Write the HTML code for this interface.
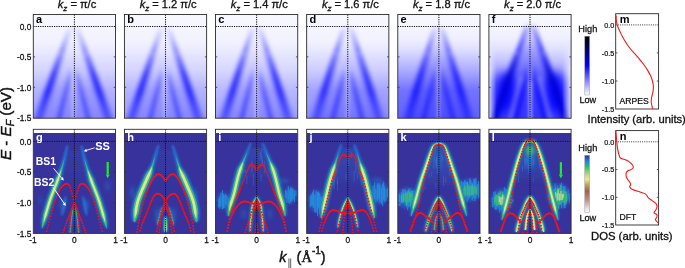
<!DOCTYPE html>
<html><head><meta charset="utf-8"><style>html,body{margin:0;padding:0;background:#fff;}body{width:685px;height:268px;overflow:hidden;}svg{display:block;}</style></head>
<body><svg xmlns="http://www.w3.org/2000/svg" width="685" height="268" viewBox="0 0 685 268">
<defs><clipPath id="ct0"><rect x="33.3" y="14.5" width="82.2" height="103.7"/></clipPath>
<linearGradient id="gt0" gradientUnits="userSpaceOnUse" x1="0" y1="14.5" x2="0" y2="118.2"><stop offset="-0" stop-color="#00f" stop-opacity="0.03"/><stop offset="0.12" stop-color="#00f" stop-opacity="0.04"/><stop offset="0.25" stop-color="#00f" stop-opacity="0.05"/><stop offset="0.34" stop-color="#00f" stop-opacity="0.08"/><stop offset="0.54" stop-color="#00f" stop-opacity="0.17"/><stop offset="0.73" stop-color="#00f" stop-opacity="0.3"/><stop offset="1" stop-color="#00f" stop-opacity="0.4"/></linearGradient>
<linearGradient id="gi0" gradientUnits="userSpaceOnUse" x1="0" y1="14.5" x2="0" y2="118.2"><stop offset="0.12" stop-color="#00f" stop-opacity="0"/><stop offset="0.34" stop-color="#00f" stop-opacity="0.02"/><stop offset="0.54" stop-color="#00f" stop-opacity="0.06"/><stop offset="0.73" stop-color="#00f" stop-opacity="0.12"/><stop offset="1" stop-color="#00f" stop-opacity="0.12"/></linearGradient>
<linearGradient id="gb0" gradientUnits="userSpaceOnUse" x1="0" y1="14.5" x2="0" y2="118.2"><stop offset="0.11" stop-color="#00f" stop-opacity="0"/><stop offset="0.15" stop-color="#00f" stop-opacity="0.1"/><stop offset="0.25" stop-color="#00f" stop-opacity="0.25"/><stop offset="0.34" stop-color="#00f" stop-opacity="0.42"/><stop offset="0.46" stop-color="#00f" stop-opacity="0.65"/><stop offset="0.58" stop-color="#00f" stop-opacity="0.85"/><stop offset="0.75" stop-color="#00f" stop-opacity="0.85"/><stop offset="0.87" stop-color="#00f" stop-opacity="0.62"/><stop offset="1" stop-color="#00f" stop-opacity="0.45"/></linearGradient>
<linearGradient id="gn0" gradientUnits="userSpaceOnUse" x1="0" y1="14.5" x2="0" y2="118.2"><stop offset="0.5" stop-color="#00f" stop-opacity="0"/><stop offset="0.63" stop-color="#00f" stop-opacity="0.32"/><stop offset="0.82" stop-color="#00f" stop-opacity="0.5"/><stop offset="1" stop-color="#00f" stop-opacity="0.5"/></linearGradient>
<filter id="b2_0" filterUnits="userSpaceOnUse" x="0" y="0" width="685" height="268"><feGaussianBlur stdDeviation="2.0"/></filter>
<filter id="b2_2" filterUnits="userSpaceOnUse" x="0" y="0" width="685" height="268"><feGaussianBlur stdDeviation="2.2"/></filter>
<filter id="b2_6" filterUnits="userSpaceOnUse" x="0" y="0" width="685" height="268"><feGaussianBlur stdDeviation="2.6"/></filter>
<filter id="b1_6" filterUnits="userSpaceOnUse" x="0" y="0" width="685" height="268"><feGaussianBlur stdDeviation="1.6"/></filter>
<clipPath id="ct1"><rect x="124.42" y="14.5" width="82.2" height="103.7"/></clipPath>
<linearGradient id="gt1" gradientUnits="userSpaceOnUse" x1="0" y1="14.5" x2="0" y2="118.2"><stop offset="-0" stop-color="#00f" stop-opacity="0.03"/><stop offset="0.12" stop-color="#00f" stop-opacity="0.04"/><stop offset="0.25" stop-color="#00f" stop-opacity="0.05"/><stop offset="0.34" stop-color="#00f" stop-opacity="0.08"/><stop offset="0.54" stop-color="#00f" stop-opacity="0.17"/><stop offset="0.73" stop-color="#00f" stop-opacity="0.3"/><stop offset="1" stop-color="#00f" stop-opacity="0.4"/></linearGradient>
<linearGradient id="gi1" gradientUnits="userSpaceOnUse" x1="0" y1="14.5" x2="0" y2="118.2"><stop offset="0.12" stop-color="#00f" stop-opacity="0"/><stop offset="0.34" stop-color="#00f" stop-opacity="0.02"/><stop offset="0.54" stop-color="#00f" stop-opacity="0.06"/><stop offset="0.73" stop-color="#00f" stop-opacity="0.12"/><stop offset="1" stop-color="#00f" stop-opacity="0.12"/></linearGradient>
<linearGradient id="gb1" gradientUnits="userSpaceOnUse" x1="0" y1="14.5" x2="0" y2="118.2"><stop offset="0.11" stop-color="#00f" stop-opacity="0"/><stop offset="0.15" stop-color="#00f" stop-opacity="0.1"/><stop offset="0.25" stop-color="#00f" stop-opacity="0.25"/><stop offset="0.34" stop-color="#00f" stop-opacity="0.42"/><stop offset="0.46" stop-color="#00f" stop-opacity="0.65"/><stop offset="0.58" stop-color="#00f" stop-opacity="0.84"/><stop offset="0.75" stop-color="#00f" stop-opacity="0.84"/><stop offset="0.87" stop-color="#00f" stop-opacity="0.62"/><stop offset="1" stop-color="#00f" stop-opacity="0.45"/></linearGradient>
<linearGradient id="gn1" gradientUnits="userSpaceOnUse" x1="0" y1="14.5" x2="0" y2="118.2"><stop offset="0.5" stop-color="#00f" stop-opacity="0"/><stop offset="0.63" stop-color="#00f" stop-opacity="0.32"/><stop offset="0.82" stop-color="#00f" stop-opacity="0.5"/><stop offset="1" stop-color="#00f" stop-opacity="0.5"/></linearGradient>
<clipPath id="ct2"><rect x="215.54" y="14.5" width="82.2" height="103.7"/></clipPath>
<linearGradient id="gt2" gradientUnits="userSpaceOnUse" x1="0" y1="14.5" x2="0" y2="118.2"><stop offset="-0" stop-color="#00f" stop-opacity="0.03"/><stop offset="0.12" stop-color="#00f" stop-opacity="0.04"/><stop offset="0.25" stop-color="#00f" stop-opacity="0.05"/><stop offset="0.34" stop-color="#00f" stop-opacity="0.08"/><stop offset="0.54" stop-color="#00f" stop-opacity="0.16"/><stop offset="0.73" stop-color="#00f" stop-opacity="0.28"/><stop offset="1" stop-color="#00f" stop-opacity="0.38"/></linearGradient>
<linearGradient id="gi2" gradientUnits="userSpaceOnUse" x1="0" y1="14.5" x2="0" y2="118.2"><stop offset="0.12" stop-color="#00f" stop-opacity="0"/><stop offset="0.34" stop-color="#00f" stop-opacity="0.03"/><stop offset="0.54" stop-color="#00f" stop-opacity="0.08"/><stop offset="0.73" stop-color="#00f" stop-opacity="0.14"/><stop offset="1" stop-color="#00f" stop-opacity="0.14"/></linearGradient>
<linearGradient id="gb2" gradientUnits="userSpaceOnUse" x1="0" y1="14.5" x2="0" y2="118.2"><stop offset="0.11" stop-color="#00f" stop-opacity="0"/><stop offset="0.15" stop-color="#00f" stop-opacity="0.12"/><stop offset="0.25" stop-color="#00f" stop-opacity="0.28"/><stop offset="0.34" stop-color="#00f" stop-opacity="0.45"/><stop offset="0.46" stop-color="#00f" stop-opacity="0.65"/><stop offset="0.58" stop-color="#00f" stop-opacity="0.82"/><stop offset="0.75" stop-color="#00f" stop-opacity="0.82"/><stop offset="0.87" stop-color="#00f" stop-opacity="0.62"/><stop offset="1" stop-color="#00f" stop-opacity="0.45"/></linearGradient>
<linearGradient id="gn2" gradientUnits="userSpaceOnUse" x1="0" y1="14.5" x2="0" y2="118.2"><stop offset="0.5" stop-color="#00f" stop-opacity="0"/><stop offset="0.63" stop-color="#00f" stop-opacity="0.34"/><stop offset="0.82" stop-color="#00f" stop-opacity="0.52"/><stop offset="1" stop-color="#00f" stop-opacity="0.52"/></linearGradient>
<clipPath id="ct3"><rect x="306.66" y="14.5" width="82.2" height="103.7"/></clipPath>
<linearGradient id="gt3" gradientUnits="userSpaceOnUse" x1="0" y1="14.5" x2="0" y2="118.2"><stop offset="-0" stop-color="#00f" stop-opacity="0.03"/><stop offset="0.12" stop-color="#00f" stop-opacity="0.04"/><stop offset="0.25" stop-color="#00f" stop-opacity="0.05"/><stop offset="0.34" stop-color="#00f" stop-opacity="0.09"/><stop offset="0.54" stop-color="#00f" stop-opacity="0.2"/><stop offset="0.73" stop-color="#00f" stop-opacity="0.36"/><stop offset="1" stop-color="#00f" stop-opacity="0.46"/></linearGradient>
<linearGradient id="gi3" gradientUnits="userSpaceOnUse" x1="0" y1="14.5" x2="0" y2="118.2"><stop offset="0.12" stop-color="#00f" stop-opacity="0"/><stop offset="0.34" stop-color="#00f" stop-opacity="0.05"/><stop offset="0.54" stop-color="#00f" stop-opacity="0.1"/><stop offset="0.73" stop-color="#00f" stop-opacity="0.16"/><stop offset="1" stop-color="#00f" stop-opacity="0.16"/></linearGradient>
<linearGradient id="gb3" gradientUnits="userSpaceOnUse" x1="0" y1="14.5" x2="0" y2="118.2"><stop offset="0.11" stop-color="#00f" stop-opacity="0"/><stop offset="0.15" stop-color="#00f" stop-opacity="0.14"/><stop offset="0.25" stop-color="#00f" stop-opacity="0.3"/><stop offset="0.34" stop-color="#00f" stop-opacity="0.48"/><stop offset="0.46" stop-color="#00f" stop-opacity="0.66"/><stop offset="0.58" stop-color="#00f" stop-opacity="0.8"/><stop offset="0.75" stop-color="#00f" stop-opacity="0.78"/><stop offset="0.87" stop-color="#00f" stop-opacity="0.55"/><stop offset="1" stop-color="#00f" stop-opacity="0.4"/></linearGradient>
<linearGradient id="gn3" gradientUnits="userSpaceOnUse" x1="0" y1="14.5" x2="0" y2="118.2"><stop offset="0.5" stop-color="#00f" stop-opacity="0"/><stop offset="0.63" stop-color="#00f" stop-opacity="0.36"/><stop offset="0.82" stop-color="#00f" stop-opacity="0.54"/><stop offset="1" stop-color="#00f" stop-opacity="0.54"/></linearGradient>
<clipPath id="ct4"><rect x="397.78" y="14.5" width="82.2" height="103.7"/></clipPath>
<linearGradient id="gt4" gradientUnits="userSpaceOnUse" x1="0" y1="14.5" x2="0" y2="118.2"><stop offset="-0" stop-color="#00f" stop-opacity="0.03"/><stop offset="0.12" stop-color="#00f" stop-opacity="0.04"/><stop offset="0.25" stop-color="#00f" stop-opacity="0.07"/><stop offset="0.34" stop-color="#00f" stop-opacity="0.13"/><stop offset="0.54" stop-color="#00f" stop-opacity="0.33"/><stop offset="0.73" stop-color="#00f" stop-opacity="0.55"/><stop offset="1" stop-color="#00f" stop-opacity="0.62"/></linearGradient>
<linearGradient id="gi4" gradientUnits="userSpaceOnUse" x1="0" y1="14.5" x2="0" y2="118.2"><stop offset="0.12" stop-color="#00f" stop-opacity="0"/><stop offset="0.34" stop-color="#00f" stop-opacity="0.12"/><stop offset="0.54" stop-color="#00f" stop-opacity="0.2"/><stop offset="0.73" stop-color="#00f" stop-opacity="0.2"/><stop offset="1" stop-color="#00f" stop-opacity="0.2"/></linearGradient>
<linearGradient id="gb4" gradientUnits="userSpaceOnUse" x1="0" y1="14.5" x2="0" y2="118.2"><stop offset="0.11" stop-color="#00f" stop-opacity="0"/><stop offset="0.15" stop-color="#00f" stop-opacity="0.15"/><stop offset="0.25" stop-color="#00f" stop-opacity="0.33"/><stop offset="0.34" stop-color="#00f" stop-opacity="0.5"/><stop offset="0.46" stop-color="#00f" stop-opacity="0.68"/><stop offset="0.58" stop-color="#00f" stop-opacity="0.82"/><stop offset="0.75" stop-color="#00f" stop-opacity="0.8"/><stop offset="0.87" stop-color="#00f" stop-opacity="0.58"/><stop offset="1" stop-color="#00f" stop-opacity="0.42"/></linearGradient>
<linearGradient id="gn4" gradientUnits="userSpaceOnUse" x1="0" y1="14.5" x2="0" y2="118.2"><stop offset="0.5" stop-color="#00f" stop-opacity="0"/><stop offset="0.63" stop-color="#00f" stop-opacity="0.38"/><stop offset="0.82" stop-color="#00f" stop-opacity="0.55"/><stop offset="1" stop-color="#00f" stop-opacity="0.55"/></linearGradient>
<clipPath id="ct5"><rect x="488.9" y="14.5" width="82.2" height="103.7"/></clipPath>
<linearGradient id="gt5" gradientUnits="userSpaceOnUse" x1="0" y1="14.5" x2="0" y2="118.2"><stop offset="-0" stop-color="#00f" stop-opacity="0.03"/><stop offset="0.12" stop-color="#00f" stop-opacity="0.04"/><stop offset="0.25" stop-color="#00f" stop-opacity="0.07"/><stop offset="0.34" stop-color="#00f" stop-opacity="0.13"/><stop offset="0.44" stop-color="#00f" stop-opacity="0.23"/><stop offset="0.54" stop-color="#00f" stop-opacity="0.36"/><stop offset="0.63" stop-color="#00f" stop-opacity="0.5"/><stop offset="0.73" stop-color="#00f" stop-opacity="0.6"/><stop offset="0.82" stop-color="#00f" stop-opacity="0.65"/><stop offset="1" stop-color="#00f" stop-opacity="0.68"/></linearGradient>
<linearGradient id="gi5" gradientUnits="userSpaceOnUse" x1="0" y1="14.5" x2="0" y2="118.2"><stop offset="0.12" stop-color="#00f" stop-opacity="0.04"/><stop offset="0.25" stop-color="#00f" stop-opacity="0.18"/><stop offset="0.34" stop-color="#00f" stop-opacity="0.28"/><stop offset="0.54" stop-color="#00f" stop-opacity="0.35"/><stop offset="0.73" stop-color="#00f" stop-opacity="0.4"/><stop offset="1" stop-color="#00f" stop-opacity="0.35"/></linearGradient>
<linearGradient id="gb5" gradientUnits="userSpaceOnUse" x1="0" y1="14.5" x2="0" y2="118.2"><stop offset="0.11" stop-color="#00f" stop-opacity="0.05"/><stop offset="0.13" stop-color="#00f" stop-opacity="0.3"/><stop offset="0.25" stop-color="#00f" stop-opacity="0.55"/><stop offset="0.34" stop-color="#00f" stop-opacity="0.7"/><stop offset="0.49" stop-color="#00f" stop-opacity="0.95"/><stop offset="0.73" stop-color="#00f" stop-opacity="0.98"/><stop offset="1" stop-color="#00f" stop-opacity="0.95"/></linearGradient>
<linearGradient id="gn5" gradientUnits="userSpaceOnUse" x1="0" y1="14.5" x2="0" y2="118.2"><stop offset="0.46" stop-color="#00f" stop-opacity="0"/><stop offset="0.61" stop-color="#00f" stop-opacity="0.5"/><stop offset="0.78" stop-color="#00f" stop-opacity="0.8"/><stop offset="1" stop-color="#00f" stop-opacity="0.8"/></linearGradient>
<filter id="b5_0" filterUnits="userSpaceOnUse" x="0" y="0" width="685" height="268"><feGaussianBlur stdDeviation="5.0"/></filter>
<linearGradient id="fd5" gradientUnits="userSpaceOnUse" x1="0" y1="50" x2="0" y2="118.2"><stop offset="0" stop-color="#000050" stop-opacity="0"/><stop offset="0.4" stop-color="#000050" stop-opacity="0.3"/><stop offset="1" stop-color="#000050" stop-opacity="0.25"/></linearGradient>
<filter id="b2_5" filterUnits="userSpaceOnUse" x="0" y="0" width="685" height="268"><feGaussianBlur stdDeviation="2.5"/></filter>
<linearGradient id="fe5" x1="0" y1="0" x2="1" y2="0"><stop offset="0" stop-color="#fff" stop-opacity="0.75"/><stop offset="0.04" stop-color="#fff" stop-opacity="0.35"/><stop offset="0.09" stop-color="#fff" stop-opacity="0"/><stop offset="0.89" stop-color="#fff" stop-opacity="0"/><stop offset="0.95" stop-color="#fff" stop-opacity="0.4"/><stop offset="1" stop-color="#fff" stop-opacity="0.8"/></linearGradient>
<linearGradient id="fm5" x1="0" y1="0" x2="0" y2="1"><stop offset="0" stop-color="#fff" stop-opacity="0"/><stop offset="0.35" stop-color="#fff" stop-opacity="1"/><stop offset="1" stop-color="#fff" stop-opacity="1"/></linearGradient>
<mask id="mk5"><rect x="488.9" y="41.5" width="82.2" height="76.7" fill="url(#fm5)"/></mask>
<clipPath id="cbp0"><rect x="33.3" y="133" width="82.2" height="100.4"/></clipPath>
<linearGradient id="hz0" gradientUnits="userSpaceOnUse" x1="0" y1="150" x2="0" y2="196"><stop offset="0" stop-color="#2f7fd8" stop-opacity="0.12"/><stop offset="0.6" stop-color="#2f7fd8" stop-opacity="0.07"/><stop offset="1" stop-color="#2f7fd8" stop-opacity="0"/></linearGradient>
<filter id="b1_2" filterUnits="userSpaceOnUse" x="0" y="0" width="685" height="268"><feGaussianBlur stdDeviation="1.2"/></filter>
<filter id="b1_0" filterUnits="userSpaceOnUse" x="0" y="0" width="685" height="268"><feGaussianBlur stdDeviation="1.0"/></filter>
<filter id="b0_7" filterUnits="userSpaceOnUse" x="0" y="0" width="685" height="268"><feGaussianBlur stdDeviation="0.7"/></filter>
<filter id="b0_5" filterUnits="userSpaceOnUse" x="0" y="0" width="685" height="268"><feGaussianBlur stdDeviation="0.5"/></filter>
<clipPath id="cbp1"><rect x="124.42" y="133" width="82.2" height="100.4"/></clipPath>
<linearGradient id="hz1" gradientUnits="userSpaceOnUse" x1="0" y1="150" x2="0" y2="190"><stop offset="0" stop-color="#2f7fd8" stop-opacity="0.12"/><stop offset="0.6" stop-color="#2f7fd8" stop-opacity="0.07"/><stop offset="1" stop-color="#2f7fd8" stop-opacity="0"/></linearGradient>
<clipPath id="cbp2"><rect x="215.54" y="133" width="82.2" height="100.4"/></clipPath>
<filter id="b0_6" filterUnits="userSpaceOnUse" x="0" y="0" width="685" height="268"><feGaussianBlur stdDeviation="0.6"/></filter>
<linearGradient id="hz2" gradientUnits="userSpaceOnUse" x1="0" y1="148" x2="0" y2="185"><stop offset="0" stop-color="#2f7fd8" stop-opacity="0.25"/><stop offset="0.6" stop-color="#2f7fd8" stop-opacity="0.15"/><stop offset="1" stop-color="#2f7fd8" stop-opacity="0"/></linearGradient>
<clipPath id="cbp3"><rect x="306.66" y="133" width="82.2" height="100.4"/></clipPath>
<linearGradient id="hz3" gradientUnits="userSpaceOnUse" x1="0" y1="148" x2="0" y2="190"><stop offset="0" stop-color="#2f7fd8" stop-opacity="0.28"/><stop offset="0.6" stop-color="#2f7fd8" stop-opacity="0.17"/><stop offset="1" stop-color="#2f7fd8" stop-opacity="0"/></linearGradient>
<clipPath id="cbp4"><rect x="397.78" y="133" width="82.2" height="100.4"/></clipPath>
<linearGradient id="hz4" gradientUnits="userSpaceOnUse" x1="0" y1="146" x2="0" y2="192"><stop offset="0" stop-color="#2f7fd8" stop-opacity="0.35"/><stop offset="0.6" stop-color="#2f7fd8" stop-opacity="0.21"/><stop offset="1" stop-color="#2f7fd8" stop-opacity="0"/></linearGradient>
<clipPath id="cbp5"><rect x="488.9" y="133" width="82.2" height="100.4"/></clipPath>
<linearGradient id="hz5" gradientUnits="userSpaceOnUse" x1="0" y1="144" x2="0" y2="185"><stop offset="0" stop-color="#2f7fd8" stop-opacity="0.35"/><stop offset="0.6" stop-color="#2f7fd8" stop-opacity="0.21"/><stop offset="1" stop-color="#2f7fd8" stop-opacity="0"/></linearGradient>
<linearGradient id="cb1" x1="0" y1="0" x2="0" y2="1"><stop offset="0" stop-color="#000"/><stop offset="0.5" stop-color="#00f"/><stop offset="1" stop-color="#fff"/></linearGradient>
<linearGradient id="cb2" x1="0" y1="0" x2="0" y2="1"><stop offset="0" stop-color="#26328a"/><stop offset="0.1" stop-color="#1f80e0"/><stop offset="0.2" stop-color="#2ebf6a"/><stop offset="0.32" stop-color="#a6d878"/><stop offset="0.42" stop-color="#f0e890"/><stop offset="0.52" stop-color="#c0a060"/><stop offset="0.63" stop-color="#a06048"/><stop offset="0.78" stop-color="#b89090"/><stop offset="1" stop-color="#fff"/></linearGradient></defs>
<g clip-path="url(#ct0)">
<rect x="33.3" y="14.5" width="82.2" height="103.7" fill="#fff"/>
<rect x="33.3" y="14.5" width="82.2" height="103.7" fill="url(#gt0)"/>
<path d="M71.39 23.5 L75.71 23.5 L111.25 126.2 L35.85 126.2 Z" fill="url(#gi0)" filter="url(#b2_0)"/>
<path d="M71.39 23.5 L61.35 52.5" stroke="url(#gb0)" stroke-width="4.5" fill="none" filter="url(#b2_2)"/>
<path d="M63.6 52.5 L59.1 52.5 L31.65 126.2 L40.05 126.2 Z" fill="url(#gb0)" filter="url(#b2_6)"/>
<path d="M75.71 23.5 L85.75 52.5" stroke="url(#gb0)" stroke-width="4.5" fill="none" filter="url(#b2_2)"/>
<path d="M83.5 52.5 L88 52.5 L115.45 126.2 L107.05 126.2 Z" fill="url(#gb0)" filter="url(#b2_6)"/>
<path d="M72.05 66.5 L57.13 126.2" stroke="url(#gn0)" stroke-width="4" fill="none" filter="url(#b2_0)"/>
<path d="M75.05 66.5 L89.98 126.2" stroke="url(#gn0)" stroke-width="4" fill="none" filter="url(#b2_0)"/>
<path d="M73.55 66.5 L73.55 126.2" stroke="#fff" stroke-opacity="0.25" stroke-width="4" fill="none" filter="url(#b1_6)"/>
</g>
<g clip-path="url(#ct1)">
<rect x="124.42" y="14.5" width="82.2" height="103.7" fill="#fff"/>
<rect x="124.42" y="14.5" width="82.2" height="103.7" fill="url(#gt1)"/>
<path d="M162.61 23.5 L167.03 23.5 L201.02 126.2 L128.62 126.2 Z" fill="url(#gi1)" filter="url(#b2_0)"/>
<path d="M162.61 23.5 L153.01 52.5" stroke="url(#gb1)" stroke-width="4.5" fill="none" filter="url(#b2_2)"/>
<path d="M155.26 52.5 L150.76 52.5 L124.42 126.2 L132.82 126.2 Z" fill="url(#gb1)" filter="url(#b2_6)"/>
<path d="M167.03 23.5 L176.63 52.5" stroke="url(#gb1)" stroke-width="4.5" fill="none" filter="url(#b2_2)"/>
<path d="M174.38 52.5 L178.88 52.5 L205.22 126.2 L196.82 126.2 Z" fill="url(#gb1)" filter="url(#b2_6)"/>
<path d="M163.32 66.5 L148.4 126.2" stroke="url(#gn1)" stroke-width="4" fill="none" filter="url(#b2_0)"/>
<path d="M166.32 66.5 L181.25 126.2" stroke="url(#gn1)" stroke-width="4" fill="none" filter="url(#b2_0)"/>
<path d="M164.82 66.5 L164.82 126.2" stroke="#fff" stroke-opacity="0.25" stroke-width="4" fill="none" filter="url(#b1_6)"/>
</g>
<g clip-path="url(#ct2)">
<rect x="215.54" y="14.5" width="82.2" height="103.7" fill="#fff"/>
<rect x="215.54" y="14.5" width="82.2" height="103.7" fill="url(#gt2)"/>
<path d="M253.94 23.5 L258.44 23.5 L290.99 126.2 L221.39 126.2 Z" fill="url(#gi2)" filter="url(#b2_0)"/>
<path d="M253.94 23.5 L244.75 52.5" stroke="url(#gb2)" stroke-width="4.5" fill="none" filter="url(#b2_2)"/>
<path d="M247 52.5 L242.5 52.5 L217.19 126.2 L225.59 126.2 Z" fill="url(#gb2)" filter="url(#b2_6)"/>
<path d="M258.44 23.5 L267.63 52.5" stroke="url(#gb2)" stroke-width="4.5" fill="none" filter="url(#b2_2)"/>
<path d="M265.38 52.5 L269.88 52.5 L295.19 126.2 L286.79 126.2 Z" fill="url(#gb2)" filter="url(#b2_6)"/>
<path d="M254.69 66.5 L239.77 126.2" stroke="url(#gn2)" stroke-width="4" fill="none" filter="url(#b2_0)"/>
<path d="M257.69 66.5 L272.62 126.2" stroke="url(#gn2)" stroke-width="4" fill="none" filter="url(#b2_0)"/>
<path d="M256.19 66.5 L256.19 126.2" stroke="#fff" stroke-opacity="0.25" stroke-width="4" fill="none" filter="url(#b1_6)"/>
</g>
<g clip-path="url(#ct3)">
<rect x="306.66" y="14.5" width="82.2" height="103.7" fill="#fff"/>
<rect x="306.66" y="14.5" width="82.2" height="103.7" fill="url(#gt3)"/>
<path d="M345.15 23.5 L349.67 23.5 L381.82 126.2 L313 126.2 Z" fill="url(#gi3)" filter="url(#b2_0)"/>
<path d="M345.15 23.5 L336.07 52.5" stroke="url(#gb3)" stroke-width="4.5" fill="none" filter="url(#b2_2)"/>
<path d="M338.32 52.5 L333.82 52.5 L308.8 126.2 L317.2 126.2 Z" fill="url(#gb3)" filter="url(#b2_6)"/>
<path d="M349.67 23.5 L358.75 52.5" stroke="url(#gb3)" stroke-width="4.5" fill="none" filter="url(#b2_2)"/>
<path d="M356.5 52.5 L361 52.5 L386.02 126.2 L377.62 126.2 Z" fill="url(#gb3)" filter="url(#b2_6)"/>
<path d="M345.91 66.5 L330.99 126.2" stroke="url(#gn3)" stroke-width="4" fill="none" filter="url(#b2_0)"/>
<path d="M348.91 66.5 L363.84 126.2" stroke="url(#gn3)" stroke-width="4" fill="none" filter="url(#b2_0)"/>
<path d="M347.41 66.5 L347.41 126.2" stroke="#fff" stroke-opacity="0.25" stroke-width="4" fill="none" filter="url(#b1_6)"/>
</g>
<g clip-path="url(#ct4)">
<rect x="397.78" y="14.5" width="82.2" height="103.7" fill="#fff"/>
<rect x="397.78" y="14.5" width="82.2" height="103.7" fill="url(#gt4)"/>
<path d="M435.97 23.5 L440.59 23.5 L471.19 126.2 L405.37 126.2 Z" fill="url(#gi4)" filter="url(#b2_0)"/>
<path d="M435.97 23.5 L427.33 52.5" stroke="url(#gb4)" stroke-width="4.5" fill="none" filter="url(#b2_2)"/>
<path d="M429.58 52.5 L425.08 52.5 L401.17 126.2 L409.57 126.2 Z" fill="url(#gb4)" filter="url(#b2_6)"/>
<path d="M440.59 23.5 L449.23 52.5" stroke="url(#gb4)" stroke-width="4.5" fill="none" filter="url(#b2_2)"/>
<path d="M446.98 52.5 L451.48 52.5 L475.39 126.2 L466.99 126.2 Z" fill="url(#gb4)" filter="url(#b2_6)"/>
<path d="M436.78 66.5 L421.86 126.2" stroke="url(#gn4)" stroke-width="4" fill="none" filter="url(#b2_0)"/>
<path d="M439.78 66.5 L454.71 126.2" stroke="url(#gn4)" stroke-width="4" fill="none" filter="url(#b2_0)"/>
<path d="M438.28 66.5 L438.28 126.2" stroke="#fff" stroke-opacity="0.25" stroke-width="4" fill="none" filter="url(#b1_6)"/>
</g>
<g clip-path="url(#ct5)">
<rect x="488.9" y="14.5" width="82.2" height="103.7" fill="#fff"/>
<rect x="488.9" y="14.5" width="82.2" height="103.7" fill="url(#gt5)"/>
<path d="M528.05 23.5 L532.35 23.5 L568.3 126.2 L492.11 126.2 Z" fill="url(#gi5)" filter="url(#b2_0)"/>
<path d="M528.05 23.5 L517.9 52.5" stroke="url(#gb5)" stroke-width="4.5" fill="none" filter="url(#b2_2)"/>
<path d="M520.15 52.5 L515.65 52.5 L487.91 126.2 L496.31 126.2 Z" fill="url(#gb5)" filter="url(#b2_6)"/>
<path d="M532.35 23.5 L542.5 52.5" stroke="url(#gb5)" stroke-width="4.5" fill="none" filter="url(#b2_2)"/>
<path d="M540.25 52.5 L544.75 52.5 L572.5 126.2 L564.1 126.2 Z" fill="url(#gb5)" filter="url(#b2_6)"/>
<path d="M528.7 66.5 L513.78 126.2" stroke="url(#gn5)" stroke-width="4" fill="none" filter="url(#b2_0)"/>
<path d="M531.7 66.5 L546.62 126.2" stroke="url(#gn5)" stroke-width="4" fill="none" filter="url(#b2_0)"/>
<path d="M530.2 66.5 L530.2 126.2" stroke="#fff" stroke-opacity="0.25" stroke-width="4" fill="none" filter="url(#b1_6)"/>
<ellipse cx="505.2" cy="92" rx="10" ry="20" fill="#00f" fill-opacity="0.85" filter="url(#b5_0)"/>
<ellipse cx="555.2" cy="92" rx="10" ry="20" fill="#00f" fill-opacity="0.85" filter="url(#b5_0)"/>
<path d="M528.05 23.5 L492.11 126.2" stroke="url(#fd5)" stroke-width="5" fill="none" filter="url(#b2_5)"/>
<path d="M532.35 23.5 L568.3 126.2" stroke="url(#fd5)" stroke-width="5" fill="none" filter="url(#b2_5)"/>
<path d="M521.2 76.5 L508.2 126.2" stroke="#fff" stroke-opacity="0.28" stroke-width="4" fill="none" filter="url(#b2_0)"/>
<path d="M539.2 76.5 L552.2 126.2" stroke="#fff" stroke-opacity="0.28" stroke-width="4" fill="none" filter="url(#b2_0)"/>
<path d="M530.2 81.5 L530.21 126.2" stroke="#fff" stroke-opacity="0.22" stroke-width="4" fill="none" filter="url(#b1_6)"/>
<rect x="488.9" y="41.5" width="82.2" height="76.7" fill="url(#fe5)" mask="url(#mk5)"/>
</g>
<rect x="33.3" y="129.3" width="82.2" height="3.7" fill="#fff"/>
<g clip-path="url(#cbp0)">
<rect x="33.3" y="133" width="82.2" height="100.4" fill="#37329c"/>
<path d="M68.98 150 L68.05 153.83 L67.18 157.67 L66.13 161.5 L65.11 165.33 L63.84 169.17 L62.57 173 L61.23 176.83 L59.97 180.67 L58.48 184.5 L57.06 188.33 L55.39 192.17 L53.95 196 L94.85 196 L93.41 192.17 L91.74 188.33 L90.32 184.5 L88.83 180.67 L87.57 176.83 L86.23 173 L84.96 169.17 L83.69 165.33 L82.67 161.5 L81.62 157.67 L80.75 153.83 L79.82 150Z" fill="url(#hz0)" filter="url(#b1_2)"/>
<ellipse cx="62.4" cy="205" rx="2.5" ry="6" fill="#1a86d8" fill-opacity="0.5" filter="url(#b2_0)"/>
<ellipse cx="86.4" cy="205" rx="2.5" ry="6" fill="#1a86d8" fill-opacity="0.5" filter="url(#b2_0)"/>
<ellipse cx="107.4" cy="186" rx="2.5" ry="6" fill="#1a86d8" fill-opacity="0.35" filter="url(#b2_0)"/>
<ellipse cx="40.4" cy="200" rx="2" ry="5" fill="#1a86d8" fill-opacity="0.3" filter="url(#b2_0)"/>
<path d="M66.62 145.29 L66 147.33 L65.57 148.75 L65.14 150.17 L64.64 151.85 L64.13 153.52 L63.76 154.71 L63.39 155.9 L63.02 157.09 L62.68 158.26 L62.33 159.44 L61.98 160.6 L61.48 162.18 L60.99 163.76 L60.51 165.15 L60.03 166.56 L59.54 167.9 L58.98 169.22 L58.34 170.49 L57.7 171.76 L57.04 173.03 L56.38 174.31 L55.69 175.61 L55.01 176.92 L54.29 178.29 L53.78 179.71 L53.22 181.2 L52.67 182.69 L52.08 184.21 L51.48 185.75 L50.86 187.32 L50.23 188.9 L49.6 190.52 L48.97 192.14 L48.35 193.79 L47.73 195.45 L47.14 197.12 L46.55 198.79 L46.16 199.99 L45.79 201.14 L45.41 202.32 L45.03 203.57 L44.66 204.79 L44.28 206.03 L43.91 207.28 L43.55 208.51 L43.19 209.75 L42.84 210.95 L42.51 212.13 L42.17 213.32 L41.83 214.98 L41.59 216.65 L41.38 218.06 L41.17 219.49 L40.84 221.81 L40.82 223.83 L41 225.53 L41.17 226.9 L41.31 228 L41.41 228.88 L42.39 229.12 L42.88 228.37 L43.49 227.45 L44.25 226.31 L45.19 224.94 L46.14 223.23 L47.03 221.11 L47.59 219.81 L48.14 218.49 L48.81 216.94 L49.38 215.37 L49.72 214.19 L50.06 213.01 L50.39 211.84 L50.75 210.62 L51.11 209.39 L51.46 208.17 L51.83 206.98 L52.2 205.76 L52.56 204.57 L52.93 203.45 L53.3 202.3 L53.65 201.21 L54.21 199.61 L54.77 198.01 L55.37 196.43 L55.97 194.83 L56.59 193.25 L57.22 191.65 L57.84 190.07 L58.47 188.48 L59.07 186.93 L59.68 185.35 L60.25 183.82 L60.82 182.29 L61.35 180.82 L61.67 179.3 L61.97 177.84 L62.26 176.38 L62.54 174.95 L62.82 173.51 L63.09 172.08 L63.35 170.65 L63.67 169.21 L64.06 167.8 L64.44 166.32 L64.81 164.84 L65.19 163.19 L65.57 161.54 L65.83 160.32 L66.08 159.11 L66.33 157.9 L66.55 156.66 L66.76 155.43 L66.97 154.19 L67.26 152.46 L67.55 150.73 L67.78 149.27 L68.02 147.81 L68.38 145.71Z" fill="#1f80dc" fill-opacity="0.88" filter="url(#b1_0)"/>
<path d="M64.29 158.66 L63.92 159.84 L63.54 161.01 L63 162.59 L62.45 164.17 L61.93 165.58 L61.41 166.99 L60.89 168.33 L60.31 169.66 L59.66 170.93 L59.01 172.21 L58.34 173.48 L57.67 174.76 L56.98 176.07 L56.28 177.37 L55.56 178.74 L55.05 180.18 L54.49 181.67 L53.94 183.17 L53.34 184.7 L52.74 186.24 L52.12 187.81 L51.49 189.4 L50.86 191.01 L50.23 192.63 L49.61 194.26 L48.99 195.91 L48.41 197.57 L47.83 199.23 L47.45 200.41 L47.07 201.56 L46.7 202.72 L46.32 203.96 L45.95 205.18 L45.57 206.41 L45.21 207.66 L44.85 208.89 L44.48 210.13 L44.14 211.32 L43.8 212.5 L43.46 213.69 L43.14 215.35 L42.91 217.02 L42.71 218.44 L42.52 219.86 L42.21 222.18 L42.04 224.14 L41.98 225.76 L41.95 227.09 L41.93 228.15 L42.26 228.23 L42.71 227.26 L43.27 226.07 L43.96 224.63 L44.77 222.87 L45.68 220.74 L46.25 219.43 L46.82 218.12 L47.5 216.57 L48.08 215 L48.42 213.82 L48.76 212.64 L49.09 211.46 L49.45 210.24 L49.81 209.01 L50.17 207.79 L50.54 206.58 L50.91 205.36 L51.28 204.16 L51.64 203.03 L52.01 201.89 L52.37 200.77 L52.94 199.16 L53.5 197.55 L54.11 195.95 L54.71 194.34 L55.33 192.75 L55.96 191.15 L56.58 189.58 L57.21 187.99 L57.81 186.44 L58.42 184.87 L58.99 183.34 L59.55 181.82 L60.08 180.36 L60.39 178.84 L60.68 177.38 L60.97 175.92 L61.24 174.49 L61.52 173.07 L61.77 171.64 L62.02 170.22 L62.32 168.78 L62.67 167.37 L63.01 165.9 L63.35 164.43 L63.68 162.78 L64.02 161.13 L64.24 159.92 L64.46 158.71Z" fill="#3cc36a" fill-opacity="0.92" filter="url(#b0_7)"/>
<path d="M61.1 169.92 L60.51 171.22 L59.92 172.52 L59.31 173.82 L58.71 175.12 L58.08 176.46 L57.44 177.79 L56.78 179.18 L56.27 180.62 L55.71 182.13 L55.15 183.63 L54.55 185.17 L53.95 186.71 L53.33 188.29 L52.7 189.87 L52.07 191.48 L51.44 193.09 L50.83 194.72 L50.22 196.36 L49.64 198 L49.06 199.65 L48.68 200.81 L48.31 201.96 L47.94 203.11 L47.56 204.34 L47.19 205.56 L46.82 206.78 L46.45 208.02 L46.09 209.25 L45.73 210.49 L45.39 211.68 L45.05 212.86 L44.72 214.04 L44.38 215.69 L44.13 217.37 L43.92 218.78 L43.71 220.19 L43.38 222.49 L43.6 222.55 L44.49 220.41 L45.05 219.09 L45.6 217.78 L46.26 216.22 L46.83 214.64 L47.17 213.46 L47.51 212.28 L47.84 211.1 L48.2 209.87 L48.56 208.64 L48.92 207.42 L49.29 206.2 L49.67 204.98 L50.04 203.77 L50.4 202.63 L50.78 201.49 L51.14 200.35 L51.71 198.73 L52.28 197.11 L52.89 195.5 L53.5 193.88 L54.12 192.28 L54.75 190.68 L55.37 189.1 L56 187.52 L56.6 185.97 L57.21 184.41 L57.77 182.89 L58.33 181.38 L58.85 179.93 L59.23 178.43 L59.58 176.99 L59.94 175.56 L60.27 174.16 L60.6 172.75 L60.92 171.36 L61.23 169.96Z" fill="#ecea9a" fill-opacity="0.9" filter="url(#b0_5)"/>
<path d="M80.42 145.71 L80.78 147.81 L81.02 149.27 L81.25 150.73 L81.54 152.46 L81.83 154.19 L82.04 155.43 L82.25 156.66 L82.47 157.9 L82.72 159.11 L82.97 160.32 L83.23 161.54 L83.61 163.19 L83.99 164.84 L84.36 166.32 L84.74 167.8 L85.13 169.21 L85.45 170.65 L85.71 172.08 L85.98 173.51 L86.26 174.95 L86.54 176.38 L86.83 177.84 L87.13 179.3 L87.45 180.82 L87.98 182.29 L88.55 183.82 L89.12 185.35 L89.73 186.93 L90.33 188.48 L90.96 190.07 L91.58 191.65 L92.21 193.25 L92.83 194.83 L93.43 196.43 L94.03 198.01 L94.59 199.61 L95.15 201.21 L95.5 202.3 L95.87 203.45 L96.24 204.57 L96.6 205.76 L96.97 206.98 L97.34 208.17 L97.69 209.39 L98.05 210.62 L98.41 211.84 L98.74 213.01 L99.08 214.19 L99.42 215.37 L99.99 216.94 L100.66 218.49 L101.21 219.81 L101.77 221.11 L102.66 223.23 L103.61 224.94 L104.55 226.31 L105.31 227.45 L105.92 228.37 L106.41 229.12 L107.39 228.88 L107.49 228 L107.63 226.9 L107.8 225.53 L107.98 223.83 L107.96 221.81 L107.63 219.49 L107.42 218.06 L107.21 216.65 L106.97 214.98 L106.63 213.32 L106.29 212.13 L105.96 210.95 L105.61 209.75 L105.25 208.51 L104.89 207.28 L104.52 206.03 L104.14 204.79 L103.77 203.57 L103.39 202.32 L103.01 201.14 L102.64 199.99 L102.25 198.79 L101.66 197.12 L101.07 195.45 L100.45 193.79 L99.83 192.14 L99.2 190.52 L98.57 188.9 L97.94 187.32 L97.32 185.75 L96.72 184.21 L96.13 182.69 L95.58 181.2 L95.02 179.71 L94.51 178.29 L93.79 176.92 L93.11 175.61 L92.42 174.31 L91.76 173.03 L91.1 171.76 L90.46 170.49 L89.82 169.22 L89.26 167.9 L88.77 166.56 L88.29 165.15 L87.81 163.76 L87.32 162.18 L86.82 160.6 L86.47 159.44 L86.12 158.26 L85.78 157.09 L85.41 155.9 L85.04 154.71 L84.67 153.52 L84.16 151.85 L83.66 150.17 L83.23 148.75 L82.8 147.33 L82.18 145.29Z" fill="#1f80dc" fill-opacity="0.88" filter="url(#b1_0)"/>
<path d="M84.34 158.71 L84.56 159.92 L84.78 161.13 L85.12 162.78 L85.45 164.43 L85.79 165.9 L86.13 167.37 L86.48 168.78 L86.78 170.22 L87.03 171.64 L87.28 173.07 L87.56 174.49 L87.83 175.92 L88.12 177.38 L88.41 178.84 L88.72 180.36 L89.25 181.82 L89.81 183.34 L90.38 184.87 L90.99 186.44 L91.59 187.99 L92.22 189.58 L92.84 191.15 L93.47 192.75 L94.09 194.34 L94.69 195.95 L95.3 197.55 L95.86 199.16 L96.43 200.77 L96.79 201.89 L97.16 203.03 L97.52 204.16 L97.89 205.36 L98.26 206.58 L98.63 207.79 L98.99 209.01 L99.35 210.24 L99.71 211.46 L100.04 212.64 L100.38 213.82 L100.72 215 L101.3 216.57 L101.98 218.12 L102.55 219.43 L103.12 220.74 L104.03 222.87 L104.84 224.63 L105.53 226.07 L106.09 227.26 L106.54 228.23 L106.87 228.15 L106.85 227.09 L106.82 225.76 L106.76 224.14 L106.59 222.18 L106.28 219.86 L106.09 218.44 L105.89 217.02 L105.66 215.35 L105.34 213.69 L105 212.5 L104.66 211.32 L104.32 210.13 L103.95 208.89 L103.59 207.66 L103.23 206.41 L102.85 205.18 L102.48 203.96 L102.1 202.72 L101.73 201.56 L101.35 200.41 L100.97 199.23 L100.39 197.57 L99.81 195.91 L99.19 194.26 L98.57 192.63 L97.94 191.01 L97.31 189.4 L96.68 187.81 L96.06 186.24 L95.46 184.7 L94.86 183.17 L94.31 181.67 L93.75 180.18 L93.24 178.74 L92.52 177.37 L91.82 176.07 L91.13 174.76 L90.46 173.48 L89.79 172.21 L89.14 170.93 L88.49 169.66 L87.91 168.33 L87.39 166.99 L86.87 165.58 L86.35 164.17 L85.8 162.59 L85.26 161.01 L84.88 159.84 L84.51 158.66Z" fill="#3cc36a" fill-opacity="0.92" filter="url(#b0_7)"/>
<path d="M87.57 169.96 L87.88 171.36 L88.2 172.75 L88.53 174.16 L88.86 175.56 L89.22 176.99 L89.57 178.43 L89.95 179.93 L90.47 181.38 L91.03 182.89 L91.59 184.41 L92.2 185.97 L92.8 187.52 L93.43 189.1 L94.05 190.68 L94.68 192.28 L95.3 193.88 L95.91 195.5 L96.52 197.11 L97.09 198.73 L97.66 200.35 L98.02 201.49 L98.4 202.63 L98.76 203.77 L99.13 204.98 L99.51 206.2 L99.88 207.42 L100.24 208.64 L100.6 209.87 L100.96 211.1 L101.29 212.28 L101.63 213.46 L101.97 214.64 L102.54 216.22 L103.2 217.78 L103.75 219.09 L104.31 220.41 L105.2 222.55 L105.42 222.49 L105.09 220.19 L104.88 218.78 L104.67 217.37 L104.42 215.69 L104.08 214.04 L103.75 212.86 L103.41 211.68 L103.07 210.49 L102.71 209.25 L102.35 208.02 L101.98 206.78 L101.61 205.56 L101.24 204.34 L100.86 203.11 L100.49 201.96 L100.12 200.81 L99.74 199.65 L99.16 198 L98.58 196.36 L97.97 194.72 L97.36 193.09 L96.73 191.48 L96.1 189.87 L95.47 188.29 L94.85 186.71 L94.25 185.17 L93.65 183.63 L93.09 182.13 L92.53 180.62 L92.02 179.18 L91.36 177.79 L90.72 176.46 L90.09 175.12 L89.49 173.82 L88.88 172.52 L88.29 171.22 L87.7 169.92Z" fill="#ecea9a" fill-opacity="0.9" filter="url(#b0_5)"/>
<path d="M73.11 205.91 L72.81 206.88 L72.42 208.15 L71.94 209.7 L71.4 211.51 L71.03 213.57 L70.71 215.84 L70.54 217.23 L70.37 218.6 L70.18 220.27 L69.99 221.94 L69.79 223.72 L69.6 225.5 L69.42 227.2 L69.24 228.91 L69.08 230.37 L68.93 231.82 L68.71 233.87 L71.09 234.13 L71.31 232.08 L71.47 230.62 L71.62 229.16 L71.8 227.46 L71.99 225.75 L72.18 223.98 L72.37 222.21 L72.56 220.55 L72.75 218.89 L72.92 217.52 L73.09 216.16 L73.41 213.93 L73.7 211.9 L73.81 210.05 L73.92 208.44 L74.02 207.11 L74.09 206.09Z" fill="#1f80dc" fill-opacity="0.88" filter="url(#b1_0)"/>
<path d="M73.34 206.98 L72.98 208.26 L72.56 209.82 L72.08 211.62 L71.73 213.68 L71.4 215.93 L71.23 217.31 L71.06 218.69 L70.87 220.35 L70.68 222.02 L70.49 223.8 L70.3 225.57 L70.11 227.28 L69.93 228.98 L69.78 230.44 L69.62 231.9 L69.4 233.95 L70.4 234.05 L70.62 232 L70.77 230.55 L70.93 229.09 L71.11 227.38 L71.29 225.68 L71.48 223.9 L71.68 222.13 L71.87 220.47 L72.06 218.8 L72.23 217.43 L72.4 216.07 L72.71 213.83 L73.02 211.78 L73.19 209.93 L73.36 208.33 L73.5 207.01Z" fill="#3cc36a" fill-opacity="0.92" filter="url(#b0_7)"/>
<path d="M74.71 206.09 L74.78 207.11 L74.88 208.44 L74.99 210.05 L75.1 211.9 L75.39 213.93 L75.71 216.16 L75.88 217.52 L76.05 218.89 L76.24 220.55 L76.43 222.21 L76.62 223.98 L76.81 225.75 L77 227.46 L77.18 229.16 L77.33 230.62 L77.49 232.08 L77.71 234.13 L80.09 233.87 L79.87 231.82 L79.72 230.37 L79.56 228.91 L79.38 227.2 L79.2 225.5 L79.01 223.72 L78.81 221.94 L78.62 220.27 L78.43 218.6 L78.26 217.23 L78.09 215.84 L77.77 213.57 L77.4 211.51 L76.86 209.7 L76.38 208.15 L75.99 206.88 L75.69 205.91Z" fill="#1f80dc" fill-opacity="0.88" filter="url(#b1_0)"/>
<path d="M75.3 207.01 L75.44 208.33 L75.61 209.93 L75.78 211.78 L76.09 213.83 L76.4 216.07 L76.57 217.43 L76.74 218.8 L76.93 220.47 L77.12 222.13 L77.32 223.9 L77.51 225.68 L77.69 227.38 L77.87 229.09 L78.03 230.55 L78.18 232 L78.4 234.05 L79.4 233.95 L79.18 231.9 L79.02 230.44 L78.87 228.98 L78.69 227.28 L78.5 225.57 L78.31 223.8 L78.12 222.02 L77.93 220.35 L77.74 218.69 L77.57 217.31 L77.4 215.93 L77.07 213.68 L76.72 211.62 L76.24 209.82 L75.82 208.26 L75.46 206.98Z" fill="#3cc36a" fill-opacity="0.92" filter="url(#b0_7)"/>
<path d="M65.41 195.9 L64.99 196.95 L64.41 198.4 L63.8 200.13 L63.42 202.05 L63.03 203.97 L62.67 205.75 L62.32 207.54 L61.93 209.46 L61.55 211.38 L61.45 213.21 L61.43 214.77 L61.41 215.9 L62.39 216.1 L62.81 215.05 L63.39 213.6 L64 211.87 L64.38 209.95 L64.77 208.03 L65.13 206.25 L65.48 204.46 L65.87 202.54 L66.25 200.62 L66.35 198.79 L66.37 197.23 L66.39 196.1Z" fill="#1f80dc" fill-opacity="0.88" filter="url(#b1_0)"/>
<path d="M82.41 196.1 L82.43 197.23 L82.45 198.79 L82.55 200.62 L82.93 202.54 L83.32 204.46 L83.67 206.25 L84.03 208.03 L84.42 209.95 L84.8 211.87 L85.41 213.6 L85.99 215.05 L86.41 216.1 L87.39 215.9 L87.37 214.77 L87.35 213.21 L87.25 211.38 L86.87 209.46 L86.48 207.54 L86.13 205.75 L85.77 203.97 L85.38 202.05 L85 200.13 L84.39 198.4 L83.81 196.95 L83.39 195.9Z" fill="#1f80dc" fill-opacity="0.88" filter="url(#b1_0)"/>
<path d="M46 234h0M46.74 231.08h0M47.5 228.09h0M48.26 225.11h0M49.03 222.11h0M49.8 219.13h0M50.57 216.17h0M51.37 213.19h0M52.17 210.33h0M52.97 207.55h0M53.78 204.86h0M54.58 202.31h0M55.4 199.83h0M56.24 197.5h0M57.06 195.36h0M57.87 193.43h0M58.7 191.62h0M59.53 190.01h0M60.34 188.6h0M61.16 187.41h0M62 186.44h0M62.81 185.68h0M63.68 185h0M64.51 184.43h0M65.34 183.99h0M66.17 183.78h0M67.07 183.87h0M67.94 184.15h0M68.8 184.78h0M69.64 186.09h0M70.44 188.09h0M71.27 190.63h0M72.08 193.38h0M72.85 196.36h0M73.53 199.37h0M74.34 202.3h0M75.17 204.74h0M76 206.97h0M76.81 209.06h0M77.62 211.13h0M78.44 213.22h0M79.25 215.29h0M80.06 217.3h0M80.86 219.28h0M81.66 221.28h0M82.47 223.39h0M83.28 225.63h0M84.1 227.93h0M84.91 230.29h0M85.72 232.61h0" stroke="#ff1010" stroke-width="1.9" stroke-linecap="round" fill="none"/>
<path d="M102.8 234h0M102.06 231.08h0M101.3 228.09h0M100.54 225.11h0M99.77 222.11h0M99 219.13h0M98.23 216.17h0M97.43 213.19h0M96.63 210.33h0M95.83 207.55h0M95.02 204.86h0M94.22 202.31h0M93.4 199.83h0M92.56 197.5h0M91.74 195.36h0M90.93 193.43h0M90.1 191.62h0M89.27 190.01h0M88.46 188.6h0M87.64 187.41h0M86.8 186.44h0M85.99 185.68h0M85.12 185h0M84.29 184.43h0M83.46 183.99h0M82.63 183.78h0M81.73 183.87h0M80.86 184.15h0M80 184.78h0M79.16 186.09h0M78.36 188.09h0M77.53 190.63h0M76.72 193.38h0M75.95 196.36h0M75.27 199.37h0M74.46 202.3h0M73.63 204.74h0M72.8 206.97h0M71.99 209.06h0M71.18 211.13h0M70.36 213.22h0M69.55 215.29h0M68.74 217.3h0M67.94 219.28h0M67.14 221.28h0M66.33 223.39h0M65.52 225.63h0M64.7 227.93h0M63.89 230.29h0M63.08 232.61h0" stroke="#ff1010" stroke-width="1.9" stroke-linecap="round" fill="none"/>
<path d="M74.4 203h0M73.59 204.69h0M72.77 206.54h0M71.95 208.83h0M71.24 211.77h0M70.85 214.81h0M70.57 217.9h0M70.33 220.97h0M70.09 224.03h0M69.87 227.06h0M69.67 230.09h0M69.46 233.13h0" stroke="#ff1010" stroke-width="1.9" stroke-linecap="round" fill="none"/>
<path d="M74.4 203h0M75.21 204.69h0M76.03 206.54h0M76.85 208.83h0M77.56 211.77h0M77.95 214.81h0M78.23 217.9h0M78.47 220.97h0M78.71 224.03h0M78.93 227.06h0M79.13 230.09h0M79.34 233.13h0" stroke="#ff1010" stroke-width="1.9" stroke-linecap="round" fill="none"/>
</g>
<rect x="124.42" y="129.3" width="82.2" height="3.7" fill="#fff"/>
<g clip-path="url(#cbp1)">
<rect x="124.42" y="133" width="82.2" height="100.4" fill="#37329c"/>
<path d="M159.63 150 L158.6 153.33 L157.6 156.67 L156.7 160 L155.58 163.33 L154.6 166.67 L153.38 170 L152.11 173.33 L150.38 176.67 L148.92 180 L147.46 183.33 L145.99 186.67 L144.68 190 L186.36 190 L185.05 186.67 L183.58 183.33 L182.12 180 L180.66 176.67 L178.93 173.33 L177.66 170 L176.44 166.67 L175.46 163.33 L174.34 160 L173.44 156.67 L172.44 153.33 L171.41 150Z" fill="url(#hz1)" filter="url(#b1_2)"/>
<ellipse cx="132.52" cy="193" rx="2.5" ry="8" fill="#1a86d8" fill-opacity="0.4" filter="url(#b2_0)"/>
<ellipse cx="157.52" cy="215" rx="2.5" ry="8" fill="#1a86d8" fill-opacity="0.45" filter="url(#b2_0)"/>
<ellipse cx="173.52" cy="215" rx="2.5" ry="8" fill="#1a86d8" fill-opacity="0.45" filter="url(#b2_0)"/>
<ellipse cx="195.52" cy="195" rx="2.5" ry="8" fill="#1a86d8" fill-opacity="0.3" filter="url(#b2_0)"/>
<path d="M157.66 144.75 L157.17 146.03 L156.69 147.32 L156.24 148.54 L155.79 149.77 L155.34 150.98 L154.81 152.41 L154.28 153.84 L153.75 155.27 L153.24 156.76 L152.72 158.25 L152.2 159.74 L151.71 161.13 L151.21 162.52 L150.72 163.9 L150.3 165.01 L149.7 166.1 L149.06 167.11 L148.3 168.23 L147.56 169.31 L146.33 170.97 L145.22 172.35 L144.25 173.88 L143.35 175.79 L142.81 177.03 L142.29 178.21 L141.66 179.69 L141.03 181.14 L140.56 182.24 L140.07 183.35 L139.58 184.47 L139.07 185.66 L138.56 186.84 L138.04 188.05 L137.52 189.27 L137.02 190.47 L136.5 191.72 L136.03 192.91 L135.58 194.07 L135.09 195.31 L134.52 196.95 L133.93 198.64 L133.48 200.22 L133.04 201.78 L132.7 203.29 L132.37 204.77 L132.12 206.19 L131.87 207.58 L131.67 208.87 L131.48 210.14 L131.36 212.4 L131.43 214.4 L131.47 216.2 L131.55 217.8 L131.73 219.15 L132.22 220.28 L132.62 221.16 L132.92 221.85 L136.12 222.15 L136.55 221.5 L137.08 220.68 L137.74 219.72 L138.19 218.57 L138.64 217.22 L139.21 215.6 L139.88 213.64 L140.39 211.42 L140.57 210.22 L140.75 209.05 L140.97 207.79 L141.19 206.56 L141.49 205.26 L141.77 203.99 L142.14 202.66 L142.51 201.36 L143.02 199.91 L143.54 198.42 L143.96 197.36 L144.41 196.2 L144.84 195.1 L145.32 193.95 L145.83 192.75 L146.32 191.57 L146.82 190.41 L147.33 189.23 L147.84 188.05 L148.32 186.95 L148.81 185.84 L149.3 184.71 L149.93 183.24 L150.55 181.79 L151.05 180.63 L151.53 179.54 L152.37 177.75 L152.98 176.02 L153.42 174.06 L153.82 171.78 L154.01 170.31 L154.18 168.89 L154.29 167.6 L154.45 166.37 L154.78 165.18 L155.16 163.73 L155.53 162.29 L155.9 160.85 L156.28 159.31 L156.66 157.77 L157.04 156.23 L157.36 154.74 L157.68 153.25 L158 151.76 L158.27 150.48 L158.54 149.21 L158.81 147.94 L159.09 146.6 L159.38 145.25Z" fill="#1f80dc" fill-opacity="0.88" filter="url(#b1_0)"/>
<path d="M154.82 157.23 L154.26 158.71 L153.7 160.19 L153.16 161.57 L152.63 162.95 L152.09 164.33 L151.64 165.45 L151.04 166.53 L150.4 167.58 L149.65 168.72 L148.91 169.84 L147.68 171.56 L146.57 172.99 L145.61 174.52 L144.71 176.41 L144.18 177.63 L143.67 178.81 L143.04 180.28 L142.41 181.74 L141.93 182.84 L141.45 183.95 L140.96 185.06 L140.45 186.25 L139.93 187.44 L139.42 188.64 L138.91 189.85 L138.41 191.05 L137.89 192.28 L137.43 193.46 L136.97 194.61 L136.5 195.83 L135.93 197.44 L135.36 199.09 L134.93 200.63 L134.5 202.14 L134.17 203.62 L133.84 205.07 L133.59 206.46 L133.35 207.82 L133.15 209.1 L132.97 210.35 L132.86 212.62 L132.97 214.64 L133.06 216.43 L133.17 217.99 L133.32 219.3 L133.55 220.39 L133.75 221.26 L133.9 221.94 L135.14 222.06 L135.41 221.4 L135.75 220.57 L136.16 219.57 L136.57 218.38 L137.05 216.99 L137.67 215.36 L138.38 213.42 L138.9 211.21 L139.09 209.99 L139.27 208.8 L139.5 207.52 L139.72 206.26 L140.02 204.93 L140.31 203.62 L140.7 202.26 L141.08 200.91 L141.6 199.42 L142.13 197.9 L142.56 196.81 L143.01 195.66 L143.45 194.54 L143.94 193.37 L144.44 192.17 L144.94 190.99 L145.44 189.82 L145.95 188.63 L146.46 187.45 L146.95 186.35 L147.43 185.24 L147.92 184.12 L148.55 182.65 L149.17 181.19 L149.68 180.03 L150.17 178.91 L151.02 177.11 L151.63 175.39 L152.07 173.48 L152.47 171.25 L152.66 169.82 L152.84 168.42 L152.95 167.16 L153.11 165.93 L153.41 164.74 L153.74 163.29 L154.07 161.85 L154.4 160.4 L154.74 158.85 L155.08 157.3Z" fill="#3cc36a" fill-opacity="0.92" filter="url(#b0_7)"/>
<path d="M151.87 166.8 L151.33 167.9 L150.68 169.1 L150.03 170.28 L148.94 172.11 L147.95 173.64 L147.05 175.21 L146.17 177.08 L145.65 178.27 L145.13 179.44 L144.51 180.91 L143.88 182.37 L143.4 183.48 L142.91 184.59 L142.43 185.7 L141.92 186.89 L141.4 188.07 L140.89 189.26 L140.38 190.47 L139.88 191.67 L139.37 192.88 L138.92 194.05 L138.46 195.2 L138 196.38 L137.45 197.97 L136.89 199.58 L136.47 201.06 L136.05 202.54 L135.73 203.97 L135.41 205.39 L135.17 206.74 L134.93 208.08 L134.74 209.34 L134.55 210.58 L134.43 212.85 L134.51 214.88 L134.58 216.64 L134.67 218.16 L135.06 218.21 L135.54 216.78 L136.13 215.12 L136.81 213.19 L137.32 210.98 L137.51 209.75 L137.69 208.54 L137.92 207.24 L138.16 205.94 L138.46 204.58 L138.76 203.23 L139.16 201.82 L139.55 200.42 L140.09 198.89 L140.63 197.35 L141.07 196.22 L141.52 195.07 L141.97 193.93 L142.46 192.75 L142.97 191.55 L143.46 190.36 L143.97 189.18 L144.49 188 L145 186.82 L145.48 185.71 L145.96 184.6 L146.45 183.48 L147.08 182.02 L147.71 180.56 L148.21 179.39 L148.71 178.25 L149.58 176.42 L150.25 174.73 L150.8 172.92 L151.35 170.8 L151.63 169.45 L151.91 168.1 L152.12 166.89Z" fill="#ecea9a" fill-opacity="0.9" filter="url(#b0_5)"/>
<path d="M171.66 145.25 L171.95 146.6 L172.23 147.94 L172.5 149.21 L172.77 150.48 L173.04 151.76 L173.36 153.25 L173.68 154.74 L174 156.23 L174.38 157.77 L174.76 159.31 L175.14 160.85 L175.51 162.29 L175.88 163.73 L176.26 165.18 L176.59 166.37 L176.75 167.6 L176.86 168.89 L177.03 170.31 L177.22 171.78 L177.62 174.06 L178.06 176.02 L178.67 177.75 L179.51 179.54 L179.99 180.63 L180.49 181.79 L181.11 183.24 L181.74 184.71 L182.23 185.84 L182.72 186.95 L183.2 188.05 L183.71 189.23 L184.22 190.41 L184.72 191.57 L185.21 192.75 L185.72 193.95 L186.2 195.1 L186.63 196.2 L187.08 197.36 L187.5 198.42 L188.02 199.91 L188.53 201.36 L188.9 202.66 L189.27 203.99 L189.55 205.26 L189.85 206.56 L190.07 207.79 L190.29 209.05 L190.47 210.22 L190.65 211.42 L191.16 213.64 L191.83 215.6 L192.4 217.22 L192.85 218.57 L193.3 219.72 L193.96 220.68 L194.49 221.5 L194.92 222.15 L198.12 221.85 L198.42 221.16 L198.82 220.28 L199.31 219.15 L199.49 217.8 L199.57 216.2 L199.61 214.4 L199.68 212.4 L199.56 210.14 L199.37 208.87 L199.17 207.58 L198.92 206.19 L198.67 204.77 L198.34 203.29 L198 201.78 L197.56 200.22 L197.11 198.64 L196.52 196.95 L195.95 195.31 L195.46 194.07 L195.01 192.91 L194.54 191.72 L194.02 190.47 L193.52 189.27 L193 188.05 L192.48 186.84 L191.97 185.66 L191.46 184.47 L190.97 183.35 L190.48 182.24 L190.01 181.14 L189.38 179.69 L188.75 178.21 L188.23 177.03 L187.69 175.79 L186.79 173.88 L185.82 172.35 L184.71 170.97 L183.48 169.31 L182.74 168.23 L181.98 167.11 L181.34 166.1 L180.74 165.01 L180.32 163.9 L179.83 162.52 L179.33 161.13 L178.84 159.74 L178.32 158.25 L177.8 156.76 L177.29 155.27 L176.76 153.84 L176.23 152.41 L175.7 150.98 L175.25 149.77 L174.8 148.54 L174.35 147.32 L173.87 146.03 L173.38 144.75Z" fill="#1f80dc" fill-opacity="0.88" filter="url(#b1_0)"/>
<path d="M175.96 157.3 L176.3 158.85 L176.64 160.4 L176.97 161.85 L177.3 163.29 L177.63 164.74 L177.93 165.93 L178.09 167.16 L178.2 168.42 L178.38 169.82 L178.57 171.25 L178.97 173.48 L179.41 175.39 L180.02 177.11 L180.87 178.91 L181.36 180.03 L181.87 181.19 L182.49 182.65 L183.12 184.12 L183.61 185.24 L184.09 186.35 L184.58 187.45 L185.09 188.63 L185.6 189.82 L186.1 190.99 L186.6 192.17 L187.1 193.37 L187.59 194.54 L188.03 195.66 L188.48 196.81 L188.91 197.9 L189.44 199.42 L189.96 200.91 L190.34 202.26 L190.73 203.62 L191.02 204.93 L191.32 206.26 L191.54 207.52 L191.77 208.8 L191.95 209.99 L192.14 211.21 L192.66 213.42 L193.37 215.36 L193.99 216.99 L194.47 218.38 L194.88 219.57 L195.29 220.57 L195.63 221.4 L195.9 222.06 L197.14 221.94 L197.29 221.26 L197.49 220.39 L197.72 219.3 L197.87 217.99 L197.98 216.43 L198.07 214.64 L198.18 212.62 L198.07 210.35 L197.89 209.1 L197.69 207.82 L197.45 206.46 L197.2 205.07 L196.87 203.62 L196.54 202.14 L196.11 200.63 L195.68 199.09 L195.11 197.44 L194.54 195.83 L194.07 194.61 L193.61 193.46 L193.15 192.28 L192.63 191.05 L192.13 189.85 L191.62 188.64 L191.11 187.44 L190.59 186.25 L190.08 185.06 L189.59 183.95 L189.11 182.84 L188.63 181.74 L188 180.28 L187.37 178.81 L186.86 177.63 L186.33 176.41 L185.43 174.52 L184.47 172.99 L183.36 171.56 L182.13 169.84 L181.39 168.72 L180.64 167.58 L180 166.53 L179.4 165.45 L178.95 164.33 L178.41 162.95 L177.88 161.57 L177.34 160.19 L176.78 158.71 L176.22 157.23Z" fill="#3cc36a" fill-opacity="0.92" filter="url(#b0_7)"/>
<path d="M178.92 166.89 L179.13 168.1 L179.41 169.45 L179.69 170.8 L180.24 172.92 L180.79 174.73 L181.46 176.42 L182.33 178.25 L182.83 179.39 L183.33 180.56 L183.96 182.02 L184.59 183.48 L185.08 184.6 L185.56 185.71 L186.04 186.82 L186.55 188 L187.07 189.18 L187.58 190.36 L188.07 191.55 L188.58 192.75 L189.07 193.93 L189.52 195.07 L189.97 196.22 L190.41 197.35 L190.95 198.89 L191.49 200.42 L191.88 201.82 L192.28 203.23 L192.58 204.58 L192.88 205.94 L193.12 207.24 L193.35 208.54 L193.53 209.75 L193.72 210.98 L194.23 213.19 L194.91 215.12 L195.5 216.78 L195.98 218.21 L196.37 218.16 L196.46 216.64 L196.53 214.88 L196.61 212.85 L196.49 210.58 L196.3 209.34 L196.11 208.08 L195.87 206.74 L195.63 205.39 L195.31 203.97 L194.99 202.54 L194.57 201.06 L194.15 199.58 L193.59 197.97 L193.04 196.38 L192.58 195.2 L192.12 194.05 L191.67 192.88 L191.16 191.67 L190.66 190.47 L190.15 189.26 L189.64 188.07 L189.12 186.89 L188.61 185.7 L188.13 184.59 L187.64 183.48 L187.16 182.37 L186.53 180.91 L185.91 179.44 L185.39 178.27 L184.87 177.08 L183.99 175.21 L183.09 173.64 L182.1 172.11 L181.01 170.28 L180.36 169.1 L179.71 167.9 L179.17 166.8Z" fill="#ecea9a" fill-opacity="0.9" filter="url(#b0_5)"/>
<path d="M162.04 205.85 L161.5 206.88 L160.75 208.29 L159.93 210 L159.35 211.92 L158.78 213.86 L158.27 215.66 L157.79 217.46 L157.3 219.39 L156.82 221.32 L156.66 223.17 L156.59 224.74 L156.53 225.88 L157.51 226.12 L157.98 225.08 L158.64 223.65 L159.35 221.93 L159.82 220.02 L160.3 218.11 L160.77 216.34 L161.27 214.58 L161.84 212.67 L162.42 210.75 L162.7 208.89 L162.87 207.3 L163 206.15Z" fill="#1f80dc" fill-opacity="0.88" filter="url(#b1_0)"/>
<path d="M162.06 207.05 L161.41 208.5 L160.7 210.23 L160.12 212.15 L159.55 214.08 L159.04 215.87 L158.56 217.66 L158.07 219.58 L157.6 221.51 L157.33 223.33 L157.15 224.88 L157.42 224.94 L157.96 223.48 L158.57 221.74 L159.04 219.83 L159.53 217.91 L160 216.13 L160.51 214.36 L161.07 212.44 L161.65 210.52 L162.03 208.69 L162.32 207.13Z" fill="#3cc36a" fill-opacity="0.92" filter="url(#b0_7)"/>
<path d="M168.04 206.15 L168.17 207.3 L168.34 208.89 L168.62 210.75 L169.2 212.67 L169.77 214.58 L170.27 216.34 L170.74 218.11 L171.22 220.02 L171.69 221.93 L172.4 223.65 L173.06 225.08 L173.53 226.12 L174.51 225.88 L174.45 224.74 L174.38 223.17 L174.22 221.32 L173.74 219.39 L173.25 217.46 L172.77 215.66 L172.26 213.86 L171.69 211.92 L171.11 210 L170.29 208.29 L169.54 206.88 L169 205.85Z" fill="#1f80dc" fill-opacity="0.88" filter="url(#b1_0)"/>
<path d="M168.72 207.13 L169.01 208.69 L169.39 210.52 L169.97 212.44 L170.53 214.36 L171.04 216.13 L171.51 217.91 L172 219.83 L172.47 221.74 L173.08 223.48 L173.62 224.94 L173.89 224.88 L173.71 223.33 L173.44 221.51 L172.97 219.58 L172.48 217.66 L172 215.87 L171.49 214.08 L170.92 212.15 L170.34 210.23 L169.63 208.5 L168.98 207.05Z" fill="#3cc36a" fill-opacity="0.92" filter="url(#b0_7)"/>
<path d="M164.77 215.95 L164.35 216.8 L163.77 217.97 L163.29 219.37 L163.19 220.91 L163.1 222.46 L163.02 223.9 L162.96 225.34 L162.9 226.89 L162.84 228.43 L163.02 229.87 L163.28 231.08 L163.47 231.96 L165.97 232.04 L166.22 231.18 L166.56 229.99 L166.84 228.57 L166.89 227.04 L166.95 225.51 L167.02 224.1 L167.09 222.69 L167.19 221.16 L167.28 219.63 L166.99 218.18 L166.57 216.94 L166.27 216.05Z" fill="#1f80dc" fill-opacity="0.88" filter="url(#b1_0)"/>
<path d="M165.09 216.85 L164.49 218.01 L163.99 219.42 L163.89 220.96 L163.8 222.5 L163.72 223.94 L163.66 225.37 L163.6 226.91 L163.54 228.45 L163.73 229.89 L164.01 231.1 L164.21 231.98 L165.23 232.02 L165.49 231.15 L165.85 229.96 L166.14 228.55 L166.19 227.01 L166.25 225.48 L166.32 224.06 L166.4 222.65 L166.49 221.12 L166.59 219.58 L166.28 218.13 L165.84 216.9Z" fill="#3cc36a" fill-opacity="0.92" filter="url(#b0_7)"/>
<path d="M165.38 216.86 L165.18 218.06 L164.99 219.48 L164.89 221.02 L164.8 222.56 L164.72 223.99 L164.66 225.41 L164.59 226.95 L164.54 228.49 L164.56 229.92 L164.61 231.12 L164.65 232 L164.79 232 L164.89 231.13 L165.02 229.93 L165.14 228.51 L165.19 226.97 L165.25 225.44 L165.32 224.01 L165.4 222.59 L165.49 221.06 L165.59 219.52 L165.59 218.09 L165.55 216.88Z" fill="#ecea9a" fill-opacity="0.9" filter="url(#b0_5)"/>
<path d="M164.77 216.05 L164.47 216.94 L164.05 218.18 L163.76 219.63 L163.85 221.16 L163.95 222.69 L164.02 224.1 L164.09 225.51 L164.15 227.04 L164.2 228.57 L164.48 229.99 L164.82 231.18 L165.07 232.04 L167.57 231.96 L167.76 231.08 L168.02 229.87 L168.2 228.43 L168.14 226.89 L168.08 225.34 L168.02 223.9 L167.94 222.46 L167.85 220.91 L167.75 219.37 L167.27 217.97 L166.69 216.8 L166.27 215.95Z" fill="#1f80dc" fill-opacity="0.88" filter="url(#b1_0)"/>
<path d="M165.2 216.9 L164.76 218.13 L164.45 219.58 L164.55 221.12 L164.64 222.65 L164.72 224.06 L164.79 225.48 L164.85 227.01 L164.9 228.55 L165.19 229.96 L165.55 231.15 L165.81 232.02 L166.83 231.98 L167.03 231.1 L167.31 229.89 L167.5 228.45 L167.44 226.91 L167.38 225.37 L167.32 223.94 L167.24 222.5 L167.15 220.96 L167.05 219.42 L166.55 218.01 L165.95 216.85Z" fill="#3cc36a" fill-opacity="0.92" filter="url(#b0_7)"/>
<path d="M165.49 216.88 L165.45 218.09 L165.45 219.52 L165.55 221.06 L165.64 222.59 L165.72 224.01 L165.79 225.44 L165.85 226.97 L165.9 228.51 L166.02 229.93 L166.15 231.13 L166.25 232 L166.39 232 L166.43 231.12 L166.48 229.92 L166.5 228.49 L166.45 226.95 L166.38 225.41 L166.32 223.99 L166.24 222.56 L166.15 221.02 L166.05 219.48 L165.86 218.06 L165.66 216.86Z" fill="#ecea9a" fill-opacity="0.9" filter="url(#b0_5)"/>
<path d="M137.12 232h0M137.6 228.94h0M138.06 225.9h0M138.55 222.86h0M139.07 219.9h0M139.67 216.88h0M140.33 213.92h0M141.04 210.95h0M141.81 207.99h0M142.62 205.04h0M143.44 202.24h0M144.26 199.56h0M145.06 197.05h0M145.88 194.57h0M146.7 192.25h0M147.51 190.05h0M148.32 188.03h0M149.16 186.12h0M149.97 184.4h0M150.79 182.78h0M151.61 181.26h0M152.46 179.77h0M153.27 178.46h0M154.11 177.28h0M154.94 176.33h0M155.79 175.5h0M156.67 174.8h0M157.6 174.38h0M158.49 174.3h0M159.29 174.41h0M160.18 174.76h0M161.06 175.27h0M161.87 175.91h0M162.72 176.87h0M163.57 178.02h0M164.38 179.16h0M165.18 180.45h0" stroke="#ff1010" stroke-width="1.9" stroke-linecap="round" fill="none"/>
<path d="M193.92 232h0M193.44 228.94h0M192.98 225.9h0M192.49 222.86h0M191.97 219.9h0M191.37 216.88h0M190.71 213.92h0M190 210.95h0M189.23 207.99h0M188.42 205.04h0M187.6 202.24h0M186.78 199.56h0M185.98 197.05h0M185.16 194.57h0M184.34 192.25h0M183.53 190.05h0M182.72 188.03h0M181.88 186.12h0M181.07 184.4h0M180.25 182.78h0M179.43 181.26h0M178.58 179.77h0M177.77 178.46h0M176.93 177.28h0M176.1 176.33h0M175.25 175.5h0M174.37 174.8h0M173.44 174.38h0M172.55 174.3h0M171.75 174.41h0M170.86 174.76h0M169.98 175.27h0M169.17 175.91h0M168.32 176.87h0M167.47 178.02h0M166.66 179.16h0M165.86 180.45h0" stroke="#ff1010" stroke-width="1.9" stroke-linecap="round" fill="none"/>
<path d="M139.52 233.8h0M140.24 230.78h0M141 227.8h0M141.83 225.09h0M142.65 222.81h0M143.47 220.75h0M144.3 218.75h0M145.13 216.75h0M145.96 214.76h0M146.79 212.71h0M147.62 210.61h0M148.42 208.54h0M149.25 206.37h0M150.05 204.31h0M150.86 202.32h0M151.67 200.44h0M152.47 198.7h0M153.31 197.08h0M154.15 195.77h0M154.96 194.83h0M155.78 194.23h0M156.69 193.9h0M157.52 193.8h0M158.34 193.86h0M159.19 194.12h0M160.02 194.51h0M160.91 195.07h0M161.79 195.81h0M162.6 196.65h0M163.48 197.7h0M164.34 198.88h0M165.15 200.28h0M165.98 201.94h0M166.81 203.72h0M167.62 205.6h0M168.45 207.79h0M169.26 210.27h0M170.06 213.06h0M170.84 216.05h0M171.56 219.03h0M172.23 221.98h0M172.9 224.99h0M173.55 227.97h0M174.21 231h0" stroke="#ff1010" stroke-width="1.9" stroke-linecap="round" fill="none"/>
<path d="M191.52 233.8h0M190.8 230.78h0M190.04 227.8h0M189.21 225.09h0M188.39 222.81h0M187.57 220.75h0M186.74 218.75h0M185.91 216.75h0M185.08 214.76h0M184.25 212.71h0M183.42 210.61h0M182.62 208.54h0M181.79 206.37h0M180.99 204.31h0M180.18 202.32h0M179.37 200.44h0M178.57 198.7h0M177.73 197.08h0M176.89 195.77h0M176.08 194.83h0M175.26 194.23h0M174.35 193.9h0M173.52 193.8h0M172.7 193.86h0M171.85 194.12h0M171.02 194.51h0M170.13 195.07h0M169.25 195.81h0M168.44 196.65h0M167.56 197.7h0M166.7 198.88h0M165.89 200.28h0M165.06 201.94h0M164.23 203.72h0M163.42 205.6h0M162.59 207.79h0M161.78 210.27h0M160.98 213.06h0M160.2 216.05h0M159.48 219.03h0M158.81 221.98h0M158.14 224.99h0M157.49 227.97h0M156.83 231h0" stroke="#ff1010" stroke-width="1.9" stroke-linecap="round" fill="none"/>
<path d="M165.52 206h0M164.72 207.78h0M163.9 209.67h0M163.09 211.8h0M162.27 214.47h0M161.54 217.39h0M160.95 220.41h0M160.46 223.47h0M160.04 226.46h0M159.62 229.53h0M159.22 232.52h0" stroke="#ff1010" stroke-width="1.9" stroke-linecap="round" fill="none"/>
<path d="M165.52 206h0M166.32 207.78h0M167.14 209.67h0M167.95 211.8h0M168.77 214.47h0M169.5 217.39h0M170.09 220.41h0M170.58 223.47h0M171 226.46h0M171.42 229.53h0M171.82 232.52h0" stroke="#ff1010" stroke-width="1.9" stroke-linecap="round" fill="none"/>
</g>
<rect x="215.54" y="129.3" width="82.2" height="3.7" fill="#fff"/>
<g clip-path="url(#cbp2)">
<rect x="215.54" y="133" width="82.2" height="100.4" fill="#37329c"/>
<ellipse cx="223.14" cy="201" rx="5.7" ry="8.1" fill="#1f8fe0" fill-opacity="0.55" filter="url(#b2_0)"/>
<path d="M218.69 199.33v7.58M219.76 197.15v11.28M220.91 192.97v13.01M222.48 190.64v17.77M223.46 194.23v13.71M224.91 195.35v12.11M225.92 193.95v10.3M227.2 196.2v10.64M228.76 198.11v4.36" stroke="#2196e4" stroke-width="1.1" stroke-opacity="0.75" fill="none" stroke-linecap="round" filter="url(#b0_6)"/>
<ellipse cx="290.14" cy="195" rx="5.7" ry="8.1" fill="#1f8fe0" fill-opacity="0.55" filter="url(#b2_0)"/>
<path d="M285.52 190.1v6.81M286.84 191.62v10.49M288.29 186.57v16.08M289.77 189.25v14.47M290.9 187.62v14.23M292.09 188.43v12.37M293.09 189.33v9.62M294.48 190.88v10.54M295.88 190.83v4.77" stroke="#2196e4" stroke-width="1.1" stroke-opacity="0.75" fill="none" stroke-linecap="round" filter="url(#b0_6)"/>
<path d="M251.44 148 L250.19 151.08 L248.92 154.17 L247.71 157.25 L246.32 160.33 L245.1 163.42 L243.94 166.5 L242.79 169.58 L241.72 172.67 L240.8 175.75 L240.05 178.83 L239.27 181.92 L238.53 185 L274.75 185 L274.01 181.92 L273.23 178.83 L272.48 175.75 L271.56 172.67 L270.49 169.58 L269.34 166.5 L268.18 163.42 L266.96 160.33 L265.57 157.25 L264.36 154.17 L263.09 151.08 L261.84 148Z" fill="url(#hz2)" filter="url(#b1_2)"/>
<path d="M264.67 161.3v11.68M262.13 155.58v9.63M245.4 169.07v4.22M262.33 160.13v6.02M252 161.16v10.77M253.35 173.42v11.99M261.34 148.3v11M260.23 152.14v8.47M246.87 175.54v8.32M261.17 174.35v6.47" stroke="#3aa0e8" stroke-width="0.9" stroke-opacity="0.3" fill="none" filter="url(#b0_5)"/>
<ellipse cx="283.64" cy="181" rx="6" ry="2.5" fill="#1a86d8" fill-opacity="0.4" filter="url(#b2_0)"/>
<ellipse cx="243.64" cy="214" rx="2.5" ry="6" fill="#1a86d8" fill-opacity="0.35" filter="url(#b2_0)"/>
<ellipse cx="269.64" cy="214" rx="2.5" ry="6" fill="#1a86d8" fill-opacity="0.35" filter="url(#b2_0)"/>
<path d="M249.79 142.71 L249.53 143.29 L249.26 143.96 L248.9 144.8 L248.4 145.92 L247.69 147.44 L246.73 149.45 L246.06 150.76 L245.42 152.09 L244.89 153.18 L244.37 154.28 L243.84 155.37 L243.24 156.6 L242.65 157.83 L242.06 159.07 L241.44 160.38 L240.62 161.59 L239.78 162.82 L238.97 164.06 L238.18 165.27 L237.36 166.54 L236.64 167.77 L236.2 169.02 L235.73 170.37 L235.34 171.7 L234.97 172.94 L234.58 174.25 L234.22 175.61 L233.89 176.9 L233.54 178.23 L233.23 179.57 L232.92 180.86 L232.61 182.17 L232.33 183.43 L232.05 184.67 L231.77 185.9 L231.37 187.61 L230.99 189.29 L230.63 190.74 L230.27 192.18 L229.95 193.33 L229.63 194.49 L229.05 196.39 L228.52 198.02 L228.01 199.57 L227.49 201.22 L226.99 203.08 L226.74 205.3 L226.51 207.69 L226.32 210.08 L226.27 212.33 L226.61 214.3 L226.85 215.72 L229.43 216.28 L230.24 215.09 L231.36 213.43 L232.25 211.38 L233.08 209.18 L233.91 207.03 L234.69 205.12 L235.17 203.48 L235.63 202.01 L236.12 200.5 L236.68 198.79 L237.3 196.76 L237.65 195.49 L238.01 194.22 L238.39 192.68 L238.77 191.15 L239.17 189.4 L239.57 187.68 L239.85 186.43 L240.13 185.19 L240.41 183.97 L240.71 182.7 L241.01 181.41 L241.31 180.16 L241.63 178.91 L241.97 177.62 L242.28 176.4 L242.63 175.22 L243 173.98 L243.35 172.83 L243.76 171.66 L244.19 170.41 L244.36 169.12 L244.56 167.74 L244.79 166.31 L245.01 164.9 L245.26 163.49 L245.52 162.05 L245.99 160.7 L246.45 159.43 L246.91 158.15 L247.38 156.86 L247.79 155.72 L248.21 154.57 L248.63 153.42 L249.1 151.99 L249.55 150.55 L250.19 148.37 L250.64 146.73 L250.96 145.5 L251.18 144.59 L251.34 143.89 L251.49 143.29Z" fill="#1f80dc" fill-opacity="0.88" filter="url(#b1_0)"/>
<path d="M246.97 152.73 L246.41 153.82 L245.84 154.9 L245.28 155.98 L244.65 157.2 L244.02 158.41 L243.39 159.63 L242.74 160.91 L241.91 162.12 L241.08 163.34 L240.28 164.56 L239.48 165.78 L238.67 167.02 L237.97 168.23 L237.53 169.48 L237.07 170.8 L236.68 172.1 L236.31 173.34 L235.93 174.63 L235.58 175.96 L235.24 177.25 L234.9 178.57 L234.59 179.89 L234.28 181.18 L233.98 182.48 L233.69 183.74 L233.41 184.98 L233.13 186.22 L232.74 187.93 L232.35 189.62 L231.99 191.08 L231.63 192.54 L231.3 193.71 L230.97 194.89 L230.38 196.81 L229.85 198.45 L229.34 200 L228.84 201.61 L228.34 203.44 L228.12 205.63 L227.93 208.01 L227.76 210.4 L227.66 212.63 L227.68 214.53 L227.69 215.9 L228.59 216.1 L229.18 214.86 L229.98 213.13 L230.81 211.07 L231.66 208.86 L232.53 206.69 L233.34 204.76 L233.82 203.09 L234.29 201.58 L234.79 200.06 L235.34 198.37 L235.95 196.36 L236.3 195.11 L236.65 193.86 L237.03 192.34 L237.41 190.82 L237.81 189.09 L238.2 187.37 L238.48 186.13 L238.76 184.88 L239.04 183.66 L239.34 182.38 L239.65 181.09 L239.95 179.82 L240.28 178.56 L240.61 177.27 L240.94 176.02 L241.29 174.82 L241.66 173.58 L242.01 172.4 L242.43 171.2 L242.87 169.95 L243.04 168.64 L243.26 167.24 L243.49 165.8 L243.71 164.38 L243.96 162.96 L244.22 161.52 L244.65 160.15 L245.08 158.85 L245.51 157.55 L245.93 156.26 L246.31 155.1 L246.69 153.94 L247.08 152.78Z" fill="#3cc36a" fill-opacity="0.92" filter="url(#b0_7)"/>
<path d="M242.75 162.46 L242.02 163.71 L241.31 164.96 L240.61 166.21 L239.9 167.48 L239.29 168.69 L238.85 169.95 L238.4 171.23 L238.02 172.5 L237.65 173.74 L237.27 175 L236.93 176.31 L236.6 177.6 L236.26 178.91 L235.95 180.21 L235.65 181.5 L235.34 182.8 L235.06 184.05 L234.78 185.29 L234.5 186.53 L234.1 188.24 L233.71 189.94 L233.35 191.42 L232.98 192.9 L232.65 194.09 L232.31 195.28 L231.72 197.23 L231.18 198.88 L230.67 200.42 L230.18 202.01 L229.69 203.8 L229.46 205.95 L229.24 208.31 L229.05 210.68 L229.52 210.78 L230.35 208.56 L231.19 206.37 L231.99 204.4 L232.48 202.69 L232.96 201.15 L233.46 199.63 L234.01 197.95 L234.61 195.96 L234.96 194.74 L235.3 193.5 L235.68 192 L236.05 190.5 L236.44 188.77 L236.84 187.06 L237.12 185.82 L237.4 184.57 L237.68 183.34 L237.98 182.05 L238.29 180.76 L238.59 179.49 L238.92 178.21 L239.26 176.92 L239.59 175.65 L239.95 174.43 L240.32 173.18 L240.68 171.97 L241.11 170.74 L241.55 169.48 L241.82 168.18 L242.13 166.8 L242.45 165.4 L242.78 164.01 L243.13 162.61Z" fill="#ecea9a" fill-opacity="0.9" filter="url(#b0_5)"/>
<path d="M261.79 143.29 L261.94 143.89 L262.1 144.59 L262.32 145.5 L262.64 146.73 L263.09 148.37 L263.73 150.55 L264.18 151.99 L264.65 153.42 L265.07 154.57 L265.49 155.72 L265.9 156.86 L266.37 158.15 L266.83 159.43 L267.29 160.7 L267.76 162.05 L268.02 163.49 L268.27 164.9 L268.49 166.31 L268.72 167.74 L268.92 169.12 L269.09 170.41 L269.52 171.66 L269.93 172.83 L270.28 173.98 L270.65 175.22 L271 176.4 L271.31 177.62 L271.65 178.91 L271.97 180.16 L272.27 181.41 L272.57 182.7 L272.87 183.97 L273.15 185.19 L273.43 186.43 L273.71 187.68 L274.11 189.4 L274.51 191.15 L274.89 192.68 L275.27 194.22 L275.63 195.49 L275.98 196.76 L276.6 198.79 L277.16 200.5 L277.65 202.01 L278.11 203.48 L278.59 205.12 L279.37 207.03 L280.2 209.18 L281.03 211.38 L281.92 213.43 L283.04 215.09 L283.85 216.28 L286.43 215.72 L286.67 214.3 L287.01 212.33 L286.96 210.08 L286.77 207.69 L286.54 205.3 L286.29 203.08 L285.79 201.22 L285.27 199.57 L284.76 198.02 L284.23 196.39 L283.65 194.49 L283.33 193.33 L283.01 192.18 L282.65 190.74 L282.29 189.29 L281.91 187.61 L281.51 185.9 L281.23 184.67 L280.95 183.43 L280.67 182.17 L280.36 180.86 L280.05 179.57 L279.74 178.23 L279.39 176.9 L279.06 175.61 L278.7 174.25 L278.31 172.94 L277.94 171.7 L277.55 170.37 L277.08 169.02 L276.64 167.77 L275.92 166.54 L275.1 165.27 L274.31 164.06 L273.5 162.82 L272.66 161.59 L271.84 160.38 L271.22 159.07 L270.63 157.83 L270.04 156.6 L269.44 155.37 L268.91 154.28 L268.39 153.18 L267.86 152.09 L267.22 150.76 L266.55 149.45 L265.59 147.44 L264.88 145.92 L264.38 144.8 L264.02 143.96 L263.75 143.29 L263.49 142.71Z" fill="#1f80dc" fill-opacity="0.88" filter="url(#b1_0)"/>
<path d="M266.2 152.78 L266.59 153.94 L266.97 155.1 L267.35 156.26 L267.77 157.55 L268.2 158.85 L268.63 160.15 L269.06 161.52 L269.32 162.96 L269.57 164.38 L269.79 165.8 L270.02 167.24 L270.24 168.64 L270.41 169.95 L270.85 171.2 L271.27 172.4 L271.62 173.58 L271.99 174.82 L272.34 176.02 L272.67 177.27 L273 178.56 L273.33 179.82 L273.63 181.09 L273.94 182.38 L274.24 183.66 L274.52 184.88 L274.8 186.13 L275.08 187.37 L275.47 189.09 L275.87 190.82 L276.25 192.34 L276.63 193.86 L276.98 195.11 L277.33 196.36 L277.94 198.37 L278.49 200.06 L278.99 201.58 L279.46 203.09 L279.94 204.76 L280.75 206.69 L281.62 208.86 L282.47 211.07 L283.3 213.13 L284.1 214.86 L284.69 216.1 L285.59 215.9 L285.6 214.53 L285.62 212.63 L285.52 210.4 L285.35 208.01 L285.16 205.63 L284.94 203.44 L284.44 201.61 L283.94 200 L283.43 198.45 L282.9 196.81 L282.31 194.89 L281.98 193.71 L281.65 192.54 L281.29 191.08 L280.93 189.62 L280.54 187.93 L280.15 186.22 L279.87 184.98 L279.59 183.74 L279.3 182.48 L279 181.18 L278.69 179.89 L278.38 178.57 L278.04 177.25 L277.7 175.96 L277.35 174.63 L276.97 173.34 L276.6 172.1 L276.21 170.8 L275.75 169.48 L275.31 168.23 L274.61 167.02 L273.8 165.78 L273 164.56 L272.2 163.34 L271.37 162.12 L270.54 160.91 L269.89 159.63 L269.26 158.41 L268.63 157.2 L268 155.98 L267.44 154.9 L266.87 153.82 L266.31 152.73Z" fill="#3cc36a" fill-opacity="0.92" filter="url(#b0_7)"/>
<path d="M270.15 162.61 L270.5 164.01 L270.83 165.4 L271.15 166.8 L271.46 168.18 L271.73 169.48 L272.17 170.74 L272.6 171.97 L272.96 173.18 L273.33 174.43 L273.69 175.65 L274.02 176.92 L274.36 178.21 L274.69 179.49 L274.99 180.76 L275.3 182.05 L275.6 183.34 L275.88 184.57 L276.16 185.82 L276.44 187.06 L276.84 188.77 L277.23 190.5 L277.6 192 L277.98 193.5 L278.32 194.74 L278.67 195.96 L279.27 197.95 L279.82 199.63 L280.32 201.15 L280.8 202.69 L281.29 204.4 L282.09 206.37 L282.93 208.56 L283.76 210.78 L284.23 210.68 L284.04 208.31 L283.82 205.95 L283.59 203.8 L283.1 202.01 L282.61 200.42 L282.1 198.88 L281.56 197.23 L280.97 195.28 L280.63 194.09 L280.3 192.9 L279.93 191.42 L279.57 189.94 L279.18 188.24 L278.78 186.53 L278.5 185.29 L278.22 184.05 L277.94 182.8 L277.63 181.5 L277.33 180.21 L277.02 178.91 L276.68 177.6 L276.35 176.31 L276.01 175 L275.63 173.74 L275.26 172.5 L274.88 171.23 L274.43 169.95 L273.99 168.69 L273.38 167.48 L272.67 166.21 L271.97 164.96 L271.26 163.71 L270.53 162.46Z" fill="#ecea9a" fill-opacity="0.9" filter="url(#b0_5)"/>
<path d="M255.52 196.04 L254.93 196.95 L254.09 198.18 L253.07 199.71 L251.97 201.52 L251.06 203.63 L250.4 205.92 L250.15 207.27 L249.93 208.54 L249.75 210 L249.58 211.44 L249.45 212.97 L249.31 214.48 L249.21 215.99 L249.1 217.49 L249.01 218.88 L248.92 220.27 L248.75 222.65 L248.58 224.71 L248.59 226.62 L248.63 228.32 L248.67 229.79 L248.7 231 L248.73 231.92 L251.55 232.08 L251.68 231.17 L251.85 229.97 L252.05 228.53 L252.29 226.86 L252.57 225.01 L252.73 222.95 L252.91 220.55 L253 219.14 L253.09 217.76 L253.2 216.27 L253.3 214.79 L253.43 213.31 L253.56 211.85 L253.72 210.48 L253.88 209.13 L254.09 207.97 L254.28 206.88 L254.84 204.91 L255.49 203.04 L256.11 201.24 L256.76 199.62 L257.35 198.23 L257.76 197.16Z" fill="#1f80dc" fill-opacity="0.88" filter="url(#b1_0)"/>
<path d="M256.19 196.37 L255.6 197.31 L254.76 198.54 L253.76 200.06 L252.7 201.84 L251.81 203.89 L251.18 206.11 L250.94 207.41 L250.72 208.66 L250.55 210.1 L250.38 211.52 L250.24 213.04 L250.11 214.54 L250.01 216.05 L249.9 217.54 L249.81 218.94 L249.72 220.32 L249.54 222.71 L249.38 224.77 L249.38 226.67 L249.41 228.37 L249.44 229.84 L249.47 231.04 L249.49 231.96 L250.79 232.04 L250.92 231.12 L251.08 229.93 L251.27 228.48 L251.51 226.81 L251.77 224.95 L251.94 222.89 L252.11 220.49 L252.21 219.09 L252.3 217.7 L252.4 216.21 L252.51 214.73 L252.63 213.25 L252.76 211.77 L252.93 210.38 L253.09 209.01 L253.3 207.83 L253.5 206.69 L254.09 204.66 L254.76 202.73 L255.42 200.89 L256.09 199.25 L256.68 197.87 L257.09 196.83Z" fill="#3cc36a" fill-opacity="0.92" filter="url(#b0_7)"/>
<path d="M256.09 197.56 L255.3 198.83 L254.37 200.37 L253.41 202.14 L252.57 204.14 L251.95 206.3 L251.73 207.55 L251.51 208.78 L251.34 210.19 L251.17 211.6 L251.04 213.11 L250.91 214.61 L250.8 216.1 L250.7 217.6 L250.61 218.99 L250.52 220.38 L250.34 222.77 L250.18 224.83 L250.12 226.72 L250.09 228.41 L250.08 229.87 L250.06 231.08 L250.05 231.99 L250.23 232.01 L250.32 231.09 L250.44 229.89 L250.59 228.44 L250.77 226.76 L250.97 224.89 L251.14 222.83 L251.32 220.44 L251.41 219.04 L251.5 217.65 L251.6 216.16 L251.71 214.67 L251.84 213.18 L251.97 211.69 L252.13 210.29 L252.3 208.89 L252.52 207.69 L252.73 206.5 L253.33 204.4 L254.06 202.42 L254.81 200.58 L255.55 198.96 L256.2 197.62Z" fill="#ecea9a" fill-opacity="0.9" filter="url(#b0_5)"/>
<path d="M255.52 197.16 L255.93 198.23 L256.52 199.62 L257.17 201.24 L257.79 203.04 L258.44 204.91 L259 206.88 L259.19 207.97 L259.4 209.13 L259.56 210.48 L259.72 211.85 L259.85 213.31 L259.98 214.79 L260.08 216.27 L260.19 217.76 L260.28 219.14 L260.37 220.55 L260.55 222.95 L260.71 225.01 L260.99 226.86 L261.23 228.53 L261.43 229.97 L261.6 231.17 L261.73 232.08 L264.55 231.92 L264.58 231 L264.61 229.79 L264.65 228.32 L264.69 226.62 L264.7 224.71 L264.53 222.65 L264.36 220.27 L264.27 218.88 L264.18 217.49 L264.07 215.99 L263.97 214.48 L263.83 212.97 L263.7 211.44 L263.53 210 L263.35 208.54 L263.13 207.27 L262.88 205.92 L262.22 203.63 L261.31 201.52 L260.21 199.71 L259.19 198.18 L258.35 196.95 L257.76 196.04Z" fill="#1f80dc" fill-opacity="0.88" filter="url(#b1_0)"/>
<path d="M256.19 196.83 L256.6 197.87 L257.19 199.25 L257.86 200.89 L258.52 202.73 L259.19 204.66 L259.78 206.69 L259.98 207.83 L260.19 209.01 L260.35 210.38 L260.52 211.77 L260.65 213.25 L260.77 214.73 L260.88 216.21 L260.98 217.7 L261.07 219.09 L261.17 220.49 L261.34 222.89 L261.51 224.95 L261.77 226.81 L262.01 228.48 L262.2 229.93 L262.36 231.12 L262.49 232.04 L263.79 231.96 L263.81 231.04 L263.84 229.84 L263.87 228.37 L263.9 226.67 L263.9 224.77 L263.74 222.71 L263.56 220.32 L263.47 218.94 L263.38 217.54 L263.27 216.05 L263.17 214.54 L263.04 213.04 L262.9 211.52 L262.73 210.1 L262.56 208.66 L262.34 207.41 L262.1 206.11 L261.47 203.89 L260.58 201.84 L259.52 200.06 L258.52 198.54 L257.68 197.31 L257.09 196.37Z" fill="#3cc36a" fill-opacity="0.92" filter="url(#b0_7)"/>
<path d="M257.08 197.62 L257.73 198.96 L258.47 200.58 L259.22 202.42 L259.95 204.4 L260.55 206.5 L260.76 207.69 L260.98 208.89 L261.15 210.29 L261.31 211.69 L261.44 213.18 L261.57 214.67 L261.68 216.16 L261.78 217.65 L261.87 219.04 L261.96 220.44 L262.14 222.83 L262.31 224.89 L262.51 226.76 L262.69 228.44 L262.84 229.89 L262.96 231.09 L263.05 232.01 L263.23 231.99 L263.22 231.08 L263.2 229.87 L263.19 228.41 L263.16 226.72 L263.1 224.83 L262.94 222.77 L262.76 220.38 L262.67 218.99 L262.58 217.6 L262.48 216.1 L262.37 214.61 L262.24 213.11 L262.11 211.6 L261.94 210.19 L261.77 208.78 L261.55 207.55 L261.33 206.3 L260.71 204.14 L259.87 202.14 L258.91 200.37 L257.98 198.83 L257.19 197.56Z" fill="#ecea9a" fill-opacity="0.9" filter="url(#b0_5)"/>
<path d="M226.94 234h0M227.26 231.01h0M227.69 228.01h0M228.19 224.99h0M228.7 221.94h0M229.26 218.91h0M229.91 215.92h0M230.69 213.01h0M231.52 210.4h0M232.35 208.01h0M233.18 205.77h0M233.99 203.65h0M234.8 201.6h0M235.63 199.64h0M236.43 197.88h0M237.26 196.14h0M238.07 194.41h0M238.89 192.58h0M239.72 190.55h0M240.54 188.38h0M241.36 186.12h0M242.17 183.9h0M243 181.73h0M243.81 179.65h0M244.62 177.61h0M245.42 175.59h0M246.25 173.53h0M247.08 171.5h0M247.91 169.46h0M248.73 167.55h0M249.58 165.98h0M250.42 165h0M251.33 164.7h0M252.2 164.93h0M253.04 165.46h0M253.87 166.22h0M254.69 167.22h0M255.5 168.52h0M256.3 169.92h0" stroke="#ff1010" stroke-width="1.9" stroke-linecap="round" fill="none"/>
<path d="M286.34 234h0M286.02 231.01h0M285.59 228.01h0M285.09 224.99h0M284.58 221.94h0M284.02 218.91h0M283.37 215.92h0M282.59 213.01h0M281.76 210.4h0M280.93 208.01h0M280.1 205.77h0M279.29 203.65h0M278.48 201.6h0M277.65 199.64h0M276.85 197.88h0M276.02 196.14h0M275.21 194.41h0M274.39 192.58h0M273.56 190.55h0M272.74 188.38h0M271.92 186.12h0M271.11 183.9h0M270.28 181.73h0M269.47 179.65h0M268.66 177.61h0M267.86 175.59h0M267.03 173.53h0M266.2 171.5h0M265.37 169.46h0M264.55 167.55h0M263.7 165.98h0M262.86 165h0M261.95 164.7h0M261.08 164.93h0M260.24 165.46h0M259.41 166.22h0M258.59 167.22h0M257.78 168.52h0M256.98 169.92h0" stroke="#ff1010" stroke-width="1.9" stroke-linecap="round" fill="none"/>
<path d="M228.04 228h0M228.74 225.05h0M229.5 222.12h0M230.32 219.59h0M231.13 217.47h0M231.98 215.47h0M232.78 213.71h0M233.62 211.94h0M234.47 210.3h0M235.29 208.83h0M236.14 207.5h0M236.97 206.38h0M237.84 205.35h0M238.68 204.47h0M239.49 203.72h0M240.34 203.06h0M241.23 202.48h0M242.11 202.03h0M243 201.72h0M243.82 201.54h0M244.69 201.48h0M245.59 201.56h0M246.41 201.71h0M247.22 201.91h0M248.11 202.16h0M248.94 202.39h0M249.79 202.71h0M250.62 203.09h0M251.45 203.41h0M252.34 203.6h0M253.23 203.59h0M254.12 203.48h0M254.96 203.33h0M255.85 203.15h0" stroke="#ff1010" stroke-width="1.9" stroke-linecap="round" fill="none"/>
<path d="M285.24 228h0M284.54 225.05h0M283.78 222.12h0M282.96 219.59h0M282.15 217.47h0M281.3 215.47h0M280.5 213.71h0M279.66 211.94h0M278.81 210.3h0M277.99 208.83h0M277.14 207.5h0M276.31 206.38h0M275.44 205.35h0M274.6 204.47h0M273.79 203.72h0M272.94 203.06h0M272.05 202.48h0M271.17 202.03h0M270.28 201.72h0M269.46 201.54h0M268.59 201.48h0M267.69 201.56h0M266.87 201.71h0M266.06 201.91h0M265.17 202.16h0M264.34 202.39h0M263.49 202.71h0M262.66 203.09h0M261.83 203.41h0M260.94 203.6h0M260.05 203.59h0M259.16 203.48h0M258.32 203.33h0M257.43 203.15h0" stroke="#ff1010" stroke-width="1.9" stroke-linecap="round" fill="none"/>
<path d="M256.64 199.8h0M255.79 200.96h0M254.97 202.23h0M254.14 204h0M253.32 206.48h0M252.49 209.35h0M251.67 212.22h0M250.85 214.89h0M250.04 217.34h0M249.24 219.7h0M248.41 222.12h0M247.59 224.53h0M246.78 226.93h0M245.98 229.5h0M245.35 232.46h0" stroke="#ff1010" stroke-width="1.9" stroke-linecap="round" fill="none"/>
<path d="M256.64 199.8h0M257.49 200.96h0M258.31 202.23h0M259.14 204h0M259.96 206.48h0M260.79 209.35h0M261.61 212.22h0M262.43 214.89h0M263.24 217.34h0M264.04 219.7h0M264.87 222.12h0M265.69 224.53h0M266.5 226.93h0M267.3 229.5h0M267.93 232.46h0" stroke="#ff1010" stroke-width="1.9" stroke-linecap="round" fill="none"/>
<path d="M256.64 204.8h0M255.79 206.44h0M254.96 208.2h0M254.13 210.6h0M253.37 213.61h0M252.7 216.56h0M252.09 219.5h0M251.59 222.48h0M251.22 225.55h0M250.92 228.61h0M250.65 231.69h0" stroke="#ff1010" stroke-width="1.9" stroke-linecap="round" fill="none"/>
<path d="M256.64 204.8h0M257.49 206.44h0M258.32 208.2h0M259.15 210.6h0M259.91 213.61h0M260.58 216.56h0M261.19 219.5h0M261.69 222.48h0M262.06 225.55h0M262.36 228.61h0M262.63 231.69h0" stroke="#ff1010" stroke-width="1.9" stroke-linecap="round" fill="none"/>
<path d="M256.64 224.4h0M255.83 226.61h0M255.39 229.62h0M255.15 232.63h0" stroke="#ff1010" stroke-width="1.9" stroke-linecap="round" fill="none"/>
<path d="M256.64 224.4h0M257.45 226.61h0M257.89 229.62h0M258.13 232.63h0" stroke="#ff1010" stroke-width="1.9" stroke-linecap="round" fill="none"/>
</g>
<rect x="306.66" y="129.3" width="82.2" height="3.7" fill="#fff"/>
<g clip-path="url(#cbp3)">
<rect x="306.66" y="133" width="82.2" height="100.4" fill="#37329c"/>
<ellipse cx="316.76" cy="201" rx="7.6" ry="10.8" fill="#1f8fe0" fill-opacity="0.55" filter="url(#b2_0)"/>
<path d="M310.3 195.93v10.93M311.45 194.74v10.78M312.47 192.84v12.25M313.39 190.02v17.39M314.73 195.14v16.61M316.08 191.17v21.45M317.51 192.35v23.27M318.52 191.76v15.99M319.57 193.47v20.12M320.52 196.88v13.26M321.49 197.7v11.35M322.59 196.84v9.15M323.62 195.49v8.93" stroke="#2196e4" stroke-width="1.1" stroke-opacity="0.75" fill="none" stroke-linecap="round" filter="url(#b0_6)"/>
<ellipse cx="379.76" cy="193" rx="8.55" ry="10.8" fill="#1f8fe0" fill-opacity="0.55" filter="url(#b2_0)"/>
<path d="M371.76 190.47v8.31M373.16 185.43v14.34M374.62 182.7v15.55M375.84 189.43v12.34M377.4 183.74v16.23M378.84 183.41v15.32M379.87 185.28v16.95M381.44 188.13v15.2M382.73 184.08v21.65M383.74 181.69v18.12M384.65 187.31v14.67M385.94 189.5v11.1M387.48 188.64v8.09" stroke="#2196e4" stroke-width="1.1" stroke-opacity="0.75" fill="none" stroke-linecap="round" filter="url(#b0_6)"/>
<path d="M342.66 148 L341.65 151.5 L340.55 155 L339.29 158.5 L338.26 162 L337.09 165.5 L336.05 169 L334.84 172.5 L333.67 176 L332.72 179.5 L331.7 183 L330.89 186.5 L330.01 190 L365.51 190 L364.63 186.5 L363.82 183 L362.8 179.5 L361.85 176 L360.68 172.5 L359.47 169 L358.43 165.5 L357.26 162 L356.23 158.5 L354.97 155 L353.87 151.5 L352.86 148Z" fill="url(#hz3)" filter="url(#b1_2)"/>
<path d="M357.34 173.49v5.46M337.52 181.26v9.37M351.56 152.52v5.21M354.09 170.96v10.13M355.95 161.06v11.9M348.01 150.1v11.67M346.15 173.91v6.44M334.2 179.36v10.08M337.25 177.36v6.61M348.57 158.91v6.94M361.28 179.12v6.53M334.06 180.03v4.78" stroke="#3aa0e8" stroke-width="0.9" stroke-opacity="0.3" fill="none" filter="url(#b0_5)"/>
<ellipse cx="376.76" cy="180" rx="6" ry="2.5" fill="#1a86d8" fill-opacity="0.45" filter="url(#b2_0)"/>
<path d="M340.59 143.82 L339.82 145.71 L339.28 147 L338.74 148.3 L338.11 149.84 L337.47 151.38 L336.79 153.05 L336.16 154.74 L335.73 155.87 L335.3 157 L334.88 158.14 L334.28 159.74 L333.68 161.33 L332.87 162.78 L332.03 164.22 L331.17 165.67 L330.31 167.13 L329.44 168.61 L328.88 170.2 L328.36 171.81 L327.84 173.43 L327.35 175.05 L326.84 176.68 L326.37 178.3 L325.9 179.93 L325.47 181.56 L325.04 183.19 L324.64 184.82 L324.24 186.44 L323.86 188.06 L323.49 189.67 L323.12 191.27 L322.76 192.86 L322.41 194.44 L322.06 196.01 L321.71 197.56 L321.36 199.12 L320.99 200.75 L320.62 202.39 L320.23 204.13 L319.84 205.87 L319.66 207.65 L319.52 209.42 L319.39 211.07 L319.26 212.71 L319.15 214.09 L319.22 215.51 L319.57 217.63 L322.95 218.37 L324.16 216.6 L324.81 215.33 L325.3 214.03 L325.87 212.49 L326.44 210.95 L327.06 209.28 L327.65 207.61 L328.03 205.88 L328.42 204.15 L328.79 202.52 L329.16 200.88 L329.51 199.33 L329.87 197.77 L330.22 196.19 L330.57 194.62 L330.93 193.03 L331.28 191.46 L331.65 189.88 L332.02 188.3 L332.41 186.73 L332.79 185.17 L333.21 183.61 L333.62 182.07 L334.06 180.52 L334.51 178.96 L334.99 177.4 L335.48 175.83 L335.98 174.25 L336.49 172.66 L336.97 171.08 L337.14 169.37 L337.32 167.69 L337.49 165.99 L337.65 164.32 L337.84 162.67 L338.28 161.01 L338.71 159.35 L339.02 158.18 L339.32 157.01 L339.63 155.84 L340.08 154.1 L340.5 152.35 L340.87 150.72 L341.24 149.1 L341.56 147.73 L341.87 146.36 L342.33 144.38Z" fill="#1f80dc" fill-opacity="0.88" filter="url(#b1_0)"/>
<path d="M338.4 153.56 L337.71 155.23 L337.25 156.35 L336.78 157.47 L336.32 158.6 L335.67 160.18 L335.01 161.76 L334.2 163.21 L333.36 164.65 L332.5 166.11 L331.64 167.57 L330.77 169.04 L330.21 170.63 L329.7 172.23 L329.18 173.85 L328.68 175.46 L328.19 177.08 L327.72 178.69 L327.25 180.31 L326.83 181.92 L326.4 183.53 L326 185.15 L325.6 186.76 L325.23 188.38 L324.85 189.98 L324.49 191.58 L324.13 193.17 L323.78 194.75 L323.43 196.32 L323.08 197.87 L322.72 199.43 L322.35 201.06 L321.98 202.69 L321.59 204.44 L321.2 206.18 L321.04 207.95 L320.92 209.73 L320.81 211.38 L320.7 213.02 L320.61 214.41 L320.57 215.81 L320.58 217.85 L321.94 218.15 L322.81 216.3 L323.36 215.01 L323.85 213.72 L324.45 212.18 L325.04 210.64 L325.68 208.98 L326.28 207.31 L326.67 205.57 L327.05 203.84 L327.42 202.21 L327.8 200.57 L328.15 199.02 L328.5 197.46 L328.85 195.88 L329.2 194.31 L329.56 192.72 L329.92 191.14 L330.29 189.56 L330.66 187.98 L331.05 186.4 L331.44 184.82 L331.85 183.26 L332.27 181.69 L332.72 180.13 L333.17 178.56 L333.65 176.99 L334.14 175.41 L334.65 173.82 L335.16 172.23 L335.64 170.64 L335.81 168.94 L335.99 167.25 L336.16 165.56 L336.32 163.89 L336.51 162.24 L336.89 160.57 L337.27 158.9 L337.54 157.71 L337.81 156.53 L338.08 155.35 L338.48 153.59Z" fill="#3cc36a" fill-opacity="0.92" filter="url(#b0_7)"/>
<path d="M335.06 163.49 L334.34 164.96 L333.59 166.46 L332.84 167.96 L332.09 169.48 L331.54 171.06 L331.03 172.66 L330.52 174.27 L330.02 175.87 L329.53 177.48 L329.07 179.08 L328.6 180.68 L328.18 182.28 L327.75 183.88 L327.36 185.49 L326.96 187.09 L326.59 188.69 L326.22 190.29 L325.86 191.89 L325.5 193.48 L325.14 195.05 L324.79 196.63 L324.44 198.18 L324.09 199.73 L323.72 201.37 L323.35 203 L322.96 204.74 L322.57 206.48 L322.39 208.25 L322.25 210.03 L322.12 211.67 L322 213.31 L321.89 214.69 L322.08 214.73 L322.56 213.43 L323.13 211.89 L323.71 210.35 L324.33 208.68 L324.91 207 L325.3 205.27 L325.69 203.53 L326.06 201.9 L326.43 200.27 L326.78 198.71 L327.13 197.15 L327.49 195.58 L327.84 194 L328.2 192.42 L328.55 190.83 L328.93 189.24 L329.3 187.65 L329.69 186.06 L330.08 184.48 L330.5 182.9 L330.92 181.32 L331.37 179.74 L331.83 178.16 L332.32 176.58 L332.8 174.99 L333.32 173.4 L333.83 171.8 L334.32 170.21 L334.61 168.54 L334.9 166.89 L335.18 165.24 L335.46 163.62Z" fill="#ecea9a" fill-opacity="0.9" filter="url(#b0_5)"/>
<path d="M353.19 144.38 L353.65 146.36 L353.96 147.73 L354.28 149.1 L354.65 150.72 L355.02 152.35 L355.44 154.1 L355.89 155.84 L356.2 157.01 L356.5 158.18 L356.81 159.35 L357.24 161.01 L357.68 162.67 L357.87 164.32 L358.03 165.99 L358.2 167.69 L358.38 169.37 L358.55 171.08 L359.03 172.66 L359.54 174.25 L360.04 175.83 L360.53 177.4 L361.01 178.96 L361.46 180.52 L361.9 182.07 L362.31 183.61 L362.73 185.17 L363.11 186.73 L363.5 188.3 L363.87 189.88 L364.24 191.46 L364.59 193.03 L364.95 194.62 L365.3 196.19 L365.65 197.77 L366.01 199.33 L366.36 200.88 L366.73 202.52 L367.1 204.15 L367.49 205.88 L367.87 207.61 L368.46 209.28 L369.08 210.95 L369.65 212.49 L370.22 214.03 L370.71 215.33 L371.36 216.6 L372.57 218.37 L375.95 217.63 L376.3 215.51 L376.37 214.09 L376.26 212.71 L376.13 211.07 L376 209.42 L375.86 207.65 L375.68 205.87 L375.29 204.13 L374.9 202.39 L374.53 200.75 L374.16 199.12 L373.81 197.56 L373.46 196.01 L373.11 194.44 L372.76 192.86 L372.4 191.27 L372.03 189.67 L371.66 188.06 L371.28 186.44 L370.88 184.82 L370.48 183.19 L370.05 181.56 L369.62 179.93 L369.15 178.3 L368.68 176.68 L368.17 175.05 L367.68 173.43 L367.16 171.81 L366.64 170.2 L366.08 168.61 L365.21 167.13 L364.35 165.67 L363.49 164.22 L362.65 162.78 L361.84 161.33 L361.24 159.74 L360.64 158.14 L360.22 157 L359.79 155.87 L359.36 154.74 L358.73 153.05 L358.05 151.38 L357.41 149.84 L356.78 148.3 L356.24 147 L355.7 145.71 L354.93 143.82Z" fill="#1f80dc" fill-opacity="0.88" filter="url(#b1_0)"/>
<path d="M357.04 153.59 L357.44 155.35 L357.71 156.53 L357.98 157.71 L358.25 158.9 L358.63 160.57 L359.01 162.24 L359.2 163.89 L359.36 165.56 L359.53 167.25 L359.71 168.94 L359.88 170.64 L360.36 172.23 L360.87 173.82 L361.38 175.41 L361.87 176.99 L362.35 178.56 L362.8 180.13 L363.25 181.69 L363.67 183.26 L364.08 184.82 L364.47 186.4 L364.86 187.98 L365.23 189.56 L365.6 191.14 L365.96 192.72 L366.32 194.31 L366.67 195.88 L367.02 197.46 L367.37 199.02 L367.72 200.57 L368.1 202.21 L368.47 203.84 L368.85 205.57 L369.24 207.31 L369.84 208.98 L370.48 210.64 L371.07 212.18 L371.67 213.72 L372.16 215.01 L372.71 216.3 L373.58 218.15 L374.94 217.85 L374.95 215.81 L374.91 214.41 L374.82 213.02 L374.71 211.38 L374.6 209.73 L374.48 207.95 L374.32 206.18 L373.93 204.44 L373.54 202.69 L373.17 201.06 L372.8 199.43 L372.44 197.87 L372.09 196.32 L371.74 194.75 L371.39 193.17 L371.03 191.58 L370.67 189.98 L370.29 188.38 L369.92 186.76 L369.52 185.15 L369.12 183.53 L368.69 181.92 L368.27 180.31 L367.8 178.69 L367.33 177.08 L366.84 175.46 L366.34 173.85 L365.82 172.23 L365.31 170.63 L364.75 169.04 L363.88 167.57 L363.02 166.11 L362.16 164.65 L361.32 163.21 L360.51 161.76 L359.85 160.18 L359.2 158.6 L358.74 157.47 L358.27 156.35 L357.81 155.23 L357.12 153.56Z" fill="#3cc36a" fill-opacity="0.92" filter="url(#b0_7)"/>
<path d="M360.06 163.62 L360.34 165.24 L360.62 166.89 L360.91 168.54 L361.2 170.21 L361.69 171.8 L362.2 173.4 L362.72 174.99 L363.2 176.58 L363.69 178.16 L364.15 179.74 L364.6 181.32 L365.02 182.9 L365.44 184.48 L365.83 186.06 L366.22 187.65 L366.59 189.24 L366.97 190.83 L367.32 192.42 L367.68 194 L368.03 195.58 L368.39 197.15 L368.74 198.71 L369.09 200.27 L369.46 201.9 L369.83 203.53 L370.22 205.27 L370.61 207 L371.19 208.68 L371.81 210.35 L372.39 211.89 L372.96 213.43 L373.44 214.73 L373.63 214.69 L373.52 213.31 L373.4 211.67 L373.27 210.03 L373.13 208.25 L372.95 206.48 L372.56 204.74 L372.17 203 L371.8 201.37 L371.43 199.73 L371.08 198.18 L370.73 196.63 L370.38 195.05 L370.02 193.48 L369.66 191.89 L369.3 190.29 L368.93 188.69 L368.56 187.09 L368.16 185.49 L367.77 183.88 L367.34 182.28 L366.92 180.68 L366.45 179.08 L365.99 177.48 L365.5 175.87 L365 174.27 L364.49 172.66 L363.98 171.06 L363.43 169.48 L362.68 167.96 L361.93 166.46 L361.18 164.96 L360.46 163.49Z" fill="#ecea9a" fill-opacity="0.9" filter="url(#b0_5)"/>
<path d="M346.64 196.95 L346.02 197.9 L345.15 199.2 L344.11 200.77 L343.04 202.52 L342.17 204.42 L341.4 206.26 L340.72 208.08 L340.07 209.96 L339.45 211.87 L338.86 213.78 L338.32 215.67 L337.82 217.5 L337.37 219.4 L336.95 221.38 L336.78 223.36 L336.68 225.17 L336.6 226.68 L336.53 227.77 L338.99 228.23 L339.32 227.17 L339.77 225.72 L340.3 224.02 L340.87 222.17 L341.27 220.28 L341.7 218.5 L342.17 216.74 L342.7 214.92 L343.26 213.07 L343.86 211.23 L344.48 209.44 L345.12 207.74 L345.84 206.02 L346.66 204.22 L347.35 202.36 L347.97 200.62 L348.5 199.14 L348.88 198.05Z" fill="#1f80dc" fill-opacity="0.88" filter="url(#b1_0)"/>
<path d="M347.31 197.28 L346.7 198.23 L345.84 199.55 L344.82 201.11 L343.77 202.86 L342.91 204.74 L342.14 206.56 L341.47 208.35 L340.83 210.21 L340.21 212.11 L339.63 214.01 L339.09 215.88 L338.6 217.7 L338.15 219.58 L337.73 221.54 L337.53 223.5 L337.38 225.29 L337.26 226.8 L337.17 227.89 L338.35 228.11 L338.66 227.05 L339.07 225.6 L339.55 223.88 L340.08 222.01 L340.49 220.1 L340.92 218.3 L341.4 216.53 L341.93 214.69 L342.5 212.83 L343.1 210.98 L343.73 209.17 L344.38 207.44 L345.1 205.7 L345.94 203.88 L346.64 202.01 L347.28 200.27 L347.82 198.8 L348.21 197.72Z" fill="#3cc36a" fill-opacity="0.92" filter="url(#b0_7)"/>
<path d="M347.19 198.48 L346.4 199.83 L345.46 201.43 L344.49 203.2 L343.64 205.06 L342.89 206.85 L342.23 208.62 L341.58 210.47 L340.97 212.35 L340.4 214.24 L339.86 216.1 L339.37 217.9 L338.93 219.75 L338.52 221.7 L338.23 223.63 L338 225.4 L337.81 226.9 L337.66 227.98 L337.86 228.02 L338.11 226.95 L338.45 225.48 L338.85 223.75 L339.3 221.86 L339.71 219.93 L340.15 218.1 L340.63 216.31 L341.16 214.47 L341.74 212.59 L342.34 210.72 L342.98 208.89 L343.63 207.15 L344.37 205.38 L345.21 203.54 L345.99 201.69 L346.71 199.99 L347.32 198.55Z" fill="#ecea9a" fill-opacity="0.9" filter="url(#b0_5)"/>
<path d="M346.64 198.05 L347.02 199.14 L347.55 200.62 L348.17 202.36 L348.86 204.22 L349.68 206.02 L350.4 207.74 L351.04 209.44 L351.66 211.23 L352.26 213.07 L352.82 214.92 L353.35 216.74 L353.82 218.5 L354.25 220.28 L354.65 222.17 L355.22 224.02 L355.75 225.72 L356.2 227.17 L356.53 228.23 L358.99 227.77 L358.92 226.68 L358.84 225.17 L358.74 223.36 L358.57 221.38 L358.15 219.4 L357.7 217.5 L357.2 215.67 L356.66 213.78 L356.07 211.87 L355.45 209.96 L354.8 208.08 L354.12 206.26 L353.35 204.42 L352.48 202.52 L351.41 200.77 L350.37 199.2 L349.5 197.9 L348.88 196.95Z" fill="#1f80dc" fill-opacity="0.88" filter="url(#b1_0)"/>
<path d="M347.31 197.72 L347.7 198.8 L348.24 200.27 L348.88 202.01 L349.58 203.88 L350.42 205.7 L351.14 207.44 L351.79 209.17 L352.42 210.98 L353.02 212.83 L353.59 214.69 L354.12 216.53 L354.6 218.3 L355.03 220.1 L355.44 222.01 L355.97 223.88 L356.45 225.6 L356.86 227.05 L357.17 228.11 L358.35 227.89 L358.26 226.8 L358.14 225.29 L357.99 223.5 L357.79 221.54 L357.37 219.58 L356.92 217.7 L356.43 215.88 L355.89 214.01 L355.31 212.11 L354.69 210.21 L354.05 208.35 L353.38 206.56 L352.61 204.74 L351.75 202.86 L350.7 201.11 L349.68 199.55 L348.82 198.23 L348.21 197.28Z" fill="#3cc36a" fill-opacity="0.92" filter="url(#b0_7)"/>
<path d="M348.2 198.55 L348.81 199.99 L349.53 201.69 L350.31 203.54 L351.15 205.38 L351.89 207.15 L352.54 208.89 L353.18 210.72 L353.78 212.59 L354.36 214.47 L354.89 216.31 L355.37 218.1 L355.81 219.93 L356.22 221.86 L356.67 223.75 L357.07 225.48 L357.41 226.95 L357.66 228.02 L357.86 227.98 L357.71 226.9 L357.52 225.4 L357.29 223.63 L357 221.7 L356.59 219.75 L356.15 217.9 L355.66 216.1 L355.12 214.24 L354.55 212.35 L353.94 210.47 L353.29 208.62 L352.63 206.85 L351.88 205.06 L351.03 203.2 L350.06 201.43 L349.12 199.83 L348.33 198.48Z" fill="#ecea9a" fill-opacity="0.9" filter="url(#b0_5)"/>
<path d="M318.26 234h0M319.02 231.08h0M319.8 228.12h0M320.57 225.15h0M321.34 222.22h0M322.11 219.27h0M322.89 216.3h0M323.66 213.39h0M324.44 210.42h0M325.24 207.44h0M326.02 204.52h0M326.81 201.54h0M327.58 198.61h0M328.34 195.7h0M329.07 192.74h0M329.79 189.76h0M330.49 186.82h0M331.22 183.83h0M331.99 180.9h0M332.8 178.29h0M333.61 176.22h0M334.43 174.1h0M335.25 171.93h0M336.07 169.75h0M336.88 167.62h0M337.7 165.48h0M338.53 163.28h0M339.36 161.03h0M340.2 158.8h0M341 157h0M341.82 155.64h0M342.7 155.13h0M343.52 155.11h0M344.41 155.31h0M345.26 155.6h0M346.11 156.04h0M346.95 156.62h0M347.76 157.2h0" stroke="#ff1010" stroke-width="1.9" stroke-linecap="round" fill="none"/>
<path d="M377.26 234h0M376.5 231.08h0M375.72 228.12h0M374.95 225.15h0M374.18 222.22h0M373.41 219.27h0M372.63 216.3h0M371.86 213.39h0M371.08 210.42h0M370.28 207.44h0M369.5 204.52h0M368.71 201.54h0M367.94 198.61h0M367.18 195.7h0M366.45 192.74h0M365.73 189.76h0M365.03 186.82h0M364.3 183.83h0M363.53 180.9h0M362.72 178.29h0M361.91 176.22h0M361.09 174.1h0M360.27 171.93h0M359.45 169.75h0M358.64 167.62h0M357.82 165.48h0M356.99 163.28h0M356.16 161.03h0M355.32 158.8h0M354.52 157h0M353.7 155.64h0M352.82 155.13h0M352 155.11h0M351.11 155.31h0M350.26 155.6h0M349.41 156.04h0M348.57 156.62h0M347.76 157.2h0" stroke="#ff1010" stroke-width="1.9" stroke-linecap="round" fill="none"/>
<path d="M321.26 234h0M321.96 231.03h0M322.69 228.07h0M323.52 225.15h0M324.34 222.68h0M325.15 220.51h0M325.96 218.53h0M326.77 216.65h0M327.6 214.93h0M328.43 213.47h0M329.29 212.34h0M330.12 211.49h0M330.93 210.86h0M331.77 210.41h0M332.67 210.14h0M333.54 210.1h0M334.45 210.22h0M335.25 210.4h0M336.14 210.63h0M336.95 210.85h0M337.76 211.12h0M338.57 211.47h0M339.46 211.88h0M340.38 212.24h0M341.18 212.55h0M342.09 212.9h0M342.91 213.14h0M343.76 213.3h0M344.59 213.32h0M345.4 213.28h0M346.2 213.19h0M347.08 213.08h0" stroke="#ff1010" stroke-width="1.9" stroke-linecap="round" fill="none"/>
<path d="M374.26 234h0M373.56 231.03h0M372.83 228.07h0M372 225.15h0M371.18 222.68h0M370.38 220.51h0M369.56 218.53h0M368.75 216.65h0M367.92 214.93h0M367.09 213.47h0M366.23 212.34h0M365.4 211.49h0M364.59 210.86h0M363.75 210.41h0M362.85 210.14h0M361.98 210.1h0M361.07 210.22h0M360.27 210.4h0M359.38 210.63h0M358.57 210.85h0M357.76 211.12h0M356.95 211.47h0M356.06 211.88h0M355.14 212.24h0M354.34 212.55h0M353.43 212.9h0M352.61 213.14h0M351.76 213.3h0M350.93 213.32h0M350.12 213.28h0M349.32 213.19h0M348.44 213.08h0" stroke="#ff1010" stroke-width="1.9" stroke-linecap="round" fill="none"/>
<path d="M347.76 200.1h0M346.95 201.92h0M346.13 203.75h0M345.31 205.66h0M344.48 207.68h0M343.68 209.6h0M342.87 211.55h0M342.04 213.7h0M341.23 216h0M340.42 218.69h0M339.63 221.65h0M338.88 224.65h0M338.18 227.6h0M337.48 230.57h0M336.78 233.5h0" stroke="#ff1010" stroke-width="1.9" stroke-linecap="round" fill="none"/>
<path d="M347.76 200.1h0M348.57 201.92h0M349.39 203.75h0M350.21 205.66h0M351.04 207.68h0M351.84 209.6h0M352.65 211.55h0M353.48 213.7h0M354.29 216h0M355.1 218.69h0M355.89 221.65h0M356.64 224.65h0M357.34 227.6h0M358.04 230.57h0M358.74 233.5h0" stroke="#ff1010" stroke-width="1.9" stroke-linecap="round" fill="none"/>
<path d="M347.76 204.2h0M346.95 206.28h0M346.12 208.69h0M345.38 211.67h0M344.79 214.69h0M344.3 217.68h0M343.87 220.7h0M343.51 223.72h0M343.19 226.7h0M342.88 229.75h0M342.59 232.74h0" stroke="#ff1010" stroke-width="1.9" stroke-linecap="round" fill="none"/>
<path d="M347.76 204.2h0M348.57 206.28h0M349.4 208.69h0M350.14 211.67h0M350.73 214.69h0M351.22 217.68h0M351.65 220.7h0M352.01 223.72h0M352.33 226.7h0M352.64 229.75h0M352.93 232.74h0" stroke="#ff1010" stroke-width="1.9" stroke-linecap="round" fill="none"/>
</g>
<rect x="397.78" y="129.3" width="82.2" height="3.7" fill="#fff"/>
<g clip-path="url(#cbp4)">
<rect x="397.78" y="133" width="82.2" height="100.4" fill="#37329c"/>
<ellipse cx="407.88" cy="198" rx="11.4" ry="9.9" fill="#1f8fe0" fill-opacity="0.55" filter="url(#b2_0)"/>
<path d="M397.45 191.89v8.67M399.03 194.11v10.95M399.95 195.42v10.31M401.42 192.67v10.38M402.62 189.35v12.91M403.74 189.96v12.67M405.25 189.25v15.25M406.42 193.67v13.05M407.68 191.36v18.65M408.66 189.04v17.69M410.1 188.8v17.79M411.09 191.23v16.74M412.66 190.45v15.23M414.12 190.41v14.12M415.53 191.46v16.05M417.08 193.74v8.86M418.03 190.83v11.42M419.29 194.91v5.85" stroke="#2196e4" stroke-width="1.1" stroke-opacity="0.75" fill="none" stroke-linecap="round" filter="url(#b0_6)"/>
<path d="M401.67 195.43v6.09M403.08 193.7v7.93M404.09 194.08v6.57M405.66 191.86v9.93M406.89 193.17v11.9M408.05 190.87v11.23M409.53 191.85v9.65M410.58 193.5v11.65M411.62 191.25v11.62M412.57 193.86v5.98M413.97 196.26v6.31M415.02 198.01v2.42" stroke="#3cc36a" stroke-width="1.1" stroke-opacity="0.8" fill="none" stroke-linecap="round" filter="url(#b0_6)"/>
<ellipse cx="469.88" cy="190" rx="11.4" ry="10.8" fill="#1f8fe0" fill-opacity="0.55" filter="url(#b2_0)"/>
<path d="M459 182.99v9.08M460.1 187.33v10.1M461.25 180.79v13.62M462.27 182.3v16.04M463.67 182.25v15.38M464.71 180.26v14.09M465.73 182.08v16.95M467.14 182.09v19.61M468.56 185.72v13.21M469.81 178.57v17.9M470.82 180.62v13.87M472.27 183.23v16.89M473.86 178.83v18.8M474.87 179.21v21.48M476 177.9v20.23M477.52 184.49v10.27M478.65 181.64v16.18M479.95 184.81v11.92M481.43 184.42v5.97" stroke="#2196e4" stroke-width="1.1" stroke-opacity="0.75" fill="none" stroke-linecap="round" filter="url(#b0_6)"/>
<path d="M463.62 188.25v5.86M464.62 185.92v10.47M465.98 186.82v8.45M467.37 182.69v13.15M468.83 185.1v9.45M469.82 186.69v9.94M471.42 186.04v9.03M472.32 184.77v10M473.39 186.9v7.48M474.92 186.01v7.02M476.34 187.53v6.45" stroke="#3cc36a" stroke-width="1.1" stroke-opacity="0.8" fill="none" stroke-linecap="round" filter="url(#b0_6)"/>
<path d="M436.47 146 L434.49 149.83 L433.23 153.67 L431.8 157.5 L430.65 161.33 L429.38 165.17 L427.9 169 L426.6 172.83 L425.31 176.67 L424.06 180.5 L422.87 184.33 L421.75 188.17 L420.79 192 L456.97 192 L456.01 188.17 L454.89 184.33 L453.7 180.5 L452.45 176.67 L451.16 172.83 L449.86 169 L448.38 165.17 L447.11 161.33 L445.96 157.5 L444.53 153.67 L443.27 149.83 L441.29 146Z" fill="url(#hz4)" filter="url(#b1_2)"/>
<path d="M435.33 146.9v7.14M429.21 173.54v4.9M442.7 156.22v5.18M443.46 175.6v5.09M437.69 166.7v7.3M425.06 185.78v4.16M435.69 182.92v5.59M436.52 156.73v11.64M434.78 153.65v8.68M449.35 165.45v10.71M433.59 158.16v10.69M423.05 182.64v9.88M443.59 180.12v5.75M445.69 177.5v5.55M431.67 172.19v4.33M435.98 159.18v7.17" stroke="#3aa0e8" stroke-width="0.9" stroke-opacity="0.3" fill="none" filter="url(#b0_5)"/>
<ellipse cx="438.88" cy="160" rx="4" ry="10" fill="#1a86d8" fill-opacity="0.35" filter="url(#b2_0)"/>
<path d="M438.28 141.27 L437.89 141.36 L437.29 141.48 L436.45 141.66 L435.49 141.92 L434.43 142.33 L433.5 142.85 L432.88 143.27 L432.28 143.68 L431.53 144.37 L430.81 145.28 L430.13 146.43 L429.38 147.96 L428.49 149.98 L427.97 151.25 L427.47 152.49 L426.92 153.89 L426.38 155.28 L425.82 156.75 L425.26 158.22 L424.73 159.69 L424.24 161.17 L423.77 162.56 L423.31 163.95 L422.85 165.25 L422.39 166.56 L421.93 167.86 L421.47 169.17 L421 170.48 L420.53 171.8 L420.07 173.13 L419.6 174.46 L419.14 175.83 L418.68 177.21 L418.23 178.62 L417.77 180.04 L417.33 181.52 L416.89 182.99 L416.46 184.51 L416.04 186.02 L415.62 187.56 L415.2 189.09 L414.79 190.63 L414.37 192.16 L413.97 193.67 L413.56 195.18 L413.15 196.66 L412.75 198.13 L412.32 199.67 L411.88 201.21 L411.52 202.88 L411.29 204.58 L411.05 206.27 L410.81 207.96 L410.6 209.52 L410.5 211.11 L410.4 212.46 L410.31 213.8 L410.18 215.74 L411.98 216.26 L412.89 214.53 L413.51 213.34 L414.14 212.15 L414.88 210.73 L415.52 209.29 L416.21 207.73 L416.89 206.16 L417.58 204.58 L418.14 202.97 L418.58 201.42 L419.01 199.87 L419.42 198.38 L419.83 196.89 L420.24 195.36 L420.65 193.84 L421.06 192.31 L421.47 190.79 L421.89 189.27 L422.3 187.76 L422.72 186.28 L423.14 184.8 L423.56 183.38 L423.99 181.96 L424.42 180.6 L424.86 179.23 L425.3 177.9 L425.75 176.57 L426.21 175.27 L426.66 173.95 L427.13 172.66 L427.59 171.35 L428.06 170.04 L428.52 168.72 L428.99 167.39 L429.45 166.05 L429.93 164.64 L430.41 163.22 L430.9 161.73 L431.36 160.23 L431.78 158.72 L432.19 157.22 L432.59 155.8 L432.99 154.4 L433.37 153.16 L433.73 151.96 L434.38 150.04 L434.89 148.78 L435.24 148.07 L435.42 147.8 L435.52 147.69 L435.83 147.47 L436.26 147.15 L436.64 146.89 L437.09 146.71 L437.68 146.54 L438.33 146.39 L438.97 146.26 L439.48 146.13Z" fill="#1f80dc" fill-opacity="0.88" filter="url(#b1_0)"/>
<path d="M438.54 142.34 L438.13 142.44 L437.51 142.56 L436.72 142.73 L435.84 142.97 L434.91 143.33 L434.1 143.79 L433.52 144.18 L432.98 144.55 L432.37 145.11 L431.76 145.88 L431.15 146.93 L430.43 148.4 L429.57 150.39 L429.06 151.64 L428.56 152.87 L428.01 154.26 L427.47 155.65 L426.91 157.11 L426.35 158.58 L425.82 160.05 L425.33 161.53 L424.86 162.93 L424.39 164.32 L423.94 165.63 L423.48 166.95 L423.01 168.25 L422.55 169.56 L422.08 170.86 L421.62 172.18 L421.15 173.5 L420.69 174.84 L420.23 176.2 L419.77 177.56 L419.32 178.97 L418.87 180.38 L418.44 181.85 L418 183.31 L417.57 184.82 L417.15 186.33 L416.73 187.86 L416.31 189.39 L415.9 190.92 L415.49 192.45 L415.08 193.97 L414.67 195.48 L414.26 196.96 L413.86 198.44 L413.42 199.98 L412.99 201.52 L412.63 203.19 L412.39 204.89 L412.16 206.58 L411.92 208.27 L411.7 209.83 L411.47 211.39 L411.28 212.7 L411.09 214.02 L410.82 215.93 L411.34 216.07 L412.11 214.31 L412.63 213.09 L413.16 211.87 L413.78 210.42 L414.41 208.98 L415.1 207.41 L415.78 205.85 L416.47 204.27 L417.03 202.66 L417.47 201.11 L417.9 199.56 L418.31 198.07 L418.72 196.59 L419.13 195.06 L419.54 193.55 L419.95 192.01 L420.36 190.49 L420.78 188.97 L421.19 187.45 L421.61 185.96 L422.03 184.48 L422.46 183.05 L422.89 181.62 L423.32 180.25 L423.76 178.87 L424.21 177.54 L424.66 176.2 L425.12 174.89 L425.58 173.57 L426.04 172.27 L426.51 170.96 L426.97 169.65 L427.44 168.34 L427.9 167.01 L428.37 165.68 L428.84 164.27 L429.32 162.86 L429.81 161.37 L430.26 159.87 L430.68 158.36 L431.1 156.85 L431.5 155.44 L431.91 154.02 L432.28 152.78 L432.65 151.55 L433.33 149.6 L433.88 148.28 L434.29 147.47 L434.58 147.06 L434.82 146.83 L435.19 146.56 L435.66 146.21 L436.16 145.9 L436.74 145.66 L437.41 145.47 L438.1 145.31 L438.74 145.18 L439.22 145.06Z" fill="#3cc36a" fill-opacity="0.92" filter="url(#b0_7)"/>
<path d="M438.76 143.21 L438.32 143.32 L437.7 143.44 L436.94 143.6 L436.12 143.83 L435.3 144.14 L434.59 144.54 L434.03 144.92 L433.54 145.25 L433.04 145.7 L432.52 146.36 L431.95 147.33 L431.26 148.74 L430.43 150.71 L429.95 151.95 L429.47 153.18 L428.96 154.58 L428.44 155.97 L427.91 157.44 L427.38 158.92 L426.87 160.4 L426.38 161.88 L425.91 163.28 L425.43 164.68 L424.97 165.99 L424.51 167.31 L424.05 168.62 L423.59 169.92 L423.12 171.23 L422.66 172.54 L422.19 173.87 L421.73 175.19 L421.27 176.55 L420.82 177.91 L420.37 179.3 L419.92 180.71 L419.49 182.16 L419.06 183.62 L418.63 185.12 L418.21 186.62 L417.79 188.15 L417.37 189.68 L416.96 191.21 L416.55 192.74 L416.14 194.26 L415.73 195.77 L415.32 197.25 L414.92 198.73 L414.48 200.27 L414.05 201.82 L413.69 203.49 L413.45 205.19 L413.21 206.88 L412.98 208.57 L413.36 208.68 L414.04 207.11 L414.72 205.55 L415.41 203.97 L415.98 202.36 L416.41 200.81 L416.84 199.27 L417.25 197.78 L417.66 196.3 L418.07 194.78 L418.48 193.26 L418.89 191.73 L419.3 190.2 L419.72 188.68 L420.13 187.16 L420.55 185.66 L420.98 184.17 L421.41 182.73 L421.84 181.29 L422.28 179.91 L422.72 178.53 L423.17 177.19 L423.62 175.84 L424.08 174.53 L424.54 173.21 L425.01 171.9 L425.47 170.59 L425.94 169.29 L426.4 167.98 L426.86 166.65 L427.33 165.32 L427.8 163.92 L428.27 162.51 L428.77 161.02 L429.23 159.53 L429.68 158.03 L430.13 156.53 L430.56 155.12 L430.99 153.71 L431.39 152.46 L431.79 151.23 L432.5 149.26 L433.07 147.88 L433.53 146.99 L433.91 146.46 L434.25 146.13 L434.67 145.82 L435.17 145.46 L435.77 145.09 L436.45 144.81 L437.19 144.6 L437.91 144.43 L438.54 144.3 L439 144.19Z" fill="#ecea9a" fill-opacity="0.9" filter="url(#b0_5)"/>
<path d="M438.28 146.13 L438.79 146.26 L439.43 146.39 L440.08 146.54 L440.67 146.71 L441.12 146.89 L441.5 147.15 L441.93 147.47 L442.24 147.69 L442.34 147.8 L442.52 148.07 L442.87 148.78 L443.38 150.04 L444.03 151.96 L444.39 153.16 L444.77 154.4 L445.17 155.8 L445.57 157.22 L445.98 158.72 L446.4 160.23 L446.86 161.73 L447.35 163.22 L447.83 164.64 L448.31 166.05 L448.77 167.39 L449.24 168.72 L449.7 170.04 L450.17 171.35 L450.63 172.66 L451.1 173.95 L451.55 175.27 L452.01 176.57 L452.46 177.9 L452.9 179.23 L453.34 180.6 L453.77 181.96 L454.2 183.38 L454.62 184.8 L455.04 186.28 L455.46 187.76 L455.87 189.27 L456.29 190.79 L456.7 192.31 L457.11 193.84 L457.52 195.36 L457.93 196.89 L458.34 198.38 L458.75 199.87 L459.18 201.42 L459.62 202.97 L460.18 204.58 L460.87 206.16 L461.55 207.73 L462.24 209.29 L462.88 210.73 L463.62 212.15 L464.25 213.34 L464.87 214.53 L465.78 216.26 L467.58 215.74 L467.45 213.8 L467.36 212.46 L467.26 211.11 L467.16 209.52 L466.95 207.96 L466.71 206.27 L466.47 204.58 L466.24 202.88 L465.88 201.21 L465.44 199.67 L465.01 198.13 L464.61 196.66 L464.2 195.18 L463.79 193.67 L463.39 192.16 L462.97 190.63 L462.56 189.09 L462.14 187.56 L461.72 186.02 L461.3 184.51 L460.87 182.99 L460.43 181.52 L459.99 180.04 L459.53 178.62 L459.08 177.21 L458.62 175.83 L458.16 174.46 L457.69 173.13 L457.23 171.8 L456.76 170.48 L456.29 169.17 L455.83 167.86 L455.37 166.56 L454.91 165.25 L454.45 163.95 L453.99 162.56 L453.52 161.17 L453.03 159.69 L452.5 158.22 L451.94 156.75 L451.38 155.28 L450.84 153.89 L450.29 152.49 L449.79 151.25 L449.27 149.98 L448.38 147.96 L447.63 146.43 L446.95 145.28 L446.23 144.37 L445.48 143.68 L444.88 143.27 L444.26 142.85 L443.33 142.33 L442.27 141.92 L441.31 141.66 L440.47 141.48 L439.87 141.36 L439.48 141.27Z" fill="#1f80dc" fill-opacity="0.88" filter="url(#b1_0)"/>
<path d="M438.54 145.06 L439.02 145.18 L439.66 145.31 L440.35 145.47 L441.02 145.66 L441.6 145.9 L442.1 146.21 L442.57 146.56 L442.94 146.83 L443.18 147.06 L443.47 147.47 L443.88 148.28 L444.43 149.6 L445.11 151.55 L445.48 152.78 L445.85 154.02 L446.26 155.44 L446.66 156.85 L447.08 158.36 L447.5 159.87 L447.95 161.37 L448.44 162.86 L448.92 164.27 L449.39 165.68 L449.86 167.01 L450.32 168.34 L450.79 169.65 L451.25 170.96 L451.72 172.27 L452.18 173.57 L452.64 174.89 L453.1 176.2 L453.55 177.54 L454 178.87 L454.44 180.25 L454.87 181.62 L455.3 183.05 L455.73 184.48 L456.15 185.96 L456.57 187.45 L456.98 188.97 L457.4 190.49 L457.81 192.01 L458.22 193.55 L458.63 195.06 L459.04 196.59 L459.45 198.07 L459.86 199.56 L460.29 201.11 L460.73 202.66 L461.29 204.27 L461.98 205.85 L462.66 207.41 L463.35 208.98 L463.98 210.42 L464.6 211.87 L465.13 213.09 L465.65 214.31 L466.42 216.07 L466.94 215.93 L466.67 214.02 L466.48 212.7 L466.29 211.39 L466.06 209.83 L465.84 208.27 L465.6 206.58 L465.37 204.89 L465.13 203.19 L464.77 201.52 L464.34 199.98 L463.9 198.44 L463.5 196.96 L463.09 195.48 L462.68 193.97 L462.27 192.45 L461.86 190.92 L461.45 189.39 L461.03 187.86 L460.61 186.33 L460.19 184.82 L459.76 183.31 L459.32 181.85 L458.89 180.38 L458.44 178.97 L457.99 177.56 L457.53 176.2 L457.07 174.84 L456.61 173.5 L456.14 172.18 L455.68 170.86 L455.21 169.56 L454.75 168.25 L454.28 166.95 L453.82 165.63 L453.37 164.32 L452.9 162.93 L452.43 161.53 L451.94 160.05 L451.41 158.58 L450.85 157.11 L450.29 155.65 L449.75 154.26 L449.2 152.87 L448.7 151.64 L448.19 150.39 L447.33 148.4 L446.61 146.93 L446 145.88 L445.39 145.11 L444.78 144.55 L444.24 144.18 L443.66 143.79 L442.85 143.33 L441.92 142.97 L441.04 142.73 L440.25 142.56 L439.63 142.44 L439.22 142.34Z" fill="#3cc36a" fill-opacity="0.92" filter="url(#b0_7)"/>
<path d="M438.76 144.19 L439.22 144.3 L439.85 144.43 L440.57 144.6 L441.31 144.81 L441.99 145.09 L442.59 145.46 L443.09 145.82 L443.51 146.13 L443.85 146.46 L444.23 146.99 L444.69 147.88 L445.26 149.26 L445.97 151.23 L446.37 152.46 L446.77 153.71 L447.2 155.12 L447.63 156.53 L448.08 158.03 L448.53 159.53 L448.99 161.02 L449.49 162.51 L449.96 163.92 L450.43 165.32 L450.9 166.65 L451.36 167.98 L451.82 169.29 L452.29 170.59 L452.75 171.9 L453.22 173.21 L453.68 174.53 L454.14 175.84 L454.59 177.19 L455.04 178.53 L455.48 179.91 L455.92 181.29 L456.35 182.73 L456.78 184.17 L457.21 185.66 L457.63 187.16 L458.04 188.68 L458.46 190.2 L458.87 191.73 L459.28 193.26 L459.69 194.78 L460.1 196.3 L460.51 197.78 L460.92 199.27 L461.35 200.81 L461.78 202.36 L462.35 203.97 L463.04 205.55 L463.72 207.11 L464.4 208.68 L464.78 208.57 L464.55 206.88 L464.31 205.19 L464.07 203.49 L463.71 201.82 L463.28 200.27 L462.84 198.73 L462.44 197.25 L462.03 195.77 L461.62 194.26 L461.21 192.74 L460.8 191.21 L460.39 189.68 L459.97 188.15 L459.55 186.62 L459.13 185.12 L458.7 183.62 L458.27 182.16 L457.84 180.71 L457.39 179.3 L456.94 177.91 L456.49 176.55 L456.03 175.19 L455.57 173.87 L455.1 172.54 L454.64 171.23 L454.17 169.92 L453.71 168.62 L453.25 167.31 L452.79 165.99 L452.33 164.68 L451.85 163.28 L451.38 161.88 L450.89 160.4 L450.38 158.92 L449.85 157.44 L449.32 155.97 L448.8 154.58 L448.29 153.18 L447.81 151.95 L447.33 150.71 L446.5 148.74 L445.81 147.33 L445.24 146.36 L444.72 145.7 L444.22 145.25 L443.73 144.92 L443.17 144.54 L442.46 144.14 L441.64 143.83 L440.82 143.6 L440.06 143.44 L439.44 143.32 L439 143.21Z" fill="#ecea9a" fill-opacity="0.9" filter="url(#b0_5)"/>
<path d="M437.28 195.2 L437.01 195.54 L436.62 195.99 L436.12 196.58 L435.55 197.28 L434.97 198.08 L434.41 198.96 L433.9 199.86 L433.43 200.79 L432.96 201.76 L432.48 202.78 L432.03 203.88 L431.56 205.08 L431.03 206.4 L430.45 207.85 L429.83 209.4 L429.21 210.99 L428.61 212.59 L428.03 214.15 L427.48 215.68 L426.94 217.22 L426.42 218.77 L425.91 220.3 L425.43 221.82 L424.98 223.3 L424.55 224.84 L424.3 226.47 L424.15 228.07 L424.03 229.53 L423.93 230.75 L423.86 231.64 L426.9 232.36 L427.24 231.53 L427.69 230.39 L428.23 229.05 L428.83 227.61 L429.38 226.13 L429.78 224.7 L430.2 223.3 L430.67 221.84 L431.16 220.36 L431.67 218.85 L432.2 217.35 L432.73 215.85 L433.29 214.34 L433.88 212.79 L434.49 211.23 L435.09 209.7 L435.67 208.25 L436.2 206.92 L436.68 205.71 L437.1 204.59 L437.43 203.56 L437.74 202.63 L438.05 201.79 L438.35 201.04 L438.68 200.36 L439.06 199.7 L439.46 199.07 L439.85 198.5 L440.2 197.99 L440.48 197.6Z" fill="#1f80dc" fill-opacity="0.88" filter="url(#b1_0)"/>
<path d="M438.08 195.8 L437.81 196.15 L437.41 196.61 L436.92 197.18 L436.38 197.85 L435.82 198.6 L435.29 199.42 L434.81 200.28 L434.35 201.18 L433.88 202.14 L433.41 203.15 L432.96 204.25 L432.49 205.45 L431.96 206.77 L431.38 208.22 L430.77 209.76 L430.15 211.35 L429.54 212.94 L428.97 214.49 L428.43 216.01 L427.89 217.55 L427.36 219.09 L426.86 220.61 L426.38 222.11 L425.94 223.58 L425.52 225.1 L425.24 226.7 L425.05 228.29 L424.88 229.73 L424.75 230.94 L424.65 231.83 L426.11 232.17 L426.42 231.34 L426.84 230.19 L427.34 228.84 L427.89 227.37 L428.41 225.87 L428.82 224.42 L429.25 223 L429.71 221.54 L430.21 220.04 L430.72 218.53 L431.25 217.01 L431.79 215.51 L432.35 213.99 L432.95 212.43 L433.56 210.86 L434.16 209.33 L434.74 207.88 L435.27 206.55 L435.75 205.35 L436.16 204.23 L436.5 203.19 L436.82 202.24 L437.14 201.37 L437.47 200.58 L437.83 199.83 L438.23 199.13 L438.65 198.47 L439.06 197.88 L439.41 197.38 L439.68 197Z" fill="#3cc36a" fill-opacity="0.92" filter="url(#b0_7)"/>
<path d="M438.64 196.22 L438.36 196.58 L437.97 197.04 L437.51 197.62 L437 198.28 L436.48 199.01 L435.99 199.8 L435.55 200.63 L435.12 201.51 L434.69 202.46 L434.24 203.47 L433.8 204.58 L433.32 205.78 L432.79 207.1 L432.21 208.56 L431.6 210.09 L430.99 211.67 L430.38 213.25 L429.82 214.8 L429.27 216.31 L428.74 217.84 L428.22 219.37 L427.72 220.89 L427.24 222.38 L426.8 223.83 L426.39 225.33 L426.06 226.91 L425.8 228.47 L425.57 229.89 L425.38 231.09 L425.23 231.97 L425.53 232.03 L425.79 231.19 L426.16 230.03 L426.59 228.66 L427.07 227.16 L427.55 225.64 L427.96 224.17 L428.39 222.74 L428.86 221.26 L429.36 219.75 L429.87 218.23 L430.41 216.71 L430.94 215.2 L431.51 213.68 L432.11 212.1 L432.72 210.53 L433.33 209 L433.91 207.55 L434.44 206.22 L434.91 205.02 L435.33 203.9 L435.7 202.87 L436.05 201.91 L436.4 201.03 L436.77 200.2 L437.17 199.43 L437.62 198.7 L438.07 198.03 L438.49 197.44 L438.85 196.95 L439.12 196.58Z" fill="#ecea9a" fill-opacity="0.9" filter="url(#b0_5)"/>
<path d="M437.28 197.6 L437.56 197.99 L437.91 198.5 L438.3 199.07 L438.7 199.7 L439.08 200.36 L439.41 201.04 L439.71 201.79 L440.02 202.63 L440.33 203.56 L440.66 204.59 L441.08 205.71 L441.56 206.92 L442.09 208.25 L442.67 209.7 L443.27 211.23 L443.88 212.79 L444.47 214.34 L445.03 215.85 L445.56 217.35 L446.09 218.85 L446.6 220.36 L447.09 221.84 L447.56 223.3 L447.98 224.7 L448.38 226.13 L448.93 227.61 L449.53 229.05 L450.07 230.39 L450.52 231.53 L450.86 232.36 L453.9 231.64 L453.83 230.75 L453.73 229.53 L453.61 228.07 L453.46 226.47 L453.21 224.84 L452.78 223.3 L452.33 221.82 L451.85 220.3 L451.34 218.77 L450.82 217.22 L450.28 215.68 L449.73 214.15 L449.15 212.59 L448.55 210.99 L447.93 209.4 L447.31 207.85 L446.73 206.4 L446.2 205.08 L445.73 203.88 L445.28 202.78 L444.8 201.76 L444.33 200.79 L443.86 199.86 L443.35 198.96 L442.79 198.08 L442.21 197.28 L441.64 196.58 L441.14 195.99 L440.75 195.54 L440.48 195.2Z" fill="#1f80dc" fill-opacity="0.88" filter="url(#b1_0)"/>
<path d="M438.08 197 L438.35 197.38 L438.7 197.88 L439.11 198.47 L439.53 199.13 L439.93 199.83 L440.29 200.58 L440.62 201.37 L440.94 202.24 L441.26 203.19 L441.6 204.23 L442.01 205.35 L442.49 206.55 L443.02 207.88 L443.6 209.33 L444.2 210.86 L444.81 212.43 L445.41 213.99 L445.97 215.51 L446.51 217.01 L447.04 218.53 L447.55 220.04 L448.05 221.54 L448.51 223 L448.94 224.42 L449.35 225.87 L449.87 227.37 L450.42 228.84 L450.92 230.19 L451.34 231.34 L451.65 232.17 L453.11 231.83 L453.01 230.94 L452.88 229.73 L452.71 228.29 L452.52 226.7 L452.24 225.1 L451.82 223.58 L451.38 222.11 L450.9 220.61 L450.4 219.09 L449.87 217.55 L449.33 216.01 L448.79 214.49 L448.22 212.94 L447.61 211.35 L446.99 209.76 L446.38 208.22 L445.8 206.77 L445.27 205.45 L444.8 204.25 L444.35 203.15 L443.88 202.14 L443.41 201.18 L442.95 200.28 L442.47 199.42 L441.94 198.6 L441.38 197.85 L440.84 197.18 L440.35 196.61 L439.95 196.15 L439.68 195.8Z" fill="#3cc36a" fill-opacity="0.92" filter="url(#b0_7)"/>
<path d="M438.64 196.58 L438.91 196.95 L439.27 197.44 L439.69 198.03 L440.14 198.7 L440.59 199.43 L440.99 200.2 L441.36 201.03 L441.71 201.91 L442.06 202.87 L442.43 203.9 L442.85 205.02 L443.32 206.22 L443.85 207.55 L444.43 209 L445.04 210.53 L445.65 212.1 L446.25 213.68 L446.82 215.2 L447.35 216.71 L447.89 218.23 L448.4 219.75 L448.9 221.26 L449.37 222.74 L449.8 224.17 L450.21 225.64 L450.69 227.16 L451.17 228.66 L451.6 230.03 L451.97 231.19 L452.23 232.03 L452.53 231.97 L452.38 231.09 L452.19 229.89 L451.96 228.47 L451.7 226.91 L451.37 225.33 L450.96 223.83 L450.52 222.38 L450.04 220.89 L449.54 219.37 L449.02 217.84 L448.49 216.31 L447.94 214.8 L447.38 213.25 L446.77 211.67 L446.16 210.09 L445.55 208.56 L444.97 207.1 L444.44 205.78 L443.96 204.58 L443.52 203.47 L443.07 202.46 L442.64 201.51 L442.21 200.63 L441.77 199.8 L441.28 199.01 L440.76 198.28 L440.25 197.62 L439.79 197.04 L439.4 196.58 L439.12 196.22Z" fill="#ecea9a" fill-opacity="0.9" filter="url(#b0_5)"/>
<path d="M438.42 211.8 L437.96 212.54 L437.31 213.53 L436.53 214.74 L435.7 216.12 L434.9 217.61 L434.42 219.24 L434.05 221.02 L433.73 223.03 L433.45 225.09 L433.22 227.03 L433.04 228.66 L432.89 229.81 L435.87 230.19 L436.02 229.01 L436.2 227.37 L436.43 225.46 L436.7 223.46 L437 221.56 L437.34 219.96 L437.75 218.55 L438.06 217.04 L438.42 215.56 L438.79 214.2 L439.11 213.05 L439.34 212.2Z" fill="#1f80dc" fill-opacity="0.88" filter="url(#b1_0)"/>
<path d="M438.44 212.75 L437.82 213.76 L437.09 214.98 L436.31 216.36 L435.57 217.83 L435.1 219.41 L434.74 221.15 L434.42 223.13 L434.15 225.17 L433.92 227.11 L433.73 228.74 L433.59 229.9 L435.17 230.1 L435.32 228.93 L435.51 227.29 L435.74 225.38 L436 223.36 L436.31 221.44 L436.66 219.79 L437.09 218.33 L437.45 216.8 L437.86 215.32 L438.27 213.97 L438.63 212.84Z" fill="#3cc36a" fill-opacity="0.92" filter="url(#b0_7)"/>
<path d="M438.42 212.2 L438.65 213.05 L438.97 214.2 L439.34 215.56 L439.7 217.04 L440.01 218.55 L440.42 219.96 L440.76 221.56 L441.06 223.46 L441.33 225.46 L441.56 227.37 L441.74 229.01 L441.89 230.19 L444.87 229.81 L444.72 228.66 L444.54 227.03 L444.31 225.09 L444.03 223.03 L443.71 221.02 L443.34 219.24 L442.86 217.61 L442.06 216.12 L441.23 214.74 L440.45 213.53 L439.8 212.54 L439.34 211.8Z" fill="#1f80dc" fill-opacity="0.88" filter="url(#b1_0)"/>
<path d="M439.13 212.84 L439.49 213.97 L439.9 215.32 L440.31 216.8 L440.67 218.33 L441.1 219.79 L441.45 221.44 L441.76 223.36 L442.02 225.38 L442.25 227.29 L442.44 228.93 L442.59 230.1 L444.17 229.9 L444.03 228.74 L443.84 227.11 L443.61 225.17 L443.34 223.13 L443.02 221.15 L442.66 219.41 L442.19 217.83 L441.45 216.36 L440.67 214.98 L439.94 213.76 L439.32 212.75Z" fill="#3cc36a" fill-opacity="0.92" filter="url(#b0_7)"/>
<path d="M438.88 145h0M438.01 145h0M437.17 145.02h0M436.31 145.14h0M435.51 145.51h0M434.68 146.09h0M433.85 147.42h0M433.01 149.46h0M432.21 151.8h0M431.4 154.36h0M430.57 157.05h0M429.76 159.74h0M428.95 162.45h0M428.12 165.26h0M427.32 168.03h0M426.51 170.9h0M425.68 173.88h0M424.9 176.79h0M424.13 179.78h0M423.39 182.71h0M422.69 185.63h0M422.05 188.57h0M421.49 191.61h0M420.96 194.6h0M420.31 197.62h0M419.57 200.6h0M418.82 203.55h0M418.1 206.52h0M417.4 209.49h0M416.63 212.47h0M415.81 215.09h0M415 217.37h0M414.17 219.7h0M413.35 222.28h0M412.52 225.14h0M411.72 228.07h0M410.92 231h0M410.11 233.88h0" stroke="#ff1010" stroke-width="1.9" stroke-linecap="round" fill="none"/>
<path d="M438.88 145h0M439.75 145h0M440.59 145.02h0M441.45 145.14h0M442.25 145.51h0M443.08 146.09h0M443.91 147.42h0M444.75 149.46h0M445.55 151.8h0M446.36 154.36h0M447.19 157.05h0M448 159.74h0M448.81 162.45h0M449.64 165.26h0M450.44 168.03h0M451.25 170.9h0M452.08 173.88h0M452.86 176.79h0M453.63 179.78h0M454.37 182.71h0M455.07 185.63h0M455.71 188.57h0M456.27 191.61h0M456.8 194.6h0M457.45 197.62h0M458.19 200.6h0M458.94 203.55h0M459.66 206.52h0M460.36 209.49h0M461.13 212.47h0M461.95 215.09h0M462.76 217.37h0M463.59 219.7h0M464.41 222.28h0M465.24 225.14h0M466.04 228.07h0M466.84 231h0M467.65 233.88h0" stroke="#ff1010" stroke-width="1.9" stroke-linecap="round" fill="none"/>
<path d="M410.38 230h0M411.18 228.25h0M412 226.43h0M412.84 224.5h0M413.65 222.29h0M414.46 220.02h0M415.3 218.1h0M416.14 216.41h0M416.99 215.01h0M417.8 214.04h0M418.62 213.38h0M419.55 213.04h0M420.39 213.04h0M421.28 213.32h0M422.15 213.76h0M423.03 214.28h0M423.91 214.87h0M424.73 215.52h0M425.55 216.22h0M426.41 216.94h0M427.29 217.56h0M428.11 217.97h0M429.02 218.49h0M429.82 219.21h0M430.69 220.12h0M431.49 221.01h0M432.38 222h0" stroke="#ff1010" stroke-width="1.9" stroke-linecap="round" fill="none"/>
<path d="M467.38 230h0M466.58 228.25h0M465.76 226.43h0M464.92 224.5h0M464.11 222.29h0M463.3 220.02h0M462.46 218.1h0M461.62 216.41h0M460.77 215.01h0M459.96 214.04h0M459.14 213.38h0M458.21 213.04h0M457.37 213.04h0M456.48 213.32h0M455.61 213.76h0M454.73 214.28h0M453.85 214.87h0M453.03 215.52h0M452.21 216.22h0M451.35 216.94h0M450.47 217.56h0M449.66 217.97h0M448.74 218.49h0M447.94 219.21h0M447.07 220.12h0M446.27 221.01h0M445.38 222h0" stroke="#ff1010" stroke-width="1.9" stroke-linecap="round" fill="none"/>
<path d="M438.88 199.9h0M438.04 200.96h0M437.19 202.07h0M436.38 203.16h0M435.58 204.23h0M434.73 205.7h0M433.9 207.44h0M433.06 209.29h0M432.23 211.2h0M431.42 213.13h0M430.61 215.09h0M429.79 217.11h0M428.99 219.18h0M428.16 221.37h0M427.35 223.6h0M426.54 225.88h0M425.72 228.33h0M424.91 231.23h0" stroke="#ff1010" stroke-width="1.9" stroke-linecap="round" fill="none"/>
<path d="M438.88 199.9h0M439.72 200.96h0M440.57 202.07h0M441.38 203.16h0M442.18 204.23h0M443.03 205.7h0M443.86 207.44h0M444.7 209.29h0M445.53 211.2h0M446.34 213.13h0M447.15 215.09h0M447.97 217.11h0M448.77 219.18h0M449.6 221.37h0M450.41 223.6h0M451.22 225.88h0M452.04 228.33h0M452.85 231.23h0" stroke="#ff1010" stroke-width="1.9" stroke-linecap="round" fill="none"/>
<path d="M438.88 204h0M438.04 205.33h0M437.2 206.86h0M436.39 208.73h0M435.59 211.24h0M434.76 213.84h0M433.93 216.6h0M433.15 219.57h0M432.53 222.58h0M432.09 225.65h0M431.73 228.72h0M431.41 231.81h0" stroke="#ff1010" stroke-width="1.9" stroke-linecap="round" fill="none"/>
<path d="M438.88 204h0M439.72 205.33h0M440.56 206.86h0M441.37 208.73h0M442.17 211.24h0M443 213.84h0M443.83 216.6h0M444.61 219.57h0M445.23 222.58h0M445.67 225.65h0M446.03 228.72h0M446.35 231.81h0" stroke="#ff1010" stroke-width="1.9" stroke-linecap="round" fill="none"/>
<path d="M438.88 211.4h0M438.06 213.46h0M437.25 215.77h0M436.79 218.75h0M436.46 221.81h0M436.16 224.82h0M435.86 227.87h0M435.57 230.92h0M435.28 234h0" stroke="#ff1010" stroke-width="1.9" stroke-linecap="round" fill="none"/>
<path d="M438.88 211.4h0M439.7 213.46h0M440.51 215.77h0M440.97 218.75h0M441.3 221.81h0M441.6 224.82h0M441.9 227.87h0M442.19 230.92h0M442.48 234h0" stroke="#ff1010" stroke-width="1.9" stroke-linecap="round" fill="none"/>
</g>
<rect x="488.9" y="129.3" width="82.2" height="3.7" fill="#fff"/>
<g clip-path="url(#cbp5)">
<rect x="488.9" y="133" width="82.2" height="100.4" fill="#37329c"/>
<ellipse cx="502" cy="200" rx="10.45" ry="10.8" fill="#1f8fe0" fill-opacity="0.55" filter="url(#b2_0)"/>
<path d="M492.31 197.86v8.99M493.89 192.21v14.58M495.17 191.87v17.21M496.26 196.28v13.03M497.21 194.11v12.11M498.23 193.4v14.81M499.67 193.57v18.43M500.98 192.93v16.79M502.03 191.47v18.71M503.01 193.17v17.77M504.32 187.41v22.61M505.66 188.82v16.97M507 188.97v16.45M508 194.45v15.84M509.05 193.48v12.86M510.22 192.29v14.92M511.53 195.73v7.67M512.93 199.91v1.87" stroke="#2196e4" stroke-width="1.1" stroke-opacity="0.75" fill="none" stroke-linecap="round" filter="url(#b0_6)"/>
<path d="M494.69 197.37v6.82M495.76 195.04v6.59M496.7 195.41v10.04M497.87 195.65v8.66M498.96 192.9v11.71M500.17 191.23v13.21M501.69 195.77v9.91M502.83 192.03v15.58M503.94 194.96v14.17M505.39 194.06v12.95M506.83 192.88v11.56M507.75 194.56v10.04M508.99 195.34v8.81M510.11 200.95v2.36" stroke="#3cc36a" stroke-width="1.1" stroke-opacity="0.8" fill="none" stroke-linecap="round" filter="url(#b0_6)"/>
<path d="M499.16 196.48v5.44M500.37 197.69v6.64M501.77 197.21v7.45M502.7 195.16v8.75M504.19 197.11v7.33M505.68 198.54v4.72" stroke="#e2e890" stroke-width="1.1" stroke-opacity="0.75" fill="none" stroke-linecap="round" filter="url(#b0_6)"/>
<ellipse cx="559" cy="196" rx="10.92" ry="11.7" fill="#1f8fe0" fill-opacity="0.55" filter="url(#b2_0)"/>
<path d="M548.44 189.16v9.83M549.48 191.07v11.3M551.07 189.31v12.86M552.1 187.12v15.39M553.64 189.85v13.3M554.99 183.62v21.85M556 189.7v19.01M557.51 186.56v24.79M558.92 188.85v20.19M560.26 184.69v19.43M561.55 183.04v24.64M562.97 186.41v16.13M564 186.5v21.48M565.15 186.88v20.55M566.48 192.34v11.1M568.05 189.68v9.04M569.4 193.73v9.57" stroke="#2196e4" stroke-width="1.1" stroke-opacity="0.75" fill="none" stroke-linecap="round" filter="url(#b0_6)"/>
<path d="M551.61 191.2v9.58M553.01 192.55v9.3M554.33 189.66v11.81M555.79 187.99v16.87M557.01 191.51v11.96M558.19 188.61v19.37M559.21 188.3v15.93M560.76 185.66v18M562.16 190.78v11.3M563.69 190.37v10.92M564.87 191.89v12.71M565.82 191.64v10.42M566.83 194.8v6.39" stroke="#3cc36a" stroke-width="1.1" stroke-opacity="0.8" fill="none" stroke-linecap="round" filter="url(#b0_6)"/>
<path d="M555.42 192.57v4.79M556.86 193.66v7.14M558.06 189.83v9.83M559.63 193.83v6.49M560.97 191.36v8.39M562.26 194.46v4.99M563.17 194.15v3.38" stroke="#e2e890" stroke-width="1.1" stroke-opacity="0.75" fill="none" stroke-linecap="round" filter="url(#b0_6)"/>
<path d="M527.11 144 L525.3 147.42 L524.11 150.83 L522.83 154.25 L521.77 157.67 L520.67 161.08 L519.71 164.5 L518.68 167.92 L517.72 171.33 L516.77 174.75 L515.88 178.17 L514.93 181.58 L513.99 185 L546.01 185 L545.07 181.58 L544.12 178.17 L543.23 174.75 L542.28 171.33 L541.32 167.92 L540.29 164.5 L539.33 161.08 L538.23 157.67 L537.17 154.25 L535.89 150.83 L534.7 147.42 L532.89 144Z" fill="url(#hz5)" filter="url(#b1_2)"/>
<path d="M528.35 164.21v9.79M532.25 146.69v7M522.53 164.69v6.76M527.31 151.9v9.81M539.38 159.28v8.66M531.7 151.26v8.22M530.36 150.6v4.09M530.67 155.61v9.49M533.33 177.56v4.2M524.94 158.7v9.98M518.46 172.4v10.17M524.78 153.86v7.63M525.97 158.76v6.11M533.66 159.65v5.31" stroke="#3aa0e8" stroke-width="0.9" stroke-opacity="0.3" fill="none" filter="url(#b0_5)"/>
<ellipse cx="530" cy="160" rx="4.5" ry="9" fill="#1f8fe0" fill-opacity="0.6" filter="url(#b2_0)"/>
<ellipse cx="530" cy="150" rx="5" ry="5.5" fill="#3cc36a" fill-opacity="0.9" filter="url(#b2_0)"/>
<path d="M529.62 138.38 L529.25 138.43 L528.65 138.48 L527.8 138.57 L526.78 138.75 L525.63 139.09 L524.58 139.62 L523.82 140.13 L523.13 140.65 L522.4 141.39 L521.71 142.32 L521.06 143.43 L520.36 144.83 L519.58 146.56 L518.73 148.57 L517.83 150.84 L517.36 152.11 L516.89 153.37 L516.4 154.74 L515.9 156.11 L515.4 157.57 L514.9 159.04 L514.4 160.69 L513.9 162.34 L513.54 163.58 L513.18 164.8 L512.83 166.03 L512.46 167.34 L512.09 168.64 L511.73 169.94 L511.36 171.26 L511 172.57 L510.64 173.88 L510.29 175.15 L509.95 176.41 L509.6 177.68 L509.13 179.42 L508.66 181.16 L508.25 182.71 L507.84 184.26 L507.48 185.68 L507.12 187.1 L506.79 188.45 L506.46 189.78 L506.13 191.12 L505.8 192.44 L505.46 193.82 L505.12 195.2 L504.74 196.69 L504.35 198.19 L504.05 199.34 L503.74 200.51 L503.44 201.68 L503.08 203 L502.73 204.32 L502.38 205.64 L502.02 207 L501.82 208.41 L501.65 209.82 L501.48 211.14 L501.31 212.47 L501.15 213.8 L501.04 215.52 L501 217.26 L500.96 218.5 L500.93 219.74 L502.87 220.26 L503.46 219.17 L504.05 218.08 L504.88 216.55 L505.65 215.01 L506.18 213.78 L506.7 212.54 L507.22 211.31 L507.77 210 L508.3 208.68 L508.66 207.32 L509.01 205.99 L509.37 204.67 L509.72 203.34 L510.03 202.17 L510.34 201 L510.65 199.81 L511.03 198.3 L511.42 196.79 L511.77 195.39 L512.11 194 L512.44 192.67 L512.77 191.34 L513.1 190.01 L513.43 188.68 L513.78 187.28 L514.13 185.89 L514.54 184.37 L514.94 182.84 L515.41 181.11 L515.87 179.38 L516.22 178.12 L516.56 176.86 L516.9 175.6 L517.26 174.3 L517.63 172.99 L517.99 171.69 L518.35 170.4 L518.71 169.1 L519.08 167.82 L519.43 166.61 L519.78 165.39 L520.13 164.19 L520.62 162.57 L521.1 160.96 L521.53 159.52 L521.95 158.07 L522.36 156.72 L522.77 155.37 L523.17 154.14 L523.57 152.91 L524.32 150.69 L525.01 148.77 L525.64 147.17 L526.15 146.01 L526.51 145.31 L526.73 144.97 L526.87 144.81 L527.11 144.62 L527.42 144.38 L527.68 144.23 L528.04 144.12 L528.58 144.03 L529.2 143.96 L529.86 143.9 L530.38 143.82Z" fill="#1f80dc" fill-opacity="0.88" filter="url(#b1_0)"/>
<path d="M529.78 139.52 L529.38 139.57 L528.76 139.62 L527.96 139.71 L527.04 139.87 L526.05 140.16 L525.16 140.6 L524.49 141.05 L523.89 141.5 L523.27 142.12 L522.68 142.92 L522.07 143.94 L521.39 145.28 L520.61 146.98 L519.76 148.96 L518.88 151.22 L518.41 152.48 L517.95 153.73 L517.47 155.09 L516.98 156.46 L516.49 157.92 L515.99 159.38 L515.5 161.02 L515 162.66 L514.64 163.9 L514.29 165.12 L513.93 166.35 L513.57 167.65 L513.2 168.95 L512.83 170.25 L512.47 171.56 L512.11 172.87 L511.75 174.18 L511.4 175.45 L511.06 176.71 L510.71 177.98 L510.24 179.72 L509.77 181.46 L509.36 183 L508.96 184.55 L508.6 185.97 L508.24 187.38 L507.9 188.72 L507.57 190.06 L507.25 191.39 L506.92 192.72 L506.58 194.1 L506.23 195.48 L505.85 196.98 L505.47 198.47 L505.16 199.64 L504.85 200.81 L504.55 201.97 L504.2 203.3 L503.84 204.62 L503.49 205.94 L503.13 207.3 L502.93 208.7 L502.76 210.11 L502.59 211.44 L502.42 212.77 L502.26 214.1 L502.06 215.8 L501.87 217.49 L501.73 218.71 L501.6 219.92 L502.2 220.08 L502.69 218.96 L503.18 217.85 L503.87 216.28 L504.54 214.71 L505.06 213.48 L505.59 212.25 L506.11 211.01 L506.66 209.7 L507.19 208.38 L507.55 207.02 L507.9 205.7 L508.26 204.37 L508.61 203.05 L508.92 201.87 L509.22 200.7 L509.53 199.53 L509.92 198.02 L510.31 196.51 L510.65 195.11 L511 193.73 L511.33 192.39 L511.65 191.07 L511.98 189.73 L512.31 188.4 L512.67 187 L513.02 185.6 L513.42 184.07 L513.83 182.54 L514.3 180.81 L514.76 179.08 L515.11 177.82 L515.45 176.56 L515.8 175.3 L516.16 173.99 L516.52 172.68 L516.88 171.38 L517.24 170.09 L517.61 168.79 L517.97 167.5 L518.32 166.29 L518.68 165.07 L519.03 163.86 L519.52 162.24 L520.01 160.62 L520.44 159.17 L520.87 157.72 L521.29 156.36 L521.71 155.01 L522.12 153.77 L522.52 152.53 L523.29 150.3 L523.98 148.35 L524.61 146.72 L525.14 145.5 L525.55 144.71 L525.85 144.24 L526.11 143.97 L526.44 143.7 L526.84 143.4 L527.26 143.16 L527.78 143.01 L528.42 142.89 L529.09 142.81 L529.73 142.75 L530.22 142.68Z" fill="#3cc36a" fill-opacity="0.92" filter="url(#b0_7)"/>
<path d="M529.9 140.41 L529.48 140.46 L528.86 140.52 L528.09 140.6 L527.25 140.75 L526.39 141 L525.63 141.38 L525.03 141.78 L524.51 142.18 L523.99 142.71 L523.47 143.41 L522.91 144.37 L522.26 145.67 L521.51 147.34 L520.69 149.31 L519.84 151.56 L519.39 152.82 L518.94 154.07 L518.47 155.43 L518 156.79 L517.52 158.25 L517.04 159.7 L516.55 161.34 L516.06 162.98 L515.7 164.2 L515.35 165.43 L514.99 166.65 L514.62 167.95 L514.26 169.25 L513.89 170.54 L513.53 171.86 L513.17 173.16 L512.81 174.48 L512.46 175.74 L512.12 177 L511.77 178.27 L511.3 180 L510.83 181.74 L510.43 183.28 L510.02 184.83 L509.66 186.24 L509.3 187.65 L508.97 188.99 L508.64 190.32 L508.31 191.65 L507.99 192.98 L507.64 194.37 L507.3 195.75 L506.92 197.25 L506.53 198.75 L506.23 199.92 L505.92 201.09 L505.61 202.26 L505.26 203.58 L504.91 204.9 L504.56 206.22 L504.19 207.58 L503.99 208.99 L503.82 210.4 L503.65 211.73 L503.49 213.06 L503.32 214.39 L503.48 214.43 L504 213.2 L504.52 211.96 L505.04 210.73 L505.6 209.42 L506.12 208.1 L506.49 206.74 L506.84 205.41 L507.19 204.09 L507.54 202.77 L507.85 201.6 L508.16 200.42 L508.47 199.25 L508.85 197.74 L509.24 196.24 L509.59 194.85 L509.93 193.46 L510.26 192.13 L510.58 190.8 L510.91 189.47 L511.24 188.13 L511.6 186.73 L511.96 185.33 L512.36 183.79 L512.77 182.26 L513.23 180.53 L513.7 178.79 L514.05 177.53 L514.39 176.27 L514.73 175.01 L515.1 173.7 L515.46 172.39 L515.82 171.08 L516.18 169.79 L516.55 168.49 L516.91 167.2 L517.27 165.98 L517.62 164.76 L517.97 163.55 L518.46 161.92 L518.96 160.3 L519.4 158.84 L519.85 157.39 L520.29 156.03 L520.72 154.67 L521.14 153.43 L521.56 152.19 L522.36 149.95 L523.08 147.98 L523.74 146.33 L524.3 145.07 L524.76 144.21 L525.14 143.66 L525.49 143.28 L525.9 142.96 L526.37 142.62 L526.92 142.32 L527.57 142.13 L528.29 142 L529 141.92 L529.63 141.86 L530.1 141.79Z" fill="#ecea9a" fill-opacity="0.9" filter="url(#b0_5)"/>
<path d="M529.62 143.82 L530.14 143.9 L530.8 143.96 L531.42 144.03 L531.96 144.12 L532.32 144.23 L532.58 144.38 L532.89 144.62 L533.13 144.81 L533.27 144.97 L533.49 145.31 L533.85 146.01 L534.36 147.17 L534.99 148.77 L535.68 150.69 L536.43 152.91 L536.83 154.14 L537.23 155.37 L537.64 156.72 L538.05 158.07 L538.47 159.52 L538.9 160.96 L539.38 162.57 L539.87 164.19 L540.22 165.39 L540.57 166.61 L540.92 167.82 L541.29 169.1 L541.65 170.4 L542.01 171.69 L542.37 172.99 L542.74 174.3 L543.1 175.6 L543.44 176.86 L543.78 178.12 L544.13 179.38 L544.59 181.11 L545.06 182.84 L545.46 184.37 L545.87 185.89 L546.22 187.28 L546.57 188.68 L546.9 190.01 L547.23 191.34 L547.56 192.67 L547.89 194 L548.23 195.39 L548.58 196.79 L548.97 198.3 L549.35 199.81 L549.66 201 L549.97 202.17 L550.28 203.34 L550.63 204.67 L550.99 205.99 L551.34 207.32 L551.7 208.68 L552.23 210 L552.78 211.31 L553.3 212.54 L553.82 213.78 L554.35 215.01 L555.12 216.55 L555.95 218.08 L556.54 219.17 L557.13 220.26 L559.07 219.74 L559.04 218.5 L559 217.26 L558.96 215.52 L558.85 213.8 L558.69 212.47 L558.52 211.14 L558.35 209.82 L558.18 208.41 L557.98 207 L557.62 205.64 L557.27 204.32 L556.92 203 L556.56 201.68 L556.26 200.51 L555.95 199.34 L555.65 198.19 L555.26 196.69 L554.88 195.2 L554.54 193.82 L554.2 192.44 L553.87 191.12 L553.54 189.78 L553.21 188.45 L552.88 187.1 L552.52 185.68 L552.16 184.26 L551.75 182.71 L551.34 181.16 L550.87 179.42 L550.4 177.68 L550.05 176.41 L549.71 175.15 L549.36 173.88 L549 172.57 L548.64 171.26 L548.27 169.94 L547.91 168.64 L547.54 167.34 L547.17 166.03 L546.82 164.8 L546.46 163.58 L546.1 162.34 L545.6 160.69 L545.1 159.04 L544.6 157.57 L544.1 156.11 L543.6 154.74 L543.11 153.37 L542.64 152.11 L542.17 150.84 L541.27 148.57 L540.42 146.56 L539.64 144.83 L538.94 143.43 L538.29 142.32 L537.6 141.39 L536.87 140.65 L536.18 140.13 L535.42 139.62 L534.37 139.09 L533.22 138.75 L532.2 138.57 L531.35 138.48 L530.75 138.43 L530.38 138.38Z" fill="#1f80dc" fill-opacity="0.88" filter="url(#b1_0)"/>
<path d="M529.78 142.68 L530.27 142.75 L530.91 142.81 L531.58 142.89 L532.22 143.01 L532.74 143.16 L533.16 143.4 L533.56 143.7 L533.89 143.97 L534.15 144.24 L534.45 144.71 L534.86 145.5 L535.39 146.72 L536.02 148.35 L536.71 150.3 L537.48 152.53 L537.88 153.77 L538.29 155.01 L538.71 156.36 L539.13 157.72 L539.56 159.17 L539.99 160.62 L540.48 162.24 L540.97 163.86 L541.32 165.07 L541.68 166.29 L542.03 167.5 L542.39 168.79 L542.76 170.09 L543.12 171.38 L543.48 172.68 L543.84 173.99 L544.2 175.3 L544.55 176.56 L544.89 177.82 L545.24 179.08 L545.7 180.81 L546.17 182.54 L546.58 184.07 L546.98 185.6 L547.33 187 L547.69 188.4 L548.02 189.73 L548.35 191.07 L548.67 192.39 L549 193.73 L549.35 195.11 L549.69 196.51 L550.08 198.02 L550.47 199.53 L550.78 200.7 L551.08 201.87 L551.39 203.05 L551.74 204.37 L552.1 205.7 L552.45 207.02 L552.81 208.38 L553.34 209.7 L553.89 211.01 L554.41 212.25 L554.94 213.48 L555.46 214.71 L556.13 216.28 L556.82 217.85 L557.31 218.96 L557.8 220.08 L558.4 219.92 L558.27 218.71 L558.13 217.49 L557.94 215.8 L557.74 214.1 L557.58 212.77 L557.41 211.44 L557.24 210.11 L557.07 208.7 L556.87 207.3 L556.51 205.94 L556.16 204.62 L555.8 203.3 L555.45 201.97 L555.15 200.81 L554.84 199.64 L554.53 198.47 L554.15 196.98 L553.77 195.48 L553.42 194.1 L553.08 192.72 L552.75 191.39 L552.43 190.06 L552.1 188.72 L551.76 187.38 L551.4 185.97 L551.04 184.55 L550.64 183 L550.23 181.46 L549.76 179.72 L549.29 177.98 L548.94 176.71 L548.6 175.45 L548.25 174.18 L547.89 172.87 L547.53 171.56 L547.17 170.25 L546.8 168.95 L546.43 167.65 L546.07 166.35 L545.71 165.12 L545.36 163.9 L545 162.66 L544.5 161.02 L544.01 159.38 L543.51 157.92 L543.02 156.46 L542.53 155.09 L542.05 153.73 L541.59 152.48 L541.12 151.22 L540.24 148.96 L539.39 146.98 L538.61 145.28 L537.93 143.94 L537.32 142.92 L536.73 142.12 L536.11 141.5 L535.51 141.05 L534.84 140.6 L533.95 140.16 L532.96 139.87 L532.04 139.71 L531.24 139.62 L530.62 139.57 L530.22 139.52Z" fill="#3cc36a" fill-opacity="0.92" filter="url(#b0_7)"/>
<path d="M529.9 141.79 L530.37 141.86 L531 141.92 L531.71 142 L532.43 142.13 L533.08 142.32 L533.63 142.62 L534.1 142.96 L534.51 143.28 L534.86 143.66 L535.24 144.21 L535.7 145.07 L536.26 146.33 L536.92 147.98 L537.64 149.95 L538.44 152.19 L538.86 153.43 L539.28 154.67 L539.71 156.03 L540.15 157.39 L540.6 158.84 L541.04 160.3 L541.54 161.92 L542.03 163.55 L542.38 164.76 L542.73 165.98 L543.09 167.2 L543.45 168.49 L543.82 169.79 L544.18 171.08 L544.54 172.39 L544.9 173.7 L545.27 175.01 L545.61 176.27 L545.95 177.53 L546.3 178.79 L546.77 180.53 L547.23 182.26 L547.64 183.79 L548.04 185.33 L548.4 186.73 L548.76 188.13 L549.09 189.47 L549.42 190.8 L549.74 192.13 L550.07 193.46 L550.41 194.85 L550.76 196.24 L551.15 197.74 L551.53 199.25 L551.84 200.42 L552.15 201.6 L552.46 202.77 L552.81 204.09 L553.16 205.41 L553.51 206.74 L553.88 208.1 L554.4 209.42 L554.96 210.73 L555.48 211.96 L556 213.2 L556.52 214.43 L556.68 214.39 L556.51 213.06 L556.35 211.73 L556.18 210.4 L556.01 208.99 L555.81 207.58 L555.44 206.22 L555.09 204.9 L554.74 203.58 L554.39 202.26 L554.08 201.09 L553.77 199.92 L553.47 198.75 L553.08 197.25 L552.7 195.75 L552.36 194.37 L552.01 192.98 L551.69 191.65 L551.36 190.32 L551.03 188.99 L550.7 187.65 L550.34 186.24 L549.98 184.83 L549.57 183.28 L549.17 181.74 L548.7 180 L548.23 178.27 L547.88 177 L547.54 175.74 L547.19 174.48 L546.83 173.16 L546.47 171.86 L546.11 170.54 L545.74 169.25 L545.38 167.95 L545.01 166.65 L544.65 165.43 L544.3 164.2 L543.94 162.98 L543.45 161.34 L542.96 159.7 L542.48 158.25 L542 156.79 L541.53 155.43 L541.06 154.07 L540.61 152.82 L540.16 151.56 L539.31 149.31 L538.49 147.34 L537.74 145.67 L537.09 144.37 L536.53 143.41 L536.01 142.71 L535.49 142.18 L534.97 141.78 L534.37 141.38 L533.61 141 L532.75 140.75 L531.91 140.6 L531.14 140.52 L530.52 140.46 L530.1 140.41Z" fill="#ecea9a" fill-opacity="0.9" filter="url(#b0_5)"/>
<path d="M528 194.9 L527.74 195.23 L527.34 195.69 L526.83 196.28 L526.26 197 L525.66 197.82 L525.09 198.72 L524.57 199.65 L524.09 200.6 L523.61 201.58 L523.13 202.6 L522.68 203.7 L522.21 204.89 L521.68 206.21 L521.1 207.67 L520.49 209.22 L519.87 210.81 L519.26 212.41 L518.68 213.98 L518.13 215.51 L517.59 217.06 L517.06 218.61 L516.55 220.15 L516.07 221.67 L515.62 223.16 L515.19 224.71 L514.78 226.31 L514.49 227.88 L514.38 229.35 L514.3 230.57 L514.23 231.46 L518.77 232.54 L519.12 231.71 L519.58 230.57 L520.14 229.24 L520.59 227.77 L520.98 226.26 L521.38 224.84 L521.8 223.45 L522.26 222 L522.75 220.52 L523.26 219.02 L523.79 217.51 L524.32 216.02 L524.87 214.52 L525.47 212.97 L526.07 211.41 L526.68 209.89 L527.25 208.44 L527.79 207.11 L528.27 205.9 L528.68 204.78 L529.01 203.75 L529.32 202.83 L529.62 202 L529.91 201.28 L530.23 200.62 L530.59 199.98 L530.98 199.37 L531.36 198.8 L531.72 198.29 L532 197.9Z" fill="#1f80dc" fill-opacity="0.88" filter="url(#b1_0)"/>
<path d="M528.8 195.5 L528.53 195.84 L528.13 196.3 L527.64 196.88 L527.09 197.57 L526.52 198.34 L525.97 199.19 L525.48 200.07 L525.01 200.99 L524.54 201.95 L524.07 202.97 L523.61 204.07 L523.14 205.26 L522.61 206.58 L522.03 208.04 L521.42 209.58 L520.8 211.17 L520.19 212.76 L519.62 214.32 L519.07 215.84 L518.54 217.38 L518.01 218.93 L517.5 220.46 L517.03 221.97 L516.58 223.44 L516.15 224.97 L515.75 226.55 L515.44 228.11 L515.27 229.56 L515.14 230.77 L515.04 231.65 L517.96 232.35 L518.27 231.51 L518.69 230.36 L519.19 229.01 L519.62 227.52 L520.02 226 L520.42 224.56 L520.85 223.15 L521.31 221.69 L521.8 220.2 L522.32 218.69 L522.85 217.18 L523.38 215.68 L523.94 214.17 L524.53 212.61 L525.14 211.04 L525.75 209.52 L526.33 208.07 L526.86 206.74 L527.34 205.53 L527.75 204.41 L528.08 203.38 L528.4 202.43 L528.71 201.58 L529.03 200.81 L529.38 200.1 L529.77 199.41 L530.18 198.77 L530.57 198.19 L530.93 197.68 L531.2 197.3Z" fill="#3cc36a" fill-opacity="0.92" filter="url(#b0_7)"/>
<path d="M529.52 196.04 L529.25 196.39 L528.85 196.86 L528.37 197.43 L527.85 198.09 L527.31 198.83 L526.81 199.63 L526.34 200.48 L525.9 201.37 L525.45 202.32 L524.99 203.33 L524.54 204.43 L524.07 205.63 L523.54 206.95 L522.96 208.41 L522.35 209.95 L521.73 211.53 L521.13 213.11 L520.56 214.66 L520.02 216.18 L519.48 217.71 L518.96 219.24 L518.46 220.77 L517.98 222.26 L517.54 223.72 L517.12 225.22 L516.72 226.79 L516.41 228.35 L516.25 229.79 L516.11 231 L516.01 231.88 L516.99 232.12 L517.3 231.28 L517.72 230.14 L518.22 228.78 L518.66 227.28 L519.05 225.74 L519.46 224.28 L519.89 222.85 L520.36 221.38 L520.85 219.88 L521.37 218.36 L521.9 216.84 L522.44 215.34 L523 213.82 L523.6 212.25 L524.21 210.68 L524.82 209.15 L525.4 207.7 L525.93 206.37 L526.41 205.16 L526.82 204.05 L527.17 203.01 L527.51 202.05 L527.85 201.18 L528.19 200.37 L528.58 199.61 L529 198.89 L529.44 198.22 L529.85 197.63 L530.21 197.13 L530.48 196.76Z" fill="#ecea9a" fill-opacity="0.9" filter="url(#b0_5)"/>
<path d="M528 197.9 L528.28 198.29 L528.64 198.8 L529.02 199.37 L529.41 199.98 L529.77 200.62 L530.09 201.28 L530.38 202 L530.68 202.83 L530.99 203.75 L531.32 204.78 L531.73 205.9 L532.21 207.11 L532.75 208.44 L533.32 209.89 L533.93 211.41 L534.53 212.97 L535.13 214.52 L535.68 216.02 L536.21 217.51 L536.74 219.02 L537.25 220.52 L537.74 222 L538.2 223.45 L538.62 224.84 L539.02 226.26 L539.41 227.77 L539.86 229.24 L540.42 230.57 L540.88 231.71 L541.23 232.54 L545.77 231.46 L545.7 230.57 L545.62 229.35 L545.51 227.88 L545.22 226.31 L544.81 224.71 L544.38 223.16 L543.93 221.67 L543.45 220.15 L542.94 218.61 L542.41 217.06 L541.87 215.51 L541.32 213.98 L540.74 212.41 L540.13 210.81 L539.51 209.22 L538.9 207.67 L538.32 206.21 L537.79 204.89 L537.32 203.7 L536.87 202.6 L536.39 201.58 L535.91 200.6 L535.43 199.65 L534.91 198.72 L534.34 197.82 L533.74 197 L533.17 196.28 L532.66 195.69 L532.26 195.23 L532 194.9Z" fill="#1f80dc" fill-opacity="0.88" filter="url(#b1_0)"/>
<path d="M528.8 197.3 L529.07 197.68 L529.43 198.19 L529.82 198.77 L530.23 199.41 L530.62 200.1 L530.97 200.81 L531.29 201.58 L531.6 202.43 L531.92 203.38 L532.25 204.41 L532.66 205.53 L533.14 206.74 L533.67 208.07 L534.25 209.52 L534.86 211.04 L535.47 212.61 L536.06 214.17 L536.62 215.68 L537.15 217.18 L537.68 218.69 L538.2 220.2 L538.69 221.69 L539.15 223.15 L539.58 224.56 L539.98 226 L540.38 227.52 L540.81 229.01 L541.31 230.36 L541.73 231.51 L542.04 232.35 L544.96 231.65 L544.86 230.77 L544.73 229.56 L544.56 228.11 L544.25 226.55 L543.85 224.97 L543.42 223.44 L542.97 221.97 L542.5 220.46 L541.99 218.93 L541.46 217.38 L540.93 215.84 L540.38 214.32 L539.81 212.76 L539.2 211.17 L538.58 209.58 L537.97 208.04 L537.39 206.58 L536.86 205.26 L536.39 204.07 L535.93 202.97 L535.46 201.95 L534.99 200.99 L534.52 200.07 L534.03 199.19 L533.48 198.34 L532.91 197.57 L532.36 196.88 L531.87 196.3 L531.47 195.84 L531.2 195.5Z" fill="#3cc36a" fill-opacity="0.92" filter="url(#b0_7)"/>
<path d="M529.52 196.76 L529.79 197.13 L530.15 197.63 L530.56 198.22 L531 198.89 L531.42 199.61 L531.81 200.37 L532.15 201.18 L532.49 202.05 L532.83 203.01 L533.18 204.05 L533.59 205.16 L534.07 206.37 L534.6 207.7 L535.18 209.15 L535.79 210.68 L536.4 212.25 L537 213.82 L537.56 215.34 L538.1 216.84 L538.63 218.36 L539.15 219.88 L539.64 221.38 L540.11 222.85 L540.54 224.28 L540.95 225.74 L541.34 227.28 L541.78 228.78 L542.28 230.14 L542.7 231.28 L543.01 232.12 L543.99 231.88 L543.89 231 L543.75 229.79 L543.59 228.35 L543.28 226.79 L542.88 225.22 L542.46 223.72 L542.02 222.26 L541.54 220.77 L541.04 219.24 L540.52 217.71 L539.98 216.18 L539.44 214.66 L538.87 213.11 L538.27 211.53 L537.65 209.95 L537.04 208.41 L536.46 206.95 L535.93 205.63 L535.46 204.43 L535.01 203.33 L534.55 202.32 L534.1 201.37 L533.66 200.48 L533.19 199.63 L532.69 198.83 L532.15 198.09 L531.63 197.43 L531.15 196.86 L530.75 196.39 L530.48 196.04Z" fill="#ecea9a" fill-opacity="0.9" filter="url(#b0_5)"/>
<path d="M529.53 207.83 L528.93 208.66 L528.11 209.78 L527.11 211.15 L526.04 212.72 L525.28 214.57 L524.8 216.55 L524.42 218.74 L524.26 220.02 L524.1 221.26 L523.96 222.55 L523.82 223.84 L523.71 225.06 L523.59 226.27 L523.41 228.33 L523.26 229.78 L527.74 230.22 L527.89 228.75 L528.07 226.69 L528.19 225.48 L528.3 224.29 L528.44 223.03 L528.57 221.78 L528.72 220.59 L528.87 219.43 L529.2 217.45 L529.62 215.76 L529.96 214.02 L530.07 212.23 L530.23 210.59 L530.38 209.21 L530.47 208.17Z" fill="#1f80dc" fill-opacity="0.88" filter="url(#b1_0)"/>
<path d="M529.44 208.85 L528.66 209.99 L527.73 211.37 L526.72 212.95 L526 214.77 L525.53 216.7 L525.16 218.86 L525 220.11 L524.84 221.34 L524.71 222.63 L524.57 223.91 L524.45 225.13 L524.34 226.34 L524.15 228.4 L524.01 229.85 L526.99 230.15 L527.14 228.68 L527.33 226.62 L527.44 225.41 L527.55 224.21 L527.69 222.95 L527.82 221.69 L527.98 220.49 L528.13 219.31 L528.47 217.3 L528.89 215.56 L529.28 213.79 L529.46 212 L529.68 210.38 L529.87 209.02Z" fill="#3cc36a" fill-opacity="0.92" filter="url(#b0_7)"/>
<path d="M529.54 208.89 L528.89 210.08 L528.13 211.52 L527.32 213.15 L526.68 214.95 L526.22 216.84 L525.86 218.96 L525.7 220.2 L525.54 221.43 L525.4 222.71 L525.27 223.98 L525.15 225.2 L525.04 226.41 L524.85 228.46 L524.7 229.92 L526.3 230.08 L526.44 228.61 L526.63 226.56 L526.74 225.35 L526.86 224.14 L526.99 222.88 L527.13 221.61 L527.28 220.4 L527.44 219.21 L527.78 217.16 L528.22 215.38 L528.68 213.59 L529.06 211.86 L529.44 210.29 L529.77 208.98Z" fill="#ecea9a" fill-opacity="0.9" filter="url(#b0_5)"/>
<path d="M529.53 208.17 L529.62 209.21 L529.77 210.59 L529.93 212.23 L530.04 214.02 L530.38 215.76 L530.8 217.45 L531.13 219.43 L531.28 220.59 L531.43 221.78 L531.56 223.03 L531.7 224.29 L531.81 225.48 L531.93 226.69 L532.11 228.75 L532.26 230.22 L536.74 229.78 L536.59 228.33 L536.41 226.27 L536.29 225.06 L536.18 223.84 L536.04 222.55 L535.9 221.26 L535.74 220.02 L535.58 218.74 L535.2 216.55 L534.72 214.57 L533.96 212.72 L532.89 211.15 L531.89 209.78 L531.07 208.66 L530.47 207.83Z" fill="#1f80dc" fill-opacity="0.88" filter="url(#b1_0)"/>
<path d="M530.13 209.02 L530.32 210.38 L530.54 212 L530.72 213.79 L531.11 215.56 L531.53 217.3 L531.87 219.31 L532.02 220.49 L532.18 221.69 L532.31 222.95 L532.45 224.21 L532.56 225.41 L532.67 226.62 L532.86 228.68 L533.01 230.15 L535.99 229.85 L535.85 228.4 L535.66 226.34 L535.55 225.13 L535.43 223.91 L535.29 222.63 L535.16 221.34 L535 220.11 L534.84 218.86 L534.47 216.7 L534 214.77 L533.28 212.95 L532.27 211.37 L531.34 209.99 L530.56 208.85Z" fill="#3cc36a" fill-opacity="0.92" filter="url(#b0_7)"/>
<path d="M530.23 208.98 L530.56 210.29 L530.94 211.86 L531.32 213.59 L531.78 215.38 L532.22 217.16 L532.56 219.21 L532.72 220.4 L532.87 221.61 L533.01 222.88 L533.14 224.14 L533.26 225.35 L533.37 226.56 L533.56 228.61 L533.7 230.08 L535.3 229.92 L535.15 228.46 L534.96 226.41 L534.85 225.2 L534.73 223.98 L534.6 222.71 L534.46 221.43 L534.3 220.2 L534.14 218.96 L533.78 216.84 L533.32 214.95 L532.68 213.15 L531.87 211.52 L531.11 210.08 L530.46 208.89Z" fill="#ecea9a" fill-opacity="0.9" filter="url(#b0_5)"/>
<path d="M530 139.2h0M529.16 139.46h0M528.28 139.84h0M527.43 140.56h0M526.57 141.59h0M525.73 143.04h0M524.91 144.81h0M524.07 146.81h0M523.24 149.01h0M522.41 151.38h0M521.58 153.99h0M520.78 156.77h0M519.96 159.73h0M519.16 162.66h0M518.33 165.57h0M517.51 168.29h0M516.71 171.16h0M516.01 174.18h0M515.41 177.17h0M514.84 180.17h0M514.28 183.21h0M513.77 186.25h0M513.27 189.27h0M512.74 192.32h0M512.2 195.33h0M511.61 198.34h0M510.92 201.3h0M510.09 203.98h0M509.27 206.26h0M508.47 208.6h0M507.66 211.18h0M506.84 213.82h0M506.03 216.4h0M505.21 218.88h0M504.39 221.31h0M503.56 223.81h0M502.75 226.35h0M501.95 228.92h0M501.14 231.55h0" stroke="#ff1010" stroke-width="1.9" stroke-linecap="round" fill="none"/>
<path d="M530 139.2h0M530.84 139.46h0M531.72 139.84h0M532.57 140.56h0M533.43 141.59h0M534.27 143.04h0M535.09 144.81h0M535.93 146.81h0M536.76 149.01h0M537.59 151.38h0M538.42 153.99h0M539.22 156.77h0M540.04 159.73h0M540.84 162.66h0M541.67 165.57h0M542.49 168.29h0M543.29 171.16h0M543.99 174.18h0M544.59 177.17h0M545.16 180.17h0M545.72 183.21h0M546.23 186.25h0M546.73 189.27h0M547.26 192.32h0M547.8 195.33h0M548.39 198.34h0M549.08 201.3h0M549.91 203.98h0M550.73 206.26h0M551.53 208.6h0M552.34 211.18h0M553.16 213.82h0M553.97 216.4h0M554.79 218.88h0M555.61 221.31h0M556.44 223.81h0M557.25 226.35h0M558.05 228.92h0M558.86 231.55h0" stroke="#ff1010" stroke-width="1.9" stroke-linecap="round" fill="none"/>
<path d="M500.5 231h0M501.32 228.98h0M502.12 226.98h0M502.93 224.98h0M503.74 222.84h0M504.57 220.67h0M505.41 218.69h0M506.22 217.1h0M507.02 215.76h0M507.84 214.68h0M508.66 213.85h0M509.51 213.37h0M510.4 213.31h0M511.31 213.48h0M512.17 213.79h0M513.06 214.21h0M513.91 214.74h0M514.74 215.43h0M515.58 216.3h0M516.39 217.21h0M517.23 218.2h0M518.08 219.15h0M518.9 220.09h0M519.72 220.9h0M520.56 221.68h0M521.4 222.45h0" stroke="#ff1010" stroke-width="1.9" stroke-linecap="round" fill="none"/>
<path d="M559.5 231h0M558.68 228.98h0M557.88 226.98h0M557.07 224.98h0M556.26 222.84h0M555.43 220.67h0M554.59 218.69h0M553.78 217.1h0M552.98 215.76h0M552.16 214.68h0M551.34 213.85h0M550.49 213.37h0M549.6 213.31h0M548.69 213.48h0M547.83 213.79h0M546.94 214.21h0M546.09 214.74h0M545.26 215.43h0M544.42 216.3h0M543.61 217.21h0M542.77 218.2h0M541.92 219.15h0M541.1 220.09h0M540.28 220.9h0M539.44 221.68h0M538.6 222.45h0" stroke="#ff1010" stroke-width="1.9" stroke-linecap="round" fill="none"/>
<path d="M530 199.1h0M529.16 200.16h0M528.35 201.27h0M527.5 202.6h0M526.7 203.96h0M525.89 205.56h0M525.05 207.37h0M524.25 209.11h0M523.41 210.94h0M522.6 212.77h0M521.79 214.73h0M520.96 216.93h0M520.15 219.64h0M519.51 222.63h0M519.01 225.66h0M518.55 228.68h0M518.12 231.67h0" stroke="#ff1010" stroke-width="1.9" stroke-linecap="round" fill="none"/>
<path d="M530 199.1h0M530.84 200.16h0M531.65 201.27h0M532.5 202.6h0M533.3 203.96h0M534.11 205.56h0M534.95 207.37h0M535.75 209.11h0M536.59 210.94h0M537.4 212.77h0M538.21 214.73h0M539.04 216.93h0M539.85 219.64h0M540.49 222.63h0M540.99 225.66h0M541.45 228.68h0M541.88 231.67h0" stroke="#ff1010" stroke-width="1.9" stroke-linecap="round" fill="none"/>
<path d="M530 205.2h0M529.17 206.38h0M528.36 207.77h0M527.52 209.47h0M526.69 211.99h0M525.88 214.61h0M525.05 217.47h0M524.32 220.42h0M523.78 223.42h0M523.45 226.4h0M523.21 229.4h0M523.01 232.46h0" stroke="#ff1010" stroke-width="1.9" stroke-linecap="round" fill="none"/>
<path d="M530 205.2h0M530.83 206.38h0M531.64 207.77h0M532.48 209.47h0M533.31 211.99h0M534.12 214.61h0M534.95 217.47h0M535.68 220.42h0M536.22 223.42h0M536.55 226.4h0M536.79 229.4h0M536.99 232.46h0" stroke="#ff1010" stroke-width="1.9" stroke-linecap="round" fill="none"/>
<path d="M530 212.2h0M529.18 214.38h0M528.39 217.35h0M527.96 220.4h0M527.68 223.47h0M527.45 226.47h0M527.23 229.5h0M527 232.59h0" stroke="#ff1010" stroke-width="1.9" stroke-linecap="round" fill="none"/>
<path d="M530 212.2h0M530.82 214.38h0M531.61 217.35h0M532.04 220.4h0M532.32 223.47h0M532.55 226.47h0M532.77 229.5h0M533 232.59h0" stroke="#ff1010" stroke-width="1.9" stroke-linecap="round" fill="none"/>
</g>
<line x1="33.3" y1="26.5" x2="115.5" y2="26.5" stroke="#111" stroke-width="1" stroke-dasharray="1.2 1.1"/>
<line x1="74.4" y1="14.5" x2="74.4" y2="118.2" stroke="#111" stroke-width="1" stroke-dasharray="1.2 1.1"/>
<rect x="33.3" y="14.5" width="82.2" height="103.7" fill="none" stroke="#2a2a2a" stroke-width="0.9"/>
<line x1="33.3" y1="56.9" x2="35.1" y2="56.9" stroke="#333" stroke-width="0.8"/>
<line x1="113.7" y1="56.9" x2="115.5" y2="56.9" stroke="#333" stroke-width="0.8"/>
<line x1="33.3" y1="87.3" x2="35.1" y2="87.3" stroke="#333" stroke-width="0.8"/>
<line x1="113.7" y1="87.3" x2="115.5" y2="87.3" stroke="#333" stroke-width="0.8"/>
<line x1="33.3" y1="141.4" x2="115.5" y2="141.4" stroke="#111" stroke-width="1" stroke-dasharray="1.2 1.1"/>
<line x1="74.4" y1="129.3" x2="74.4" y2="233.4" stroke="#111" stroke-width="1" stroke-dasharray="1.2 1.1"/>
<rect x="33.3" y="129.3" width="82.2" height="104.1" fill="none" stroke="#2a2a2a" stroke-width="0.9"/>
<line x1="33.3" y1="172.1" x2="35.1" y2="172.1" stroke="#333" stroke-width="0.8"/>
<line x1="113.7" y1="172.1" x2="115.5" y2="172.1" stroke="#333" stroke-width="0.8"/>
<line x1="33.3" y1="202.8" x2="35.1" y2="202.8" stroke="#333" stroke-width="0.8"/>
<line x1="113.7" y1="202.8" x2="115.5" y2="202.8" stroke="#333" stroke-width="0.8"/>
<line x1="124.42" y1="26.5" x2="206.62" y2="26.5" stroke="#111" stroke-width="1" stroke-dasharray="1.2 1.1"/>
<line x1="165.52" y1="14.5" x2="165.52" y2="118.2" stroke="#111" stroke-width="1" stroke-dasharray="1.2 1.1"/>
<rect x="124.42" y="14.5" width="82.2" height="103.7" fill="none" stroke="#2a2a2a" stroke-width="0.9"/>
<line x1="124.42" y1="56.9" x2="126.22" y2="56.9" stroke="#333" stroke-width="0.8"/>
<line x1="204.82" y1="56.9" x2="206.62" y2="56.9" stroke="#333" stroke-width="0.8"/>
<line x1="124.42" y1="87.3" x2="126.22" y2="87.3" stroke="#333" stroke-width="0.8"/>
<line x1="204.82" y1="87.3" x2="206.62" y2="87.3" stroke="#333" stroke-width="0.8"/>
<line x1="124.42" y1="141.4" x2="206.62" y2="141.4" stroke="#111" stroke-width="1" stroke-dasharray="1.2 1.1"/>
<line x1="165.52" y1="129.3" x2="165.52" y2="233.4" stroke="#111" stroke-width="1" stroke-dasharray="1.2 1.1"/>
<rect x="124.42" y="129.3" width="82.2" height="104.1" fill="none" stroke="#2a2a2a" stroke-width="0.9"/>
<line x1="124.42" y1="172.1" x2="126.22" y2="172.1" stroke="#333" stroke-width="0.8"/>
<line x1="204.82" y1="172.1" x2="206.62" y2="172.1" stroke="#333" stroke-width="0.8"/>
<line x1="124.42" y1="202.8" x2="126.22" y2="202.8" stroke="#333" stroke-width="0.8"/>
<line x1="204.82" y1="202.8" x2="206.62" y2="202.8" stroke="#333" stroke-width="0.8"/>
<line x1="215.54" y1="26.5" x2="297.74" y2="26.5" stroke="#111" stroke-width="1" stroke-dasharray="1.2 1.1"/>
<line x1="256.64" y1="14.5" x2="256.64" y2="118.2" stroke="#111" stroke-width="1" stroke-dasharray="1.2 1.1"/>
<rect x="215.54" y="14.5" width="82.2" height="103.7" fill="none" stroke="#2a2a2a" stroke-width="0.9"/>
<line x1="215.54" y1="56.9" x2="217.34" y2="56.9" stroke="#333" stroke-width="0.8"/>
<line x1="295.94" y1="56.9" x2="297.74" y2="56.9" stroke="#333" stroke-width="0.8"/>
<line x1="215.54" y1="87.3" x2="217.34" y2="87.3" stroke="#333" stroke-width="0.8"/>
<line x1="295.94" y1="87.3" x2="297.74" y2="87.3" stroke="#333" stroke-width="0.8"/>
<line x1="215.54" y1="141.4" x2="297.74" y2="141.4" stroke="#111" stroke-width="1" stroke-dasharray="1.2 1.1"/>
<line x1="256.64" y1="129.3" x2="256.64" y2="233.4" stroke="#111" stroke-width="1" stroke-dasharray="1.2 1.1"/>
<rect x="215.54" y="129.3" width="82.2" height="104.1" fill="none" stroke="#2a2a2a" stroke-width="0.9"/>
<line x1="215.54" y1="172.1" x2="217.34" y2="172.1" stroke="#333" stroke-width="0.8"/>
<line x1="295.94" y1="172.1" x2="297.74" y2="172.1" stroke="#333" stroke-width="0.8"/>
<line x1="215.54" y1="202.8" x2="217.34" y2="202.8" stroke="#333" stroke-width="0.8"/>
<line x1="295.94" y1="202.8" x2="297.74" y2="202.8" stroke="#333" stroke-width="0.8"/>
<line x1="306.66" y1="26.5" x2="388.86" y2="26.5" stroke="#111" stroke-width="1" stroke-dasharray="1.2 1.1"/>
<line x1="347.76" y1="14.5" x2="347.76" y2="118.2" stroke="#111" stroke-width="1" stroke-dasharray="1.2 1.1"/>
<rect x="306.66" y="14.5" width="82.2" height="103.7" fill="none" stroke="#2a2a2a" stroke-width="0.9"/>
<line x1="306.66" y1="56.9" x2="308.46" y2="56.9" stroke="#333" stroke-width="0.8"/>
<line x1="387.06" y1="56.9" x2="388.86" y2="56.9" stroke="#333" stroke-width="0.8"/>
<line x1="306.66" y1="87.3" x2="308.46" y2="87.3" stroke="#333" stroke-width="0.8"/>
<line x1="387.06" y1="87.3" x2="388.86" y2="87.3" stroke="#333" stroke-width="0.8"/>
<line x1="306.66" y1="141.4" x2="388.86" y2="141.4" stroke="#111" stroke-width="1" stroke-dasharray="1.2 1.1"/>
<line x1="347.76" y1="129.3" x2="347.76" y2="233.4" stroke="#111" stroke-width="1" stroke-dasharray="1.2 1.1"/>
<rect x="306.66" y="129.3" width="82.2" height="104.1" fill="none" stroke="#2a2a2a" stroke-width="0.9"/>
<line x1="306.66" y1="172.1" x2="308.46" y2="172.1" stroke="#333" stroke-width="0.8"/>
<line x1="387.06" y1="172.1" x2="388.86" y2="172.1" stroke="#333" stroke-width="0.8"/>
<line x1="306.66" y1="202.8" x2="308.46" y2="202.8" stroke="#333" stroke-width="0.8"/>
<line x1="387.06" y1="202.8" x2="388.86" y2="202.8" stroke="#333" stroke-width="0.8"/>
<line x1="397.78" y1="26.5" x2="479.98" y2="26.5" stroke="#111" stroke-width="1" stroke-dasharray="1.2 1.1"/>
<line x1="438.88" y1="14.5" x2="438.88" y2="118.2" stroke="#111" stroke-width="1" stroke-dasharray="1.2 1.1"/>
<rect x="397.78" y="14.5" width="82.2" height="103.7" fill="none" stroke="#2a2a2a" stroke-width="0.9"/>
<line x1="397.78" y1="56.9" x2="399.58" y2="56.9" stroke="#333" stroke-width="0.8"/>
<line x1="478.18" y1="56.9" x2="479.98" y2="56.9" stroke="#333" stroke-width="0.8"/>
<line x1="397.78" y1="87.3" x2="399.58" y2="87.3" stroke="#333" stroke-width="0.8"/>
<line x1="478.18" y1="87.3" x2="479.98" y2="87.3" stroke="#333" stroke-width="0.8"/>
<line x1="397.78" y1="141.4" x2="479.98" y2="141.4" stroke="#111" stroke-width="1" stroke-dasharray="1.2 1.1"/>
<line x1="438.88" y1="129.3" x2="438.88" y2="233.4" stroke="#111" stroke-width="1" stroke-dasharray="1.2 1.1"/>
<rect x="397.78" y="129.3" width="82.2" height="104.1" fill="none" stroke="#2a2a2a" stroke-width="0.9"/>
<line x1="397.78" y1="172.1" x2="399.58" y2="172.1" stroke="#333" stroke-width="0.8"/>
<line x1="478.18" y1="172.1" x2="479.98" y2="172.1" stroke="#333" stroke-width="0.8"/>
<line x1="397.78" y1="202.8" x2="399.58" y2="202.8" stroke="#333" stroke-width="0.8"/>
<line x1="478.18" y1="202.8" x2="479.98" y2="202.8" stroke="#333" stroke-width="0.8"/>
<line x1="488.9" y1="26.5" x2="571.1" y2="26.5" stroke="#111" stroke-width="1" stroke-dasharray="1.2 1.1"/>
<line x1="530" y1="14.5" x2="530" y2="118.2" stroke="#111" stroke-width="1" stroke-dasharray="1.2 1.1"/>
<rect x="488.9" y="14.5" width="82.2" height="103.7" fill="none" stroke="#2a2a2a" stroke-width="0.9"/>
<line x1="488.9" y1="56.9" x2="490.7" y2="56.9" stroke="#333" stroke-width="0.8"/>
<line x1="569.3" y1="56.9" x2="571.1" y2="56.9" stroke="#333" stroke-width="0.8"/>
<line x1="488.9" y1="87.3" x2="490.7" y2="87.3" stroke="#333" stroke-width="0.8"/>
<line x1="569.3" y1="87.3" x2="571.1" y2="87.3" stroke="#333" stroke-width="0.8"/>
<line x1="488.9" y1="141.4" x2="571.1" y2="141.4" stroke="#111" stroke-width="1" stroke-dasharray="1.2 1.1"/>
<line x1="530" y1="129.3" x2="530" y2="233.4" stroke="#111" stroke-width="1" stroke-dasharray="1.2 1.1"/>
<rect x="488.9" y="129.3" width="82.2" height="104.1" fill="none" stroke="#2a2a2a" stroke-width="0.9"/>
<line x1="488.9" y1="172.1" x2="490.7" y2="172.1" stroke="#333" stroke-width="0.8"/>
<line x1="569.3" y1="172.1" x2="571.1" y2="172.1" stroke="#333" stroke-width="0.8"/>
<line x1="488.9" y1="202.8" x2="490.7" y2="202.8" stroke="#333" stroke-width="0.8"/>
<line x1="569.3" y1="202.8" x2="571.1" y2="202.8" stroke="#333" stroke-width="0.8"/>
<line x1="94.6" y1="147.8" x2="86.75" y2="150.25" stroke="#fff" stroke-width="0.9"/><path d="M83.7 151.2 L86.28 148.72 L87.23 151.77 Z" fill="#fff"/>
<line x1="53.5" y1="168.3" x2="61.75" y2="178.15" stroke="#fff" stroke-width="0.9"/><path d="M63.8 180.6 L60.52 179.17 L62.97 177.12 Z" fill="#fff"/>
<line x1="53.5" y1="187.8" x2="64" y2="203.25" stroke="#fff" stroke-width="0.9"/><path d="M65.8 205.9 L62.68 204.15 L65.32 202.35 Z" fill="#fff"/>
<line x1="107.7" y1="162" x2="107.7" y2="174.4" stroke="#1ef01e" stroke-width="2.2"/><path d="M107.7 178.2 L105.7 174.4 L109.7 174.4 Z" fill="#1ef01e"/>
<line x1="560.9" y1="162.2" x2="560.9" y2="174.6" stroke="#1ef01e" stroke-width="2.2"/><path d="M560.9 178.4 L558.9 174.6 L562.9 174.6 Z" fill="#1ef01e"/>
<rect x="584.8" y="36.2" width="4.8" height="58.8" fill="url(#cb1)" stroke="#999" stroke-width="0.5"/>
<rect x="584.8" y="155.3" width="4.8" height="57" fill="url(#cb2)" stroke="#999" stroke-width="0.5"/>
<rect x="615.7" y="13.7" width="42.9" height="95.3" fill="#fff" stroke="#2a2a2a" stroke-width="0.9"/>
<line x1="615.7" y1="24.9" x2="658.6" y2="24.9" stroke="#222" stroke-width="0.9" stroke-dasharray="1 1.2"/>
<line x1="615.7" y1="52.93" x2="617.5" y2="52.93" stroke="#333" stroke-width="0.8"/>
<line x1="656.8" y1="52.93" x2="658.6" y2="52.93" stroke="#333" stroke-width="0.8"/>
<line x1="615.7" y1="80.97" x2="617.5" y2="80.97" stroke="#333" stroke-width="0.8"/>
<line x1="656.8" y1="80.97" x2="658.6" y2="80.97" stroke="#333" stroke-width="0.8"/>
<path d="M616.1 15.5 C616.13 16.25 616.12 18.38 616.3 20 C616.48 21.62 616.62 23.33 617.2 25.2 C617.78 27.07 618.73 28.95 619.8 31.2 C620.87 33.45 621.95 35.9 623.6 38.7 C625.25 41.5 627.3 44.9 629.7 48 C632.1 51.1 635.6 54.47 638 57.3 C640.4 60.13 642.47 62.78 644.1 65 C645.73 67.22 646.68 68.73 647.8 70.6 C648.92 72.47 649.98 74.33 650.8 76.2 C651.62 78.07 652.27 79.93 652.7 81.8 C653.13 83.67 653.4 85.53 653.4 87.4 C653.4 89.27 653 91.3 652.7 93 C652.4 94.7 651.85 96.05 651.6 97.6 C651.35 99.15 651.02 100.4 651.2 102.3 C651.38 104.2 652.45 107.88 652.7 109" stroke="#f01818" stroke-width="1.1" fill="none" stroke-linejoin="round"/>
<rect x="615.7" y="130.6" width="42.9" height="94.4" fill="#fff" stroke="#2a2a2a" stroke-width="0.9"/>
<line x1="615.7" y1="141.8" x2="658.6" y2="141.8" stroke="#222" stroke-width="0.9" stroke-dasharray="1 1.2"/>
<line x1="615.7" y1="169.53" x2="617.5" y2="169.53" stroke="#333" stroke-width="0.8"/>
<line x1="656.8" y1="169.53" x2="658.6" y2="169.53" stroke="#333" stroke-width="0.8"/>
<line x1="615.7" y1="197.27" x2="617.5" y2="197.27" stroke="#333" stroke-width="0.8"/>
<line x1="656.8" y1="197.27" x2="658.6" y2="197.27" stroke="#333" stroke-width="0.8"/>
<path d="M615.8 130.8 C615.97 132.63 616.48 138.72 616.8 141.8 C617.12 144.88 617.23 146.8 617.7 149.3 C618.17 151.8 618.97 155.25 619.6 156.8 C620.23 158.35 620.42 158.05 621.5 158.6 C622.58 159.15 624.7 159.47 626.1 160.1 C627.5 160.73 628.8 161.55 629.9 162.4 C631 163.25 632.15 164.33 632.7 165.2 C633.25 166.07 633.52 166.83 633.2 167.6 C632.88 168.37 631.68 169.27 630.8 169.8 C629.92 170.33 628.7 170.17 627.9 170.8 C627.1 171.43 626.17 172.35 626 173.6 C625.83 174.85 626.28 176.9 626.9 178.3 C627.52 179.7 629.07 180.92 629.7 182 C630.33 183.08 630.7 184.02 630.7 184.8 C630.7 185.58 629.4 185.92 629.7 186.7 C630 187.48 630.78 188.63 632.5 189.5 C634.22 190.37 637.82 191.13 640 191.9 C642.18 192.67 644.2 193.12 645.6 194.1 C647 195.08 647.32 196.72 648.4 197.8 C649.48 198.88 650.87 199.67 652.1 200.6 C653.33 201.53 654.97 202.47 655.8 203.4 C656.63 204.33 657.1 205.12 657.1 206.2 C657.1 207.28 656.32 208.82 655.8 209.9 C655.28 210.98 653.83 211.92 654 212.7 C654.17 213.48 656.33 213.82 656.8 214.6 C657.27 215.38 657.05 216.62 656.8 217.4 C656.55 218.18 655.3 218.62 655.3 219.3 C655.3 219.98 656.3 220.88 656.8 221.5 C657.3 222.12 658.05 222.75 658.3 223" stroke="#f01818" stroke-width="1.1" fill="none" stroke-linejoin="round"/>
<text font-size="111" text-anchor="middle" font-weight="normal" fill="#111" font-family='"Liberation Sans", Arial, sans-serif' stroke="#111" stroke-width="3.11" transform="translate(77 8.3) scale(0.1 0.1)"><tspan font-style="italic">k</tspan><tspan font-style="italic" font-size="80" dy="24">z</tspan><tspan dy="-24"> = π/c</tspan></text>
<text font-size="111" text-anchor="middle" font-weight="normal" fill="#111" font-family='"Liberation Sans", Arial, sans-serif' stroke="#111" stroke-width="3.11" transform="translate(168.12 8.3) scale(0.1 0.1)"><tspan font-style="italic">k</tspan><tspan font-style="italic" font-size="80" dy="24">z</tspan><tspan dy="-24"> = 1.2 π/c</tspan></text>
<text font-size="111" text-anchor="middle" font-weight="normal" fill="#111" font-family='"Liberation Sans", Arial, sans-serif' stroke="#111" stroke-width="3.11" transform="translate(259.24 8.3) scale(0.1 0.1)"><tspan font-style="italic">k</tspan><tspan font-style="italic" font-size="80" dy="24">z</tspan><tspan dy="-24"> = 1.4 π/c</tspan></text>
<text font-size="111" text-anchor="middle" font-weight="normal" fill="#111" font-family='"Liberation Sans", Arial, sans-serif' stroke="#111" stroke-width="3.11" transform="translate(350.36 8.3) scale(0.1 0.1)"><tspan font-style="italic">k</tspan><tspan font-style="italic" font-size="80" dy="24">z</tspan><tspan dy="-24"> = 1.6 π/c</tspan></text>
<text font-size="111" text-anchor="middle" font-weight="normal" fill="#111" font-family='"Liberation Sans", Arial, sans-serif' stroke="#111" stroke-width="3.11" transform="translate(441.48 8.3) scale(0.1 0.1)"><tspan font-style="italic">k</tspan><tspan font-style="italic" font-size="80" dy="24">z</tspan><tspan dy="-24"> = 1.8 π/c</tspan></text>
<text font-size="111" text-anchor="middle" font-weight="normal" fill="#111" font-family='"Liberation Sans", Arial, sans-serif' stroke="#111" stroke-width="3.11" transform="translate(532.6 8.3) scale(0.1 0.1)"><tspan font-style="italic">k</tspan><tspan font-style="italic" font-size="80" dy="24">z</tspan><tspan dy="-24"> = 2.0 π/c</tspan></text>
<text font-size="110" text-anchor="start" font-weight="bold" fill="#000" font-family='"Liberation Sans", Arial, sans-serif' transform="translate(36.1 22.6) scale(0.1 0.1)">a</text>
<text font-size="110" text-anchor="start" font-weight="bold" fill="#000" font-family='"Liberation Sans", Arial, sans-serif' transform="translate(127.22 22.6) scale(0.1 0.1)">b</text>
<text font-size="110" text-anchor="start" font-weight="bold" fill="#000" font-family='"Liberation Sans", Arial, sans-serif' transform="translate(218.34 22.6) scale(0.1 0.1)">c</text>
<text font-size="110" text-anchor="start" font-weight="bold" fill="#000" font-family='"Liberation Sans", Arial, sans-serif' transform="translate(309.46 22.6) scale(0.1 0.1)">d</text>
<text font-size="110" text-anchor="start" font-weight="bold" fill="#000" font-family='"Liberation Sans", Arial, sans-serif' transform="translate(400.58 22.6) scale(0.1 0.1)">e</text>
<text font-size="110" text-anchor="start" font-weight="bold" fill="#000" font-family='"Liberation Sans", Arial, sans-serif' transform="translate(491.7 22.6) scale(0.1 0.1)">f</text>
<text font-size="110" text-anchor="start" font-weight="bold" fill="#fff" font-family='"Liberation Sans", Arial, sans-serif' transform="translate(36.1 140.6) scale(0.1 0.1)">g</text>
<text font-size="110" text-anchor="start" font-weight="bold" fill="#fff" font-family='"Liberation Sans", Arial, sans-serif' transform="translate(127.22 140.6) scale(0.1 0.1)">h</text>
<text font-size="110" text-anchor="start" font-weight="bold" fill="#fff" font-family='"Liberation Sans", Arial, sans-serif' transform="translate(218.34 140.6) scale(0.1 0.1)">i</text>
<text font-size="110" text-anchor="start" font-weight="bold" fill="#fff" font-family='"Liberation Sans", Arial, sans-serif' transform="translate(309.46 140.6) scale(0.1 0.1)">j</text>
<text font-size="110" text-anchor="start" font-weight="bold" fill="#fff" font-family='"Liberation Sans", Arial, sans-serif' transform="translate(400.58 140.6) scale(0.1 0.1)">k</text>
<text font-size="110" text-anchor="start" font-weight="bold" fill="#fff" font-family='"Liberation Sans", Arial, sans-serif' transform="translate(491.7 140.6) scale(0.1 0.1)">l</text>
<text font-size="93" text-anchor="end" font-weight="normal" fill="#111" font-family='"Liberation Sans", Arial, sans-serif' stroke="#111" stroke-width="2.6" transform="translate(31.3 29.7) scale(0.09 0.1)">0.0</text>
<text font-size="93" text-anchor="end" font-weight="normal" fill="#111" font-family='"Liberation Sans", Arial, sans-serif' stroke="#111" stroke-width="2.6" transform="translate(31.3 144.6) scale(0.09 0.1)">0.0</text>
<text font-size="93" text-anchor="end" font-weight="normal" fill="#111" font-family='"Liberation Sans", Arial, sans-serif' stroke="#111" stroke-width="2.6" transform="translate(31.3 60.1) scale(0.09 0.1)">-0.5</text>
<text font-size="93" text-anchor="end" font-weight="normal" fill="#111" font-family='"Liberation Sans", Arial, sans-serif' stroke="#111" stroke-width="2.6" transform="translate(31.3 175.3) scale(0.09 0.1)">-0.5</text>
<text font-size="93" text-anchor="end" font-weight="normal" fill="#111" font-family='"Liberation Sans", Arial, sans-serif' stroke="#111" stroke-width="2.6" transform="translate(31.3 90.5) scale(0.09 0.1)">-1.0</text>
<text font-size="93" text-anchor="end" font-weight="normal" fill="#111" font-family='"Liberation Sans", Arial, sans-serif' stroke="#111" stroke-width="2.6" transform="translate(31.3 206) scale(0.09 0.1)">-1.0</text>
<text font-size="93" text-anchor="end" font-weight="normal" fill="#111" font-family='"Liberation Sans", Arial, sans-serif' stroke="#111" stroke-width="2.6" transform="translate(31.3 120.9) scale(0.09 0.1)">-1.5</text>
<text font-size="93" text-anchor="end" font-weight="normal" fill="#111" font-family='"Liberation Sans", Arial, sans-serif' stroke="#111" stroke-width="2.6" transform="translate(31.3 236.7) scale(0.09 0.1)">-1.5</text>
<text font-size="93" text-anchor="middle" font-weight="normal" fill="#111" font-family='"Liberation Sans", Arial, sans-serif' stroke="#111" stroke-width="2.6" transform="translate(32.9 243) scale(0.09 0.1)">-1</text>
<text font-size="93" text-anchor="middle" font-weight="normal" fill="#111" font-family='"Liberation Sans", Arial, sans-serif' stroke="#111" stroke-width="2.6" transform="translate(74.4 243) scale(0.09 0.1)">0</text>
<text font-size="93" text-anchor="middle" font-weight="normal" fill="#111" font-family='"Liberation Sans", Arial, sans-serif' stroke="#111" stroke-width="2.6" transform="translate(115.5 243) scale(0.09 0.1)">1</text>
<text font-size="93" text-anchor="middle" font-weight="normal" fill="#111" font-family='"Liberation Sans", Arial, sans-serif' stroke="#111" stroke-width="2.6" transform="translate(124.02 243) scale(0.09 0.1)">-1</text>
<text font-size="93" text-anchor="middle" font-weight="normal" fill="#111" font-family='"Liberation Sans", Arial, sans-serif' stroke="#111" stroke-width="2.6" transform="translate(165.52 243) scale(0.09 0.1)">0</text>
<text font-size="93" text-anchor="middle" font-weight="normal" fill="#111" font-family='"Liberation Sans", Arial, sans-serif' stroke="#111" stroke-width="2.6" transform="translate(206.62 243) scale(0.09 0.1)">1</text>
<text font-size="93" text-anchor="middle" font-weight="normal" fill="#111" font-family='"Liberation Sans", Arial, sans-serif' stroke="#111" stroke-width="2.6" transform="translate(215.14 243) scale(0.09 0.1)">-1</text>
<text font-size="93" text-anchor="middle" font-weight="normal" fill="#111" font-family='"Liberation Sans", Arial, sans-serif' stroke="#111" stroke-width="2.6" transform="translate(256.64 243) scale(0.09 0.1)">0</text>
<text font-size="93" text-anchor="middle" font-weight="normal" fill="#111" font-family='"Liberation Sans", Arial, sans-serif' stroke="#111" stroke-width="2.6" transform="translate(297.74 243) scale(0.09 0.1)">1</text>
<text font-size="93" text-anchor="middle" font-weight="normal" fill="#111" font-family='"Liberation Sans", Arial, sans-serif' stroke="#111" stroke-width="2.6" transform="translate(306.26 243) scale(0.09 0.1)">-1</text>
<text font-size="93" text-anchor="middle" font-weight="normal" fill="#111" font-family='"Liberation Sans", Arial, sans-serif' stroke="#111" stroke-width="2.6" transform="translate(347.76 243) scale(0.09 0.1)">0</text>
<text font-size="93" text-anchor="middle" font-weight="normal" fill="#111" font-family='"Liberation Sans", Arial, sans-serif' stroke="#111" stroke-width="2.6" transform="translate(388.86 243) scale(0.09 0.1)">1</text>
<text font-size="93" text-anchor="middle" font-weight="normal" fill="#111" font-family='"Liberation Sans", Arial, sans-serif' stroke="#111" stroke-width="2.6" transform="translate(397.38 243) scale(0.09 0.1)">-1</text>
<text font-size="93" text-anchor="middle" font-weight="normal" fill="#111" font-family='"Liberation Sans", Arial, sans-serif' stroke="#111" stroke-width="2.6" transform="translate(438.88 243) scale(0.09 0.1)">0</text>
<text font-size="93" text-anchor="middle" font-weight="normal" fill="#111" font-family='"Liberation Sans", Arial, sans-serif' stroke="#111" stroke-width="2.6" transform="translate(479.98 243) scale(0.09 0.1)">1</text>
<text font-size="93" text-anchor="middle" font-weight="normal" fill="#111" font-family='"Liberation Sans", Arial, sans-serif' stroke="#111" stroke-width="2.6" transform="translate(488.5 243) scale(0.09 0.1)">-1</text>
<text font-size="93" text-anchor="middle" font-weight="normal" fill="#111" font-family='"Liberation Sans", Arial, sans-serif' stroke="#111" stroke-width="2.6" transform="translate(530 243) scale(0.09 0.1)">0</text>
<text font-size="93" text-anchor="middle" font-weight="normal" fill="#111" font-family='"Liberation Sans", Arial, sans-serif' stroke="#111" stroke-width="2.6" transform="translate(571.1 243) scale(0.09 0.1)">1</text>
<text font-size="152" text-anchor="middle" font-weight="normal" fill="#111" font-family='"Liberation Sans", Arial, sans-serif' stroke="#111" stroke-width="4.26" transform="translate(11.2 123.5) rotate(-90) scale(0.1 0.1)"><tspan font-style="italic">E</tspan> - <tspan font-style="italic">E</tspan><tspan font-style="italic" font-size="105" dy="28">F</tspan><tspan dy="-28"> (eV)</tspan></text>
<text font-size="145" text-anchor="middle" font-weight="normal" fill="#111" font-family='"Liberation Sans", Arial, sans-serif' stroke="#111" stroke-width="4.06" transform="translate(302.5 261.9) scale(0.1 0.1)"><tspan font-style="italic">k</tspan><tspan font-size="105" dy="48" fill="#666" stroke="#666" stroke-width="1.5">∥</tspan><tspan dy="-48"> (</tspan><tspan font-family='"Liberation Serif", serif'>Å</tspan><tspan font-size="100" dy="-83">-1</tspan><tspan dy="83">)</tspan></text>
<text font-size="110" text-anchor="start" font-weight="bold" fill="#fff" font-family='"Liberation Sans", Arial, sans-serif' transform="translate(95.2 149.5) scale(0.1 0.1)">SS</text>
<text font-size="104" text-anchor="start" font-weight="bold" fill="#fff" font-family='"Liberation Sans", Arial, sans-serif' transform="translate(35.8 165.3) scale(0.1 0.1)">BS1</text>
<text font-size="104" text-anchor="start" font-weight="bold" fill="#fff" font-family='"Liberation Sans", Arial, sans-serif' transform="translate(34 185.8) scale(0.1 0.1)">BS2</text>
<text font-size="92" text-anchor="middle" font-weight="normal" fill="#111" font-family='"Liberation Sans", Arial, sans-serif' stroke="#111" stroke-width="2.58" transform="translate(587.8 31.8) scale(0.1 0.1)">High</text>
<text font-size="92" text-anchor="middle" font-weight="normal" fill="#111" font-family='"Liberation Sans", Arial, sans-serif' stroke="#111" stroke-width="2.58" transform="translate(587.8 102.6) scale(0.1 0.1)">Low</text>
<text font-size="92" text-anchor="middle" font-weight="normal" fill="#111" font-family='"Liberation Sans", Arial, sans-serif' stroke="#111" stroke-width="2.58" transform="translate(587.8 150.7) scale(0.1 0.1)">High</text>
<text font-size="92" text-anchor="middle" font-weight="normal" fill="#111" font-family='"Liberation Sans", Arial, sans-serif' stroke="#111" stroke-width="2.58" transform="translate(587.8 220.5) scale(0.1 0.1)">Low</text>
<text font-size="80" text-anchor="end" font-weight="normal" fill="#111" font-family='"Liberation Sans", Arial, sans-serif' stroke="#111" stroke-width="2.24" transform="translate(614.2 27.8) scale(0.09 0.1)">0.0</text>
<text font-size="80" text-anchor="end" font-weight="normal" fill="#111" font-family='"Liberation Sans", Arial, sans-serif' stroke="#111" stroke-width="2.24" transform="translate(614.2 55.83) scale(0.09 0.1)">-0.5</text>
<text font-size="80" text-anchor="end" font-weight="normal" fill="#111" font-family='"Liberation Sans", Arial, sans-serif' stroke="#111" stroke-width="2.24" transform="translate(614.2 83.87) scale(0.09 0.1)">-1.0</text>
<text font-size="80" text-anchor="end" font-weight="normal" fill="#111" font-family='"Liberation Sans", Arial, sans-serif' stroke="#111" stroke-width="2.24" transform="translate(614.2 111.9) scale(0.09 0.1)">-1.5</text>
<text font-size="110" text-anchor="start" font-weight="bold" fill="#000" font-family='"Liberation Sans", Arial, sans-serif' transform="translate(619.8 22.6) scale(0.1 0.1)">m</text>
<text font-size="86" text-anchor="start" font-weight="normal" fill="#111" font-family='"Liberation Sans", Arial, sans-serif' stroke="#111" stroke-width="2.41" transform="translate(619.6 103.7) scale(0.1 0.1)">ARPES</text>
<text font-size="80" text-anchor="end" font-weight="normal" fill="#111" font-family='"Liberation Sans", Arial, sans-serif' stroke="#111" stroke-width="2.24" transform="translate(614.2 144.7) scale(0.09 0.1)">0.0</text>
<text font-size="80" text-anchor="end" font-weight="normal" fill="#111" font-family='"Liberation Sans", Arial, sans-serif' stroke="#111" stroke-width="2.24" transform="translate(614.2 172.43) scale(0.09 0.1)">-0.5</text>
<text font-size="80" text-anchor="end" font-weight="normal" fill="#111" font-family='"Liberation Sans", Arial, sans-serif' stroke="#111" stroke-width="2.24" transform="translate(614.2 200.17) scale(0.09 0.1)">-1.0</text>
<text font-size="80" text-anchor="end" font-weight="normal" fill="#111" font-family='"Liberation Sans", Arial, sans-serif' stroke="#111" stroke-width="2.24" transform="translate(614.2 227.9) scale(0.09 0.1)">-1.5</text>
<text font-size="110" text-anchor="start" font-weight="bold" fill="#000" font-family='"Liberation Sans", Arial, sans-serif' transform="translate(619.8 139.5) scale(0.1 0.1)">n</text>
<text font-size="86" text-anchor="start" font-weight="normal" fill="#111" font-family='"Liberation Sans", Arial, sans-serif' stroke="#111" stroke-width="2.41" transform="translate(619.6 219.7) scale(0.1 0.1)">DFT</text>
<text font-size="112" text-anchor="start" font-weight="normal" fill="#111" font-family='"Liberation Sans", Arial, sans-serif' stroke="#111" stroke-width="3.14" transform="translate(587.6 122.8) scale(0.1 0.1)">Intensity (arb. units)</text>
<text font-size="113" text-anchor="start" font-weight="normal" fill="#111" font-family='"Liberation Sans", Arial, sans-serif' stroke="#111" stroke-width="3.16" transform="translate(591 240.3) scale(0.1 0.1)">DOS (arb. units)</text>
</svg></body></html>
